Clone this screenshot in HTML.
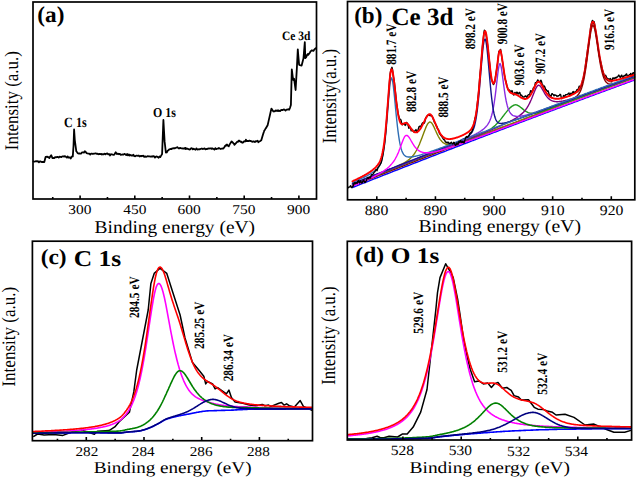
<!DOCTYPE html>
<html><head><meta charset="utf-8"><style>html,body{margin:0;padding:0;background:#fff;width:637px;height:479px;overflow:hidden}svg{display:block;font-family:"Liberation Serif",serif}</style></head>
<body><svg width="637" height="479" viewBox="0 0 637 479">
<rect width="637" height="479" fill="#fff"/>
<g font-family="Liberation Serif" font-size="100" fill="#000" text-rendering="geometricPrecision">
<text transform="matrix(0.23241 0 0 0.22556 37.37 21.66)" font-weight="bold">(a)</text>
<text transform="matrix(0.12123 0 0 0.14179 64.09 126.56)" font-weight="bold">C 1s</text>
<text transform="matrix(0.11957 0 0 0.13529 152.90 116.73)" font-weight="bold">O 1s</text>
<text transform="matrix(0.11494 0 0 0.12817 281.93 39.84)" font-weight="bold">Ce 3d</text>
<text transform="matrix(0.15475 0 0 0.13582 68.32 214.33)" font-weight="normal">300</text>
<text transform="matrix(0.15475 0 0 0.13582 123.25 214.33)" font-weight="normal">450</text>
<text transform="matrix(0.15475 0 0 0.13582 177.54 214.33)" font-weight="normal">600</text>
<text transform="matrix(0.15475 0 0 0.13582 232.31 214.33)" font-weight="normal">750</text>
<text transform="matrix(0.15475 0 0 0.13582 287.02 214.33)" font-weight="normal">900</text>
<text transform="matrix(0.19425 0 0 0.18111 94.62 233.20)" font-weight="normal">Binding energy (eV)</text>
<text transform="matrix(0 -0.16886 0.19222 0 17.86 150.18)" font-weight="normal">Intensity (a.u.)</text>
<text transform="matrix(0.23070 0 0 0.23111 354.18 23.05)" font-weight="bold">(b)</text>
<text transform="matrix(0.25145 0 0 0.24789 391.44 24.80)" font-weight="bold">Ce 3d</text>
<text transform="matrix(0 -0.11191 0.14388 0 395.60 64.80)" font-weight="bold">881.7 eV</text>
<text transform="matrix(0 -0.11191 0.14388 0 415.68 112.00)" font-weight="bold">882.8 eV</text>
<text transform="matrix(0 -0.11191 0.14388 0 447.73 117.60)" font-weight="bold">888.5 eV</text>
<text transform="matrix(0 -0.11191 0.14388 0 474.93 49.25)" font-weight="bold">898.2 eV</text>
<text transform="matrix(0 -0.11191 0.14388 0 506.63 44.20)" font-weight="bold">900.8 eV</text>
<text transform="matrix(0 -0.11191 0.14388 0 524.23 85.40)" font-weight="bold">903.6 eV</text>
<text transform="matrix(0 -0.11191 0.14388 0 544.83 74.10)" font-weight="bold">907.2 eV</text>
<text transform="matrix(0 -0.11191 0.14388 0 614.25 49.95)" font-weight="bold">916.5 eV</text>
<text transform="matrix(0.15750 0 0 0.14286 364.74 214.50)" font-weight="normal">880</text>
<text transform="matrix(0.15750 0 0 0.14286 423.54 214.50)" font-weight="normal">890</text>
<text transform="matrix(0.15750 0 0 0.14286 482.42 214.50)" font-weight="normal">900</text>
<text transform="matrix(0.15750 0 0 0.14286 540.97 214.57)" font-weight="normal">910</text>
<text transform="matrix(0.15750 0 0 0.14286 599.77 214.50)" font-weight="normal">920</text>
<text transform="matrix(0.19682 0 0 0.18000 418.41 231.72)" font-weight="normal">Binding energy (eV)</text>
<text transform="matrix(0 -0.16817 0.20000 0 335.90 143.27)" font-weight="normal">Intensity(a.u.)</text>
<text transform="matrix(0.23301 0 0 0.21778 40.67 264.43)" font-weight="bold">(c)</text>
<text transform="matrix(0.25475 0 0 0.22687 73.73 265.67)" font-weight="bold">C 1s</text>
<text transform="matrix(0 -0.11369 0.14129 0 139.30 318.03)" font-weight="bold">284.5 eV</text>
<text transform="matrix(0 -0.11369 0.14129 0 204.30 348.97)" font-weight="bold">285.25 eV</text>
<text transform="matrix(0 -0.11369 0.14129 0 232.95 381.37)" font-weight="bold">286.34 eV</text>
<text transform="matrix(0.15186 0 0 0.13582 75.51 455.93)" font-weight="normal">282</text>
<text transform="matrix(0.15186 0 0 0.13582 131.86 455.93)" font-weight="normal">284</text>
<text transform="matrix(0.15186 0 0 0.13582 189.73 455.93)" font-weight="normal">286</text>
<text transform="matrix(0.15186 0 0 0.13582 246.96 455.93)" font-weight="normal">288</text>
<text transform="matrix(0.19108 0 0 0.16556 93.73 472.92)" font-weight="normal">Binding energy (eV)</text>
<text transform="matrix(0 -0.17024 0.19000 0 14.81 386.58)" font-weight="normal">Intensity (a.u.)</text>
<text transform="matrix(0.23421 0 0 0.22111 355.36 262.36)" font-weight="bold">(d)</text>
<text transform="matrix(0.25326 0 0 0.22500 390.83 263.45)" font-weight="bold">O 1s</text>
<text transform="matrix(0 -0.11464 0.14113 0 422.95 333.71)" font-weight="bold">529.6 eV</text>
<text transform="matrix(0 -0.11464 0.14113 0 507.47 372.71)" font-weight="bold">531.2 eV</text>
<text transform="matrix(0 -0.11464 0.14113 0 547.05 394.66)" font-weight="bold">532.4 eV</text>
<text transform="matrix(0.15484 0 0 0.14136 390.68 455.45)" font-weight="normal">528</text>
<text transform="matrix(0.15484 0 0 0.14136 448.73 455.45)" font-weight="normal">530</text>
<text transform="matrix(0.15484 0 0 0.14136 507.04 455.52)" font-weight="normal">532</text>
<text transform="matrix(0.15484 0 0 0.14136 564.83 455.52)" font-weight="normal">534</text>
<text transform="matrix(0.19438 0 0 0.16556 409.52 472.92)" font-weight="normal">Binding energy (eV)</text>
<text transform="matrix(0 -0.16799 0.20000 0 334.60 384.87)" font-weight="normal">Intensity (a.u.)</text>
</g>
<polyline points="33.5,161.4 34.4,161.6 35.3,161.4 36.2,161.1 37.1,161.4 38.0,161.2 38.0,161.6 38.9,162.3 39.8,161.5 40.7,161.5 41.6,162.0 42.5,162.0 43.4,162.0 44.3,161.6 44.3,162.0 45.2,158.5 45.6,157.0 46.1,157.0 47.0,156.6 47.9,157.2 48.8,157.2 49.3,158.1 49.7,157.5 50.6,156.1 51.2,155.2 51.5,155.8 52.4,158.0 52.5,158.2 53.3,158.0 54.2,158.0 55.1,157.1 56.0,157.4 56.9,157.0 57.8,156.9 58.7,157.6 59.6,156.6 60.5,156.8 61.4,157.1 62.3,156.3 63.2,156.3 63.2,156.4 64.1,156.6 65.0,156.1 65.9,156.9 66.8,157.6 67.7,156.4 68.6,157.7 69.5,157.5 70.4,157.3 70.7,158.5 71.3,157.6 72.2,156.2 72.8,156.4 73.1,151.9 73.5,146.0 74.0,132.3 74.1,129.5 74.8,140.0 74.9,140.8 75.8,147.5 76.3,151.3 76.7,151.6 77.6,153.1 78.2,153.3 78.5,153.5 79.4,153.4 80.3,153.7 81.2,153.6 82.1,152.3 83.0,152.3 83.9,152.7 84.8,151.3 85.7,151.8 85.8,152.0 86.6,153.1 87.5,153.5 88.3,153.7 88.4,153.6 89.3,153.7 90.2,154.5 91.1,153.6 92.0,153.7 92.9,154.0 93.8,153.7 94.7,153.7 95.6,153.3 96.5,153.8 97.4,153.6 98.3,154.3 98.3,154.1 99.2,153.9 100.1,154.2 101.0,153.8 101.9,154.5 102.8,154.1 103.7,154.4 104.6,153.6 105.5,154.4 106.4,153.6 107.3,153.5 108.2,154.3 109.1,154.1 110.0,154.7 110.0,155.6 110.9,154.2 111.8,154.3 112.7,154.7 113.6,154.8 114.4,154.6 114.5,154.4 115.4,152.7 115.7,152.3 116.3,153.0 116.9,154.0 117.2,154.0 118.1,153.7 119.0,154.3 119.9,153.9 120.8,154.8 121.7,154.6 122.6,154.6 122.6,154.3 123.5,154.6 124.4,153.9 125.3,154.3 126.2,155.1 127.1,154.0 128.0,155.4 128.9,154.4 129.8,155.6 130.7,154.9 131.6,155.7 132.5,155.5 133.4,154.8 134.3,156.2 135.2,156.3 136.1,155.7 137.0,155.7 137.9,155.8 138.8,155.5 139.7,156.5 140.6,155.9 141.4,156.2 141.5,155.8 142.4,156.0 143.3,155.7 144.2,156.9 145.1,156.3 146.0,156.9 146.9,156.5 147.8,156.2 148.7,156.4 149.6,156.3 150.5,156.6 151.4,156.5 152.3,156.6 153.2,156.1 154.1,156.4 155.0,157.6 155.9,156.6 156.8,156.5 157.7,157.1 158.6,157.7 159.5,156.4 160.3,157.1 160.4,156.9 161.3,155.4 162.1,154.0 162.2,151.4 163.1,127.8 163.4,120.0 164.0,130.7 164.6,141.4 164.9,144.0 165.8,151.8 165.9,152.7 166.7,152.5 167.6,150.8 168.5,150.2 169.0,149.6 169.4,149.3 170.3,149.0 171.2,149.2 172.1,148.5 173.0,148.3 173.9,148.1 174.8,148.4 175.3,148.0 175.7,147.9 176.6,147.5 177.5,147.2 178.4,148.3 179.3,148.4 180.2,147.9 181.1,148.3 182.0,148.4 182.9,148.5 183.8,148.6 184.7,148.1 185.4,149.0 185.6,147.8 186.5,148.8 187.4,148.7 188.3,149.0 189.2,149.5 190.1,149.4 191.0,148.3 191.9,148.2 192.8,149.4 193.7,148.7 194.6,149.2 195.5,149.7 196.3,148.7 196.4,148.4 197.3,149.5 198.2,149.3 199.1,149.2 200.0,149.3 200.9,148.8 201.8,148.5 202.7,149.1 203.6,148.7 204.5,148.3 205.4,149.3 206.3,149.0 207.2,149.1 208.1,148.5 209.0,148.6 209.9,148.4 210.8,148.4 211.7,148.9 212.6,148.4 213.2,148.9 213.5,148.9 214.4,149.6 215.3,148.1 216.2,149.1 217.1,148.7 218.0,148.7 218.9,148.0 219.8,148.5 220.7,149.0 221.6,148.7 222.4,148.7 222.5,148.5 223.4,148.5 224.3,147.3 225.2,145.7 226.0,145.8 226.1,145.2 227.0,144.5 227.9,145.7 228.8,146.4 228.8,145.8 229.7,144.4 230.6,142.9 231.5,141.5 231.6,141.4 232.4,142.2 233.3,143.2 234.2,144.2 234.4,144.8 235.1,144.1 236.0,143.2 236.9,141.9 237.8,141.9 238.7,140.6 238.7,141.4 239.6,140.8 240.5,141.7 241.4,142.2 241.5,141.7 242.3,142.8 243.2,142.4 244.1,141.2 245.0,141.5 245.7,141.1 245.9,139.7 246.8,141.1 247.7,141.0 248.6,141.1 249.5,140.6 250.4,141.0 251.3,141.1 252.2,141.8 253.1,141.5 254.0,141.4 254.9,142.1 255.8,141.2 256.7,141.3 257.6,140.7 258.4,142.3 258.5,142.0 259.4,141.5 260.3,141.0 261.2,140.3 261.3,140.3 262.1,137.6 263.0,134.6 263.9,131.7 264.1,131.0 264.8,129.9 265.7,128.4 266.6,127.0 267.5,125.6 267.6,125.4 268.4,121.9 269.3,117.9 270.2,113.9 271.1,109.9 271.4,108.6 272.0,109.5 272.9,110.8 273.4,111.5 273.8,111.4 274.7,111.4 275.6,110.5 276.5,110.9 277.4,110.4 278.1,111.1 278.3,110.3 279.2,110.8 280.1,111.0 281.0,110.1 281.9,109.8 282.8,110.0 283.7,109.7 283.8,109.3 284.6,109.9 285.5,110.6 286.4,109.6 287.3,109.6 288.2,109.2 289.1,109.8 289.4,109.1 290.0,107.8 290.9,105.0 290.9,105.0 291.8,69.4 291.8,69.4 292.7,76.5 293.1,79.7 293.6,80.1 294.1,78.8 294.5,81.8 295.4,88.5 295.6,90.0 296.3,77.9 296.9,67.5 297.2,61.6 297.8,49.3 298.1,53.2 299.0,63.5 299.1,64.7 299.9,65.1 300.8,65.4 301.6,65.6 301.7,65.2 302.6,61.7 303.5,58.1 303.5,58.1 304.4,47.1 304.8,42.2 305.3,58.1 305.3,58.1 306.2,57.1 307.1,54.9 308.0,54.0 308.2,54.8 308.9,54.0 309.8,52.7 310.7,51.1 311.6,50.7 311.9,50.3 312.5,50.6 313.4,50.9 314.3,49.6 315.2,48.7 315.7,48.3" fill="none" stroke="#000" stroke-width="1.8" stroke-linejoin="round" stroke-linecap="round"/><polyline points="352.5,187.5 353.1,187.2 353.7,187.0 354.3,186.8 354.9,186.5 355.5,186.3 356.1,186.1 356.7,185.8 357.3,185.6 357.9,185.3 358.5,185.1 359.1,184.9 359.7,184.6 360.3,184.4 360.9,184.2 361.5,183.9 362.1,183.7 362.7,183.4 363.3,183.2 363.9,183.0 364.5,182.7 365.1,182.5 365.7,182.3 366.3,182.0 366.9,181.8 367.5,181.6 368.1,181.3 368.7,181.1 369.3,180.8 369.9,180.6 370.5,180.4 371.1,180.1 371.7,179.9 372.3,179.7 372.9,179.4 373.5,179.2 374.1,178.9 374.7,178.7 375.3,178.5 375.9,178.2 376.5,178.0 377.1,177.8 377.7,177.5 378.3,177.3 378.9,177.1 379.5,176.8 380.1,176.6 380.7,176.3 381.3,176.1 381.9,175.9 382.5,175.6 383.1,175.4 383.7,175.2 384.3,174.9 384.9,174.7 385.5,174.5 386.1,174.2 386.7,174.0 387.3,173.8 387.9,173.5 388.5,173.3 389.1,173.0 389.7,172.8 390.3,172.6 390.9,172.3 391.5,172.1 392.1,171.9 392.7,171.6 393.3,171.4 393.9,171.2 394.5,170.9 395.1,170.7 395.7,170.5 396.3,170.2 396.9,170.0 397.5,169.8 398.1,169.5 398.7,169.3 399.3,169.0 399.9,168.8 400.5,168.6 401.1,168.3 401.7,168.1 402.3,167.9 402.9,167.6 403.5,167.4 404.1,167.2 404.7,166.9 405.3,166.7 405.9,166.5 406.5,166.2 407.1,166.0 407.7,165.8 408.3,165.5 408.9,165.3 409.5,165.1 410.1,164.8 410.7,164.6 411.3,164.4 411.9,164.1 412.5,163.9 413.1,163.7 413.7,163.4 414.3,163.2 414.9,163.0 415.5,162.7 416.1,162.5 416.7,162.3 417.3,162.0 417.9,161.8 418.5,161.6 419.1,161.3 419.7,161.1 420.3,160.9 420.9,160.6 421.5,160.4 422.1,160.2 422.7,159.9 423.3,159.7 423.9,159.5 424.5,159.2 425.1,159.0 425.7,158.8 426.3,158.5 426.9,158.3 427.5,158.1 428.1,157.8 428.7,157.6 429.3,157.4 429.9,157.1 430.5,156.9 431.1,156.7 431.7,156.4 432.3,156.2 432.9,156.0 433.5,155.7 434.1,155.5 434.7,155.3 435.3,155.0 435.9,154.8 436.5,154.6 437.1,154.3 437.7,154.1 438.3,153.9 438.9,153.6 439.5,153.4 440.1,153.2 440.7,152.9 441.3,152.7 441.9,152.5 442.5,152.2 443.1,152.0 443.7,151.8 444.3,151.5 444.9,151.3 445.5,151.1 446.1,150.9 446.7,150.6 447.3,150.4 447.9,150.2 448.5,149.9 449.1,149.7 449.7,149.5 450.3,149.2 450.9,149.0 451.5,148.8 452.1,148.5 452.7,148.3 453.3,148.1 453.9,147.8 454.5,147.6 455.1,147.4 455.7,147.2 456.3,146.9 456.9,146.7 457.5,146.5 458.1,146.2 458.7,146.0 459.3,145.8 459.9,145.5 460.5,145.3 461.1,145.1 461.7,144.8 462.3,144.6 462.9,144.4 463.5,144.1 464.1,143.9 464.7,143.7 465.3,143.5 465.9,143.2 466.5,143.0 467.1,142.8 467.7,142.5 468.3,142.3 468.9,142.1 469.5,141.8 470.1,141.6 470.7,141.4 471.3,141.2 471.9,140.9 472.5,140.7 473.1,140.5 473.7,140.2 474.3,140.0 474.9,139.8 475.5,139.5 476.1,139.3 476.7,139.1 477.3,138.9 477.9,138.6 478.5,138.4 479.1,138.2 479.7,137.9 480.3,137.7 480.9,137.5 481.5,137.2 482.1,137.0 482.7,136.8 483.3,136.6 483.9,136.3 484.5,136.1 485.1,135.9 485.7,135.6 486.3,135.4 486.9,135.2 487.5,135.0 488.1,134.7 488.7,134.5 489.3,134.3 489.9,134.0 490.5,133.8 491.1,133.6 491.7,133.4 492.3,133.1 492.9,132.9 493.5,132.7 494.1,132.4 494.7,132.2 495.3,132.0 495.9,131.8 496.5,131.5 497.1,131.3 497.7,131.1 498.3,130.8 498.9,130.6 499.5,130.4 500.1,130.2 500.7,129.9 501.3,129.7 501.9,129.5 502.5,129.2 503.1,129.0 503.7,128.8 504.3,128.6 504.9,128.3 505.5,128.1 506.1,127.9 506.7,127.6 507.3,127.4 507.9,127.2 508.5,127.0 509.1,126.7 509.7,126.5 510.3,126.3 510.9,126.1 511.5,125.8 512.1,125.6 512.7,125.4 513.3,125.1 513.9,124.9 514.5,124.7 515.1,124.5 515.7,124.2 516.3,124.0 516.9,123.8 517.5,123.6 518.1,123.3 518.7,123.1 519.3,122.9 519.9,122.6 520.5,122.4 521.1,122.2 521.7,122.0 522.3,121.7 522.9,121.5 523.5,121.3 524.1,121.1 524.7,120.8 525.3,120.6 525.9,120.4 526.5,120.2 527.1,119.9 527.7,119.7 528.3,119.5 528.9,119.2 529.5,119.0 530.1,118.8 530.7,118.6 531.3,118.3 531.9,118.1 532.5,117.9 533.1,117.7 533.7,117.4 534.3,117.2 534.9,117.0 535.5,116.8 536.1,116.5 536.7,116.3 537.3,116.1 537.9,115.9 538.5,115.6 539.1,115.4 539.7,115.2 540.3,115.0 540.9,114.7 541.5,114.5 542.1,114.3 542.7,114.1 543.3,113.8 543.9,113.6 544.5,113.4 545.1,113.2 545.7,112.9 546.3,112.7 546.9,112.5 547.5,112.3 548.1,112.0 548.7,111.8 549.3,111.6 549.9,111.4 550.5,111.1 551.1,110.9 551.7,110.7 552.3,110.5 552.9,110.2 553.5,110.0 554.1,109.8 554.7,109.6 555.3,109.3 555.9,109.1 556.5,108.9 557.1,108.7 557.7,108.4 558.3,108.2 558.9,108.0 559.5,107.8 560.1,107.5 560.7,107.3 561.3,107.1 561.9,106.9 562.5,106.6 563.1,106.4 563.7,106.2 564.3,106.0 564.9,105.7 565.5,105.5 566.1,105.3 566.7,105.1 567.3,104.8 567.9,104.6 568.5,104.4 569.1,104.2 569.7,104.0 570.3,103.7 570.9,103.5 571.5,103.3 572.1,103.1 572.7,102.8 573.3,102.6 573.9,102.4 574.5,102.2 575.1,101.9 575.7,101.7 576.3,101.5 576.9,101.3 577.5,101.0 578.1,100.8 578.7,100.6 579.3,100.4 579.9,100.2 580.5,99.9 581.1,99.7 581.7,99.5 582.3,99.3 582.9,99.0 583.5,98.8 584.1,98.6 584.7,98.4 585.3,98.2 585.9,97.9 586.5,97.7 587.1,97.5 587.7,97.3 588.3,97.0 588.9,96.8 589.5,96.6 590.1,96.4 590.7,96.2 591.3,95.9 591.9,95.7 592.5,95.5 593.1,95.3 593.7,95.0 594.3,94.8 594.9,94.6 595.5,94.4 596.1,94.2 596.7,93.9 597.3,93.7 597.9,93.5 598.5,93.3 599.1,93.0 599.7,92.8 600.3,92.6 600.9,92.4 601.5,92.2 602.1,91.9 602.7,91.7 603.3,91.5 603.9,91.3 604.5,91.0 605.1,90.8 605.7,90.6 606.3,90.4 606.9,90.2 607.5,89.9 608.1,89.7 608.7,89.5 609.3,89.3 609.9,89.1 610.5,88.8 611.1,88.6 611.7,88.4 612.3,88.2 612.9,88.0 613.5,87.7 614.1,87.5 614.7,87.3 615.3,87.1 615.9,86.9 616.5,86.6 617.1,86.4 617.7,86.2 618.3,86.0 618.9,85.7 619.5,85.5 620.1,85.3 620.7,85.1 621.3,84.9 621.9,84.6 622.5,84.4 623.1,84.2 623.7,84.0 624.3,83.8 624.9,83.5 625.5,83.3 626.1,83.1 626.7,82.9 627.3,82.7 627.9,82.4 628.5,82.2 629.1,82.0 629.7,81.8 630.3,81.6 630.9,81.3 631.5,81.1 632.1,80.9 632.7,80.7 633.3,80.5 633.9,80.3 634.5,80.0" fill="none" stroke="#0000ff" stroke-width="1.4" stroke-linejoin="round" stroke-linecap="round"/><polyline points="352.5,185.9 353.1,185.6 353.7,185.4 354.3,185.2 354.9,184.9 355.5,184.7 356.1,184.4 356.7,184.2 357.3,184.0 357.9,183.7 358.5,183.5 359.1,183.3 359.7,183.0 360.3,182.8 360.9,182.5 361.5,182.3 362.1,182.1 362.7,181.8 363.3,181.6 363.9,181.4 364.5,181.1 365.1,180.9 365.7,180.6 366.3,180.4 366.9,180.2 367.5,179.9 368.1,179.7 368.7,179.5 369.3,179.2 369.9,179.0 370.5,178.7 371.1,178.5 371.7,178.3 372.3,178.0 372.9,177.8 373.5,177.6 374.1,177.3 374.7,177.1 375.3,176.9 375.9,176.6 376.5,176.4 377.1,176.1 377.7,175.9 378.3,175.7 378.9,175.4 379.5,175.2 380.1,175.0 380.7,174.7 381.3,174.5 381.9,174.3 382.5,174.0 383.1,173.8 383.7,173.5 384.3,173.3 384.9,173.1 385.5,172.8 386.1,172.6 386.7,172.4 387.3,172.1 387.9,171.9 388.5,171.7 389.1,171.4 389.7,171.2 390.3,171.0 390.9,170.7 391.5,170.5 392.1,170.2 392.7,170.0 393.3,169.8 393.9,169.5 394.5,169.3 395.1,169.1 395.7,168.8 396.3,168.6 396.9,168.4 397.5,168.1 398.1,167.9 398.7,167.7 399.3,167.4 399.9,167.2 400.5,167.0 401.1,166.7 401.7,166.5 402.3,166.3 402.9,166.0 403.5,165.8 404.1,165.5 404.7,165.3 405.3,165.1 405.9,164.8 406.5,164.6 407.1,164.4 407.7,164.1 408.3,163.9 408.9,163.7 409.5,163.4 410.1,163.2 410.7,163.0 411.3,162.7 411.9,162.5 412.5,162.3 413.1,162.0 413.7,161.8 414.3,161.6 414.9,161.3 415.5,161.1 416.1,160.9 416.7,160.6 417.3,160.4 417.9,160.2 418.5,159.9 419.1,159.7 419.7,159.5 420.3,159.2 420.9,159.0 421.5,158.8 422.1,158.5 422.7,158.3 423.3,158.1 423.9,157.8 424.5,157.6 425.1,157.4 425.7,157.1 426.3,156.9 426.9,156.7 427.5,156.4 428.1,156.2 428.7,156.0 429.3,155.7 429.9,155.5 430.5,155.3 431.1,155.0 431.7,154.8 432.3,154.6 432.9,154.3 433.5,154.1 434.1,153.9 434.7,153.6 435.3,153.4 435.9,153.2 436.5,152.9 437.1,152.7 437.7,152.5 438.3,152.2 438.9,152.0 439.5,151.8 440.1,151.5 440.7,151.3 441.3,151.1 441.9,150.8 442.5,150.6 443.1,150.4 443.7,150.1 444.3,149.9 444.9,149.7 445.5,149.4 446.1,149.2 446.7,149.0 447.3,148.7 447.9,148.5 448.5,148.3 449.1,148.1 449.7,147.8 450.3,147.6 450.9,147.4 451.5,147.1 452.1,146.9 452.7,146.7 453.3,146.4 453.9,146.2 454.5,146.0 455.1,145.7 455.7,145.5 456.3,145.3 456.9,145.0 457.5,144.8 458.1,144.6 458.7,144.3 459.3,144.1 459.9,143.9 460.5,143.7 461.1,143.4 461.7,143.2 462.3,143.0 462.9,142.7 463.5,142.5 464.1,142.3 464.7,142.0 465.3,141.8 465.9,141.6 466.5,141.3 467.1,141.1 467.7,140.9 468.3,140.6 468.9,140.4 469.5,140.2 470.1,140.0 470.7,139.7 471.3,139.5 471.9,139.3 472.5,139.0 473.1,138.8 473.7,138.6 474.3,138.3 474.9,138.1 475.5,137.9 476.1,137.6 476.7,137.4 477.3,137.2 477.9,137.0 478.5,136.7 479.1,136.5 479.7,136.3 480.3,136.0 480.9,135.8 481.5,135.6 482.1,135.3 482.7,135.1 483.3,134.9 483.9,134.7 484.5,134.4 485.1,134.2 485.7,134.0 486.3,133.7 486.9,133.5 487.5,133.3 488.1,133.0 488.7,132.8 489.3,132.6 489.9,132.4 490.5,132.1 491.1,131.9 491.7,131.7 492.3,131.4 492.9,131.2 493.5,131.0 494.1,130.7 494.7,130.5 495.3,130.3 495.9,130.1 496.5,129.8 497.1,129.6 497.7,129.4 498.3,129.1 498.9,128.9 499.5,128.7 500.1,128.4 500.7,128.2 501.3,128.0 501.9,127.8 502.5,127.5 503.1,127.3 503.7,127.1 504.3,126.8 504.9,126.6 505.5,126.4 506.1,126.2 506.7,125.9 507.3,125.7 507.9,125.5 508.5,125.2 509.1,125.0 509.7,124.8 510.3,124.5 510.9,124.3 511.5,124.1 512.1,123.9 512.7,123.6 513.3,123.4 513.9,123.2 514.5,122.9 515.1,122.7 515.7,122.5 516.3,122.3 516.9,122.0 517.5,121.8 518.1,121.6 518.7,121.3 519.3,121.1 519.9,120.9 520.5,120.6 521.1,120.4 521.7,120.2 522.3,120.0 522.9,119.7 523.5,119.5 524.1,119.3 524.7,119.0 525.3,118.8 525.9,118.6 526.5,118.3 527.1,118.1 527.7,117.9 528.3,117.7 528.9,117.4 529.5,117.2 530.1,117.0 530.7,116.7 531.3,116.5 531.9,116.3 532.5,116.0 533.1,115.8 533.7,115.6 534.3,115.3 534.9,115.1 535.5,114.9 536.1,114.7 536.7,114.4 537.3,114.2 537.9,114.0 538.5,113.7 539.1,113.5 539.7,113.3 540.3,113.0 540.9,112.8 541.5,112.6 542.1,112.3 542.7,112.1 543.3,111.9 543.9,111.6 544.5,111.4 545.1,111.2 545.7,110.9 546.3,110.7 546.9,110.4 547.5,110.2 548.1,110.0 548.7,109.7 549.3,109.5 549.9,109.3 550.5,109.0 551.1,108.8 551.7,108.5 552.3,108.3 552.9,108.1 553.5,107.8 554.1,107.6 554.7,107.3 555.3,107.1 555.9,106.8 556.5,106.6 557.1,106.3 557.7,106.1 558.3,105.9 558.9,105.6 559.5,105.3 560.1,105.1 560.7,104.8 561.3,104.6 561.9,104.3 562.5,104.1 563.1,103.8 563.7,103.5 564.3,103.3 564.9,103.0 565.5,102.7 566.1,102.5 566.7,102.2 567.3,101.9 567.9,101.6 568.5,101.3 569.1,101.0 569.7,100.7 570.3,100.4 570.9,100.1 571.5,99.8 572.1,99.5 572.7,99.1 573.3,98.8 573.9,98.4 574.5,98.0 575.1,97.6 575.7,97.1 576.3,96.6 576.9,96.1 577.5,95.5 578.1,94.8 578.7,94.0 579.3,93.1 579.9,92.1 580.5,90.9 581.1,89.4 581.7,87.8 582.3,85.9 582.9,83.7 583.5,81.2 584.1,78.3 584.7,75.1 585.3,71.5 585.9,67.7 586.5,63.5 587.1,59.0 587.7,54.4 588.3,49.7 588.9,44.9 589.5,40.4 590.1,36.1 590.7,32.4 591.3,29.2 591.9,27.0 592.5,25.7 593.1,25.5 593.7,26.2 594.3,27.8 594.9,30.2 595.5,33.3 596.1,36.8 596.7,40.6 597.3,44.7 597.9,48.8 598.5,52.8 599.1,56.7 599.7,60.4 600.3,63.8 600.9,67.0 601.5,69.8 602.1,72.3 602.7,74.6 603.3,76.5 603.9,78.1 604.5,79.5 605.1,80.6 605.7,81.5 606.3,82.2 606.9,82.8 607.5,83.3 608.1,83.6 608.7,83.8 609.3,84.0 609.9,84.1 610.5,84.1 611.1,84.1 611.7,84.1 612.3,84.1 612.9,84.0 613.5,83.9 614.1,83.8 614.7,83.7 615.3,83.6 615.9,83.5 616.5,83.3 617.1,83.2 617.7,83.0 618.3,82.9 618.9,82.7 619.5,82.6 620.1,82.4 620.7,82.2 621.3,82.1 621.9,81.9 622.5,81.7 623.1,81.5 623.7,81.4 624.3,81.2 624.9,81.0 625.5,80.8 626.1,80.6 626.7,80.4 627.3,80.2 627.9,80.0 628.5,79.9 629.1,79.7 629.7,79.5 630.3,79.3 630.9,79.1 631.5,78.9 632.1,78.7 632.7,78.5 633.3,78.3 633.9,78.1 634.5,77.9" fill="none" stroke="#8b0000" stroke-width="1.4" stroke-linejoin="round" stroke-linecap="round"/><polyline points="352.5,185.2 353.1,185.0 353.7,184.7 354.3,184.5 354.9,184.2 355.5,184.0 356.1,183.8 356.7,183.5 357.3,183.3 357.9,183.0 358.5,182.8 359.1,182.6 359.7,182.3 360.3,182.1 360.9,181.8 361.5,181.6 362.1,181.3 362.7,181.1 363.3,180.8 363.9,180.6 364.5,180.4 365.1,180.1 365.7,179.9 366.3,179.6 366.9,179.4 367.5,179.1 368.1,178.9 368.7,178.7 369.3,178.4 369.9,178.2 370.5,177.9 371.1,177.7 371.7,177.4 372.3,177.2 372.9,176.9 373.5,176.7 374.1,176.4 374.7,176.2 375.3,175.9 375.9,175.7 376.5,175.4 377.1,175.2 377.7,174.9 378.3,174.7 378.9,174.4 379.5,174.2 380.1,173.9 380.7,173.7 381.3,173.4 381.9,173.2 382.5,172.9 383.1,172.7 383.7,172.4 384.3,172.2 384.9,171.9 385.5,171.7 386.1,171.4 386.7,171.2 387.3,170.9 387.9,170.6 388.5,170.4 389.1,170.1 389.7,169.8 390.3,169.6 390.9,169.3 391.5,169.1 392.1,168.8 392.7,168.5 393.3,168.2 393.9,168.0 394.5,167.7 395.1,167.4 395.7,167.1 396.3,166.9 396.9,166.6 397.5,166.3 398.1,166.0 398.7,165.7 399.3,165.4 399.9,165.1 400.5,164.8 401.1,164.5 401.7,164.2 402.3,163.9 402.9,163.6 403.5,163.2 404.1,162.9 404.7,162.5 405.3,162.2 405.9,161.8 406.5,161.4 407.1,161.0 407.7,160.6 408.3,160.1 408.9,159.7 409.5,159.2 410.1,158.6 410.7,158.1 411.3,157.5 411.9,156.9 412.5,156.2 413.1,155.4 413.7,154.7 414.3,153.8 414.9,153.0 415.5,152.0 416.1,151.0 416.7,149.9 417.3,148.8 417.9,147.6 418.5,146.3 419.1,145.0 419.7,143.6 420.3,142.1 420.9,140.6 421.5,139.0 422.1,137.4 422.7,135.8 423.3,134.2 423.9,132.5 424.5,130.9 425.1,129.4 425.7,127.9 426.3,126.5 426.9,125.3 427.5,124.2 428.1,123.3 428.7,122.7 429.3,122.2 429.9,122.0 430.5,122.1 431.1,122.5 431.7,123.1 432.3,123.9 432.9,124.9 433.5,126.1 434.1,127.3 434.7,128.6 435.3,130.0 435.9,131.3 436.5,132.6 437.1,133.9 437.7,135.1 438.3,136.3 438.9,137.3 439.5,138.3 440.1,139.3 440.7,140.1 441.3,140.8 441.9,141.5 442.5,142.1 443.1,142.6 443.7,143.0 444.3,143.4 444.9,143.7 445.5,144.0 446.1,144.2 446.7,144.3 447.3,144.4 447.9,144.5 448.5,144.5 449.1,144.5 449.7,144.5 450.3,144.5 450.9,144.4 451.5,144.3 452.1,144.2 452.7,144.1 453.3,144.0 453.9,143.9 454.5,143.7 455.1,143.6 455.7,143.4 456.3,143.3 456.9,143.1 457.5,142.9 458.1,142.8 458.7,142.6 459.3,142.4 459.9,142.2 460.5,142.1 461.1,141.9 461.7,141.7 462.3,141.5 462.9,141.3 463.5,141.1 464.1,140.9 464.7,140.7 465.3,140.5 465.9,140.3 466.5,140.1 467.1,139.9 467.7,139.7 468.3,139.5 468.9,139.3 469.5,139.1 470.1,138.9 470.7,138.7 471.3,138.4 471.9,138.2 472.5,138.0 473.1,137.8 473.7,137.6 474.3,137.4 474.9,137.2 475.5,137.0 476.1,136.7 476.7,136.5 477.3,136.3 477.9,136.1 478.5,135.9 479.1,135.7 479.7,135.4 480.3,135.2 480.9,135.0 481.5,134.8 482.1,134.6 482.7,134.3 483.3,134.1 483.9,133.9 484.5,133.7 485.1,133.5 485.7,133.2 486.3,133.0 486.9,132.8 487.5,132.6 488.1,132.4 488.7,132.1 489.3,131.9 489.9,131.7 490.5,131.5 491.1,131.3 491.7,131.0 492.3,130.8 492.9,130.6 493.5,130.4 494.1,130.1 494.7,129.9 495.3,129.7 495.9,129.5 496.5,129.2 497.1,129.0 497.7,128.8 498.3,128.6 498.9,128.4 499.5,128.1 500.1,127.9 500.7,127.7 501.3,127.5 501.9,127.2 502.5,127.0 503.1,126.8 503.7,126.6 504.3,126.3 504.9,126.1 505.5,125.9 506.1,125.7 506.7,125.4 507.3,125.2 507.9,125.0 508.5,124.8 509.1,124.5 509.7,124.3 510.3,124.1 510.9,123.9 511.5,123.6 512.1,123.4 512.7,123.2 513.3,123.0 513.9,122.7 514.5,122.5 515.1,122.3 515.7,122.1 516.3,121.8 516.9,121.6 517.5,121.4 518.1,121.2 518.7,120.9 519.3,120.7 519.9,120.5 520.5,120.3 521.1,120.0 521.7,119.8 522.3,119.6 522.9,119.4 523.5,119.1 524.1,118.9 524.7,118.7 525.3,118.5 525.9,118.2 526.5,118.0 527.1,117.8 527.7,117.6 528.3,117.3 528.9,117.1 529.5,116.9 530.1,116.7 530.7,116.4 531.3,116.2 531.9,116.0 532.5,115.8 533.1,115.5 533.7,115.3 534.3,115.1 534.9,114.9 535.5,114.6 536.1,114.4 536.7,114.2 537.3,114.0 537.9,113.8 538.5,113.5 539.1,113.3 539.7,113.1 540.3,112.9 540.9,112.6 541.5,112.4 542.1,112.2 542.7,112.0 543.3,111.7 543.9,111.5 544.5,111.3 545.1,111.1 545.7,110.8 546.3,110.6 546.9,110.4 547.5,110.2 548.1,109.9 548.7,109.7 549.3,109.5 549.9,109.3 550.5,109.0 551.1,108.8 551.7,108.6 552.3,108.4 552.9,108.1 553.5,107.9 554.1,107.7 554.7,107.5 555.3,107.2 555.9,107.0 556.5,106.8 557.1,106.6 557.7,106.4 558.3,106.1 558.9,105.9 559.5,105.7 560.1,105.5 560.7,105.2 561.3,105.0 561.9,104.8 562.5,104.6 563.1,104.3 563.7,104.1 564.3,103.9 564.9,103.7 565.5,103.4 566.1,103.2 566.7,103.0 567.3,102.8 567.9,102.6 568.5,102.3 569.1,102.1 569.7,101.9 570.3,101.7 570.9,101.4 571.5,101.2 572.1,101.0 572.7,100.8 573.3,100.5 573.9,100.3 574.5,100.1 575.1,99.9 575.7,99.7 576.3,99.4 576.9,99.2 577.5,99.0 578.1,98.8 578.7,98.5 579.3,98.3 579.9,98.1 580.5,97.9 581.1,97.7 581.7,97.4 582.3,97.2 582.9,97.0 583.5,96.8 584.1,96.5 584.7,96.3 585.3,96.1 585.9,95.9 586.5,95.7 587.1,95.4 587.7,95.2 588.3,95.0 588.9,94.8 589.5,94.5 590.1,94.3 590.7,94.1 591.3,93.9 591.9,93.7 592.5,93.4 593.1,93.2 593.7,93.0 594.3,92.8 594.9,92.5 595.5,92.3 596.1,92.1 596.7,91.9 597.3,91.7 597.9,91.4 598.5,91.2 599.1,91.0 599.7,90.8 600.3,90.6 600.9,90.3 601.5,90.1 602.1,89.9 602.7,89.7 603.3,89.4 603.9,89.2 604.5,89.0 605.1,88.8 605.7,88.6 606.3,88.3 606.9,88.1 607.5,87.9 608.1,87.7 608.7,87.5 609.3,87.2 609.9,87.0 610.5,86.8 611.1,86.6 611.7,86.4 612.3,86.1 612.9,85.9 613.5,85.7 614.1,85.5 614.7,85.3 615.3,85.0 615.9,84.8 616.5,84.6 617.1,84.4 617.7,84.2 618.3,83.9 618.9,83.7 619.5,83.5 620.1,83.3 620.7,83.1 621.3,82.8 621.9,82.6 622.5,82.4 623.1,82.2 623.7,82.0 624.3,81.7 624.9,81.5 625.5,81.3 626.1,81.1 626.7,80.9 627.3,80.6 627.9,80.4 628.5,80.2 629.1,80.0 629.7,79.8 630.3,79.5 630.9,79.3 631.5,79.1 632.1,78.9 632.7,78.7 633.3,78.4 633.9,78.2 634.5,78.0" fill="none" stroke="#808000" stroke-width="1.4" stroke-linejoin="round" stroke-linecap="round"/><polyline points="352.5,184.8 353.1,184.5 353.7,184.3 354.3,184.1 354.9,183.8 355.5,183.6 356.1,183.3 356.7,183.1 357.3,182.9 357.9,182.6 358.5,182.4 359.1,182.2 359.7,181.9 360.3,181.7 360.9,181.4 361.5,181.2 362.1,181.0 362.7,180.7 363.3,180.5 363.9,180.3 364.5,180.0 365.1,179.8 365.7,179.5 366.3,179.3 366.9,179.1 367.5,178.8 368.1,178.6 368.7,178.4 369.3,178.1 369.9,177.9 370.5,177.6 371.1,177.4 371.7,177.2 372.3,176.9 372.9,176.7 373.5,176.5 374.1,176.2 374.7,176.0 375.3,175.8 375.9,175.5 376.5,175.3 377.1,175.0 377.7,174.8 378.3,174.6 378.9,174.3 379.5,174.1 380.1,173.9 380.7,173.6 381.3,173.4 381.9,173.2 382.5,172.9 383.1,172.7 383.7,172.4 384.3,172.2 384.9,172.0 385.5,171.7 386.1,171.5 386.7,171.3 387.3,171.0 387.9,170.8 388.5,170.6 389.1,170.3 389.7,170.1 390.3,169.8 390.9,169.6 391.5,169.4 392.1,169.1 392.7,168.9 393.3,168.7 393.9,168.4 394.5,168.2 395.1,168.0 395.7,167.7 396.3,167.5 396.9,167.3 397.5,167.0 398.1,166.8 398.7,166.6 399.3,166.3 399.9,166.1 400.5,165.8 401.1,165.6 401.7,165.4 402.3,165.1 402.9,164.9 403.5,164.7 404.1,164.4 404.7,164.2 405.3,164.0 405.9,163.7 406.5,163.5 407.1,163.3 407.7,163.0 408.3,162.8 408.9,162.6 409.5,162.3 410.1,162.1 410.7,161.9 411.3,161.6 411.9,161.4 412.5,161.2 413.1,160.9 413.7,160.7 414.3,160.4 414.9,160.2 415.5,160.0 416.1,159.7 416.7,159.5 417.3,159.3 417.9,159.0 418.5,158.8 419.1,158.6 419.7,158.3 420.3,158.1 420.9,157.9 421.5,157.6 422.1,157.4 422.7,157.2 423.3,156.9 423.9,156.7 424.5,156.5 425.1,156.2 425.7,156.0 426.3,155.8 426.9,155.5 427.5,155.3 428.1,155.1 428.7,154.8 429.3,154.6 429.9,154.4 430.5,154.1 431.1,153.9 431.7,153.7 432.3,153.4 432.9,153.2 433.5,153.0 434.1,152.7 434.7,152.5 435.3,152.3 435.9,152.0 436.5,151.8 437.1,151.6 437.7,151.3 438.3,151.1 438.9,150.9 439.5,150.6 440.1,150.4 440.7,150.2 441.3,149.9 441.9,149.7 442.5,149.5 443.1,149.2 443.7,149.0 444.3,148.8 444.9,148.5 445.5,148.3 446.1,148.1 446.7,147.8 447.3,147.6 447.9,147.4 448.5,147.1 449.1,146.9 449.7,146.7 450.3,146.4 450.9,146.2 451.5,146.0 452.1,145.7 452.7,145.5 453.3,145.3 453.9,145.0 454.5,144.8 455.1,144.6 455.7,144.3 456.3,144.1 456.9,143.9 457.5,143.6 458.1,143.4 458.7,143.2 459.3,142.9 459.9,142.7 460.5,142.5 461.1,142.2 461.7,142.0 462.3,141.8 462.9,141.5 463.5,141.3 464.1,141.1 464.7,140.8 465.3,140.6 465.9,140.3 466.5,140.1 467.1,139.9 467.7,139.6 468.3,139.4 468.9,139.2 469.5,138.9 470.1,138.7 470.7,138.5 471.3,138.2 471.9,138.0 472.5,137.8 473.1,137.5 473.7,137.3 474.3,137.0 474.9,136.8 475.5,136.6 476.1,136.3 476.7,136.1 477.3,135.8 477.9,135.6 478.5,135.3 479.1,135.1 479.7,134.8 480.3,134.6 480.9,134.3 481.5,134.0 482.1,133.8 482.7,133.5 483.3,133.2 483.9,132.9 484.5,132.6 485.1,132.3 485.7,132.0 486.3,131.7 486.9,131.4 487.5,131.1 488.1,130.7 488.7,130.3 489.3,130.0 489.9,129.6 490.5,129.2 491.1,128.8 491.7,128.3 492.3,127.9 492.9,127.4 493.5,126.9 494.1,126.4 494.7,125.8 495.3,125.3 495.9,124.7 496.5,124.1 497.1,123.5 497.7,122.8 498.3,122.2 498.9,121.5 499.5,120.8 500.1,120.1 500.7,119.3 501.3,118.6 501.9,117.8 502.5,117.0 503.1,116.2 503.7,115.5 504.3,114.7 504.9,113.9 505.5,113.1 506.1,112.4 506.7,111.6 507.3,110.9 507.9,110.2 508.5,109.5 509.1,108.8 509.7,108.2 510.3,107.6 510.9,107.1 511.5,106.6 512.1,106.2 512.7,105.8 513.3,105.5 513.9,105.2 514.5,105.0 515.1,104.9 515.7,104.8 516.3,104.9 516.9,105.0 517.5,105.3 518.1,105.6 518.7,105.9 519.3,106.3 519.9,106.7 520.5,107.2 521.1,107.7 521.7,108.1 522.3,108.6 522.9,109.1 523.5,109.6 524.1,110.1 524.7,110.5 525.3,111.0 525.9,111.3 526.5,111.7 527.1,112.0 527.7,112.3 528.3,112.6 528.9,112.8 529.5,113.0 530.1,113.1 530.7,113.2 531.3,113.3 531.9,113.3 532.5,113.4 533.1,113.3 533.7,113.3 534.3,113.2 534.9,113.2 535.5,113.1 536.1,112.9 536.7,112.8 537.3,112.7 537.9,112.5 538.5,112.4 539.1,112.2 539.7,112.0 540.3,111.8 540.9,111.6 541.5,111.4 542.1,111.2 542.7,111.0 543.3,110.8 543.9,110.6 544.5,110.4 545.1,110.2 545.7,110.0 546.3,109.8 546.9,109.5 547.5,109.3 548.1,109.1 548.7,108.9 549.3,108.7 549.9,108.5 550.5,108.2 551.1,108.0 551.7,107.8 552.3,107.6 552.9,107.4 553.5,107.1 554.1,106.9 554.7,106.7 555.3,106.5 555.9,106.3 556.5,106.0 557.1,105.8 557.7,105.6 558.3,105.4 558.9,105.2 559.5,104.9 560.1,104.7 560.7,104.5 561.3,104.3 561.9,104.1 562.5,103.8 563.1,103.6 563.7,103.4 564.3,103.2 564.9,102.9 565.5,102.7 566.1,102.5 566.7,102.3 567.3,102.1 567.9,101.8 568.5,101.6 569.1,101.4 569.7,101.2 570.3,100.9 570.9,100.7 571.5,100.5 572.1,100.3 572.7,100.1 573.3,99.8 573.9,99.6 574.5,99.4 575.1,99.2 575.7,99.0 576.3,98.7 576.9,98.5 577.5,98.3 578.1,98.1 578.7,97.8 579.3,97.6 579.9,97.4 580.5,97.2 581.1,97.0 581.7,96.7 582.3,96.5 582.9,96.3 583.5,96.1 584.1,95.8 584.7,95.6 585.3,95.4 585.9,95.2 586.5,95.0 587.1,94.7 587.7,94.5 588.3,94.3 588.9,94.1 589.5,93.8 590.1,93.6 590.7,93.4 591.3,93.2 591.9,93.0 592.5,92.7 593.1,92.5 593.7,92.3 594.3,92.1 594.9,91.9 595.5,91.6 596.1,91.4 596.7,91.2 597.3,91.0 597.9,90.7 598.5,90.5 599.1,90.3 599.7,90.1 600.3,89.9 600.9,89.6 601.5,89.4 602.1,89.2 602.7,89.0 603.3,88.8 603.9,88.5 604.5,88.3 605.1,88.1 605.7,87.9 606.3,87.7 606.9,87.4 607.5,87.2 608.1,87.0 608.7,86.8 609.3,86.6 609.9,86.3 610.5,86.1 611.1,85.9 611.7,85.7 612.3,85.4 612.9,85.2 613.5,85.0 614.1,84.8 614.7,84.6 615.3,84.3 615.9,84.1 616.5,83.9 617.1,83.7 617.7,83.5 618.3,83.2 618.9,83.0 619.5,82.8 620.1,82.6 620.7,82.4 621.3,82.1 621.9,81.9 622.5,81.7 623.1,81.5 623.7,81.3 624.3,81.0 624.9,80.8 625.5,80.6 626.1,80.4 626.7,80.2 627.3,79.9 627.9,79.7 628.5,79.5 629.1,79.3 629.7,79.1 630.3,78.8 630.9,78.6 631.5,78.4 632.1,78.2 632.7,78.0 633.3,77.8 633.9,77.5 634.5,77.3" fill="none" stroke="#1f9a1f" stroke-width="1.4" stroke-linejoin="round" stroke-linecap="round"/><polyline points="352.5,184.3 353.1,184.1 353.7,183.9 354.3,183.6 354.9,183.4 355.5,183.1 356.1,182.9 356.7,182.7 357.3,182.4 357.9,182.2 358.5,182.0 359.1,181.7 359.7,181.5 360.3,181.2 360.9,181.0 361.5,180.8 362.1,180.5 362.7,180.3 363.3,180.1 363.9,179.8 364.5,179.6 365.1,179.3 365.7,179.1 366.3,178.9 366.9,178.6 367.5,178.4 368.1,178.2 368.7,177.9 369.3,177.7 369.9,177.4 370.5,177.2 371.1,177.0 371.7,176.7 372.3,176.5 372.9,176.3 373.5,176.0 374.1,175.8 374.7,175.5 375.3,175.3 375.9,175.1 376.5,174.8 377.1,174.6 377.7,174.4 378.3,174.1 378.9,173.9 379.5,173.7 380.1,173.4 380.7,173.2 381.3,172.9 381.9,172.7 382.5,172.5 383.1,172.2 383.7,172.0 384.3,171.8 384.9,171.5 385.5,171.3 386.1,171.1 386.7,170.8 387.3,170.6 387.9,170.3 388.5,170.1 389.1,169.9 389.7,169.6 390.3,169.4 390.9,169.2 391.5,168.9 392.1,168.7 392.7,168.5 393.3,168.2 393.9,168.0 394.5,167.8 395.1,167.5 395.7,167.3 396.3,167.0 396.9,166.8 397.5,166.6 398.1,166.3 398.7,166.1 399.3,165.9 399.9,165.6 400.5,165.4 401.1,165.2 401.7,164.9 402.3,164.7 402.9,164.5 403.5,164.2 404.1,164.0 404.7,163.7 405.3,163.5 405.9,163.3 406.5,163.0 407.1,162.8 407.7,162.6 408.3,162.3 408.9,162.1 409.5,161.9 410.1,161.6 410.7,161.4 411.3,161.2 411.9,160.9 412.5,160.7 413.1,160.5 413.7,160.2 414.3,160.0 414.9,159.8 415.5,159.5 416.1,159.3 416.7,159.0 417.3,158.8 417.9,158.6 418.5,158.3 419.1,158.1 419.7,157.9 420.3,157.6 420.9,157.4 421.5,157.2 422.1,156.9 422.7,156.7 423.3,156.5 423.9,156.2 424.5,156.0 425.1,155.8 425.7,155.5 426.3,155.3 426.9,155.1 427.5,154.8 428.1,154.6 428.7,154.4 429.3,154.1 429.9,153.9 430.5,153.7 431.1,153.4 431.7,153.2 432.3,152.9 432.9,152.7 433.5,152.5 434.1,152.2 434.7,152.0 435.3,151.8 435.9,151.5 436.5,151.3 437.1,151.1 437.7,150.8 438.3,150.6 438.9,150.4 439.5,150.1 440.1,149.9 440.7,149.7 441.3,149.4 441.9,149.2 442.5,149.0 443.1,148.7 443.7,148.5 444.3,148.3 444.9,148.0 445.5,147.8 446.1,147.6 446.7,147.3 447.3,147.1 447.9,146.9 448.5,146.6 449.1,146.4 449.7,146.2 450.3,145.9 450.9,145.7 451.5,145.5 452.1,145.2 452.7,145.0 453.3,144.8 453.9,144.5 454.5,144.3 455.1,144.0 455.7,143.8 456.3,143.6 456.9,143.3 457.5,143.1 458.1,142.9 458.7,142.6 459.3,142.4 459.9,142.2 460.5,141.9 461.1,141.7 461.7,141.5 462.3,141.2 462.9,141.0 463.5,140.8 464.1,140.5 464.7,140.3 465.3,140.1 465.9,139.8 466.5,139.6 467.1,139.3 467.7,139.1 468.3,138.9 468.9,138.6 469.5,138.4 470.1,138.2 470.7,137.9 471.3,137.7 471.9,137.5 472.5,137.2 473.1,137.0 473.7,136.7 474.3,136.5 474.9,136.3 475.5,136.0 476.1,135.8 476.7,135.6 477.3,135.3 477.9,135.1 478.5,134.8 479.1,134.6 479.7,134.4 480.3,134.1 480.9,133.9 481.5,133.7 482.1,133.4 482.7,133.2 483.3,132.9 483.9,132.7 484.5,132.4 485.1,132.2 485.7,132.0 486.3,131.7 486.9,131.5 487.5,131.2 488.1,131.0 488.7,130.8 489.3,130.5 489.9,130.3 490.5,130.0 491.1,129.8 491.7,129.5 492.3,129.3 492.9,129.0 493.5,128.8 494.1,128.5 494.7,128.3 495.3,128.0 495.9,127.8 496.5,127.5 497.1,127.3 497.7,127.0 498.3,126.8 498.9,126.5 499.5,126.2 500.1,126.0 500.7,125.7 501.3,125.5 501.9,125.2 502.5,124.9 503.1,124.7 503.7,124.4 504.3,124.1 504.9,123.8 505.5,123.6 506.1,123.3 506.7,123.0 507.3,122.7 507.9,122.4 508.5,122.1 509.1,121.9 509.7,121.6 510.3,121.3 510.9,120.9 511.5,120.6 512.1,120.3 512.7,120.0 513.3,119.7 513.9,119.3 514.5,119.0 515.1,118.6 515.7,118.3 516.3,117.9 516.9,117.5 517.5,117.1 518.1,116.7 518.7,116.3 519.3,115.9 519.9,115.4 520.5,114.9 521.1,114.4 521.7,113.9 522.3,113.4 522.9,112.8 523.5,112.2 524.1,111.5 524.7,110.8 525.3,110.1 525.9,109.3 526.5,108.5 527.1,107.6 527.7,106.6 528.3,105.6 528.9,104.5 529.5,103.4 530.1,102.1 530.7,100.8 531.3,99.5 531.9,98.0 532.5,96.5 533.1,95.0 533.7,93.5 534.3,92.0 534.9,90.5 535.5,89.1 536.1,87.9 536.7,86.9 537.3,86.1 537.9,85.5 538.5,85.2 539.1,85.3 539.7,85.6 540.3,86.1 540.9,86.9 541.5,87.8 542.1,88.8 542.7,89.9 543.3,90.9 543.9,92.0 544.5,93.1 545.1,94.1 545.7,95.0 546.3,95.9 546.9,96.7 547.5,97.4 548.1,98.1 548.7,98.6 549.3,99.2 549.9,99.6 550.5,100.0 551.1,100.4 551.7,100.6 552.3,100.9 552.9,101.1 553.5,101.3 554.1,101.4 554.7,101.5 555.3,101.6 555.9,101.6 556.5,101.7 557.1,101.7 557.7,101.7 558.3,101.6 558.9,101.6 559.5,101.5 560.1,101.4 560.7,101.4 561.3,101.3 561.9,101.2 562.5,101.1 563.1,101.0 563.7,100.8 564.3,100.7 564.9,100.6 565.5,100.4 566.1,100.3 566.7,100.1 567.3,100.0 567.9,99.8 568.5,99.7 569.1,99.5 569.7,99.3 570.3,99.2 570.9,99.0 571.5,98.8 572.1,98.6 572.7,98.4 573.3,98.3 573.9,98.1 574.5,97.9 575.1,97.7 575.7,97.5 576.3,97.3 576.9,97.1 577.5,96.9 578.1,96.8 578.7,96.6 579.3,96.4 579.9,96.2 580.5,96.0 581.1,95.8 581.7,95.6 582.3,95.4 582.9,95.2 583.5,95.0 584.1,94.8 584.7,94.6 585.3,94.3 585.9,94.1 586.5,93.9 587.1,93.7 587.7,93.5 588.3,93.3 588.9,93.1 589.5,92.9 590.1,92.7 590.7,92.5 591.3,92.3 591.9,92.1 592.5,91.8 593.1,91.6 593.7,91.4 594.3,91.2 594.9,91.0 595.5,90.8 596.1,90.6 596.7,90.4 597.3,90.2 597.9,89.9 598.5,89.7 599.1,89.5 599.7,89.3 600.3,89.1 600.9,88.9 601.5,88.7 602.1,88.4 602.7,88.2 603.3,88.0 603.9,87.8 604.5,87.6 605.1,87.4 605.7,87.2 606.3,86.9 606.9,86.7 607.5,86.5 608.1,86.3 608.7,86.1 609.3,85.9 609.9,85.6 610.5,85.4 611.1,85.2 611.7,85.0 612.3,84.8 612.9,84.6 613.5,84.4 614.1,84.1 614.7,83.9 615.3,83.7 615.9,83.5 616.5,83.3 617.1,83.1 617.7,82.8 618.3,82.6 618.9,82.4 619.5,82.2 620.1,82.0 620.7,81.8 621.3,81.5 621.9,81.3 622.5,81.1 623.1,80.9 623.7,80.7 624.3,80.5 624.9,80.2 625.5,80.0 626.1,79.8 626.7,79.6 627.3,79.4 627.9,79.1 628.5,78.9 629.1,78.7 629.7,78.5 630.3,78.3 630.9,78.1 631.5,77.8 632.1,77.6 632.7,77.4 633.3,77.2 633.9,77.0 634.5,76.8" fill="none" stroke="#800080" stroke-width="1.4" stroke-linejoin="round" stroke-linecap="round"/><polyline points="352.5,183.9 353.1,183.7 353.7,183.5 354.3,183.2 354.9,183.0 355.5,182.7 356.1,182.5 356.7,182.3 357.3,182.0 357.9,181.8 358.5,181.6 359.1,181.3 359.7,181.1 360.3,180.8 360.9,180.6 361.5,180.4 362.1,180.1 362.7,179.9 363.3,179.6 363.9,179.4 364.5,179.2 365.1,178.9 365.7,178.7 366.3,178.5 366.9,178.2 367.5,178.0 368.1,177.7 368.7,177.5 369.3,177.3 369.9,177.0 370.5,176.8 371.1,176.6 371.7,176.3 372.3,176.1 372.9,175.8 373.5,175.6 374.1,175.4 374.7,175.1 375.3,174.9 375.9,174.7 376.5,174.4 377.1,174.2 377.7,174.0 378.3,173.7 378.9,173.5 379.5,173.2 380.1,173.0 380.7,172.8 381.3,172.5 381.9,172.3 382.5,172.1 383.1,171.8 383.7,171.6 384.3,171.3 384.9,171.1 385.5,170.9 386.1,170.6 386.7,170.4 387.3,170.2 387.9,169.9 388.5,169.7 389.1,169.5 389.7,169.2 390.3,169.0 390.9,168.7 391.5,168.5 392.1,168.3 392.7,168.0 393.3,167.8 393.9,167.6 394.5,167.3 395.1,167.1 395.7,166.9 396.3,166.6 396.9,166.4 397.5,166.1 398.1,165.9 398.7,165.7 399.3,165.4 399.9,165.2 400.5,165.0 401.1,164.7 401.7,164.5 402.3,164.3 402.9,164.0 403.5,163.8 404.1,163.5 404.7,163.3 405.3,163.1 405.9,162.8 406.5,162.6 407.1,162.4 407.7,162.1 408.3,161.9 408.9,161.7 409.5,161.4 410.1,161.2 410.7,161.0 411.3,160.7 411.9,160.5 412.5,160.2 413.1,160.0 413.7,159.8 414.3,159.5 414.9,159.3 415.5,159.1 416.1,158.8 416.7,158.6 417.3,158.4 417.9,158.1 418.5,157.9 419.1,157.6 419.7,157.4 420.3,157.2 420.9,156.9 421.5,156.7 422.1,156.5 422.7,156.2 423.3,156.0 423.9,155.8 424.5,155.5 425.1,155.3 425.7,155.0 426.3,154.8 426.9,154.6 427.5,154.3 428.1,154.1 428.7,153.9 429.3,153.6 429.9,153.4 430.5,153.2 431.1,152.9 431.7,152.7 432.3,152.4 432.9,152.2 433.5,152.0 434.1,151.7 434.7,151.5 435.3,151.3 435.9,151.0 436.5,150.8 437.1,150.5 437.7,150.3 438.3,150.1 438.9,149.8 439.5,149.6 440.1,149.4 440.7,149.1 441.3,148.9 441.9,148.6 442.5,148.4 443.1,148.2 443.7,147.9 444.3,147.7 444.9,147.4 445.5,147.2 446.1,147.0 446.7,146.7 447.3,146.5 447.9,146.2 448.5,146.0 449.1,145.8 449.7,145.5 450.3,145.3 450.9,145.0 451.5,144.8 452.1,144.5 452.7,144.3 453.3,144.1 453.9,143.8 454.5,143.6 455.1,143.3 455.7,143.1 456.3,142.8 456.9,142.6 457.5,142.3 458.1,142.1 458.7,141.8 459.3,141.6 459.9,141.3 460.5,141.1 461.1,140.8 461.7,140.6 462.3,140.3 462.9,140.1 463.5,139.8 464.1,139.5 464.7,139.3 465.3,139.0 465.9,138.8 466.5,138.5 467.1,138.2 467.7,138.0 468.3,137.7 468.9,137.4 469.5,137.1 470.1,136.9 470.7,136.6 471.3,136.3 471.9,136.0 472.5,135.7 473.1,135.4 473.7,135.1 474.3,134.8 474.9,134.5 475.5,134.2 476.1,133.9 476.7,133.5 477.3,133.2 477.9,132.9 478.5,132.5 479.1,132.1 479.7,131.8 480.3,131.4 480.9,131.0 481.5,130.6 482.1,130.1 482.7,129.7 483.3,129.2 483.9,128.7 484.5,128.2 485.1,127.6 485.7,127.0 486.3,126.3 486.9,125.6 487.5,124.8 488.1,123.9 488.7,122.9 489.3,121.8 489.9,120.5 490.5,119.0 491.1,117.2 491.7,115.2 492.3,112.9 492.9,110.2 493.5,107.1 494.1,103.5 494.7,99.5 495.3,95.1 495.9,90.2 496.5,85.0 497.1,79.7 497.7,74.5 498.3,69.8 498.9,66.2 499.5,64.0 500.1,63.6 500.7,64.8 501.3,67.5 501.9,71.3 502.5,75.8 503.1,80.5 503.7,85.1 504.3,89.5 504.9,93.6 505.5,97.3 506.1,100.5 506.7,103.3 507.3,105.7 507.9,107.7 508.5,109.4 509.1,110.8 509.7,112.0 510.3,113.0 510.9,113.7 511.5,114.4 512.1,114.9 512.7,115.3 513.3,115.6 513.9,115.8 514.5,116.0 515.1,116.2 515.7,116.3 516.3,116.4 516.9,116.4 517.5,116.4 518.1,116.4 518.7,116.4 519.3,116.3 519.9,116.3 520.5,116.2 521.1,116.1 521.7,116.0 522.3,115.9 522.9,115.8 523.5,115.7 524.1,115.6 524.7,115.4 525.3,115.3 525.9,115.1 526.5,115.0 527.1,114.8 527.7,114.7 528.3,114.5 528.9,114.3 529.5,114.2 530.1,114.0 530.7,113.8 531.3,113.6 531.9,113.5 532.5,113.3 533.1,113.1 533.7,112.9 534.3,112.7 534.9,112.5 535.5,112.3 536.1,112.1 536.7,111.9 537.3,111.7 537.9,111.5 538.5,111.3 539.1,111.1 539.7,110.9 540.3,110.7 540.9,110.5 541.5,110.3 542.1,110.1 542.7,109.9 543.3,109.7 543.9,109.5 544.5,109.3 545.1,109.1 545.7,108.9 546.3,108.6 546.9,108.4 547.5,108.2 548.1,108.0 548.7,107.8 549.3,107.6 549.9,107.4 550.5,107.2 551.1,106.9 551.7,106.7 552.3,106.5 552.9,106.3 553.5,106.1 554.1,105.9 554.7,105.7 555.3,105.4 555.9,105.2 556.5,105.0 557.1,104.8 557.7,104.6 558.3,104.4 558.9,104.1 559.5,103.9 560.1,103.7 560.7,103.5 561.3,103.3 561.9,103.0 562.5,102.8 563.1,102.6 563.7,102.4 564.3,102.2 564.9,102.0 565.5,101.7 566.1,101.5 566.7,101.3 567.3,101.1 567.9,100.9 568.5,100.6 569.1,100.4 569.7,100.2 570.3,100.0 570.9,99.8 571.5,99.5 572.1,99.3 572.7,99.1 573.3,98.9 573.9,98.7 574.5,98.4 575.1,98.2 575.7,98.0 576.3,97.8 576.9,97.6 577.5,97.3 578.1,97.1 578.7,96.9 579.3,96.7 579.9,96.5 580.5,96.2 581.1,96.0 581.7,95.8 582.3,95.6 582.9,95.4 583.5,95.1 584.1,94.9 584.7,94.7 585.3,94.5 585.9,94.3 586.5,94.0 587.1,93.8 587.7,93.6 588.3,93.4 588.9,93.2 589.5,92.9 590.1,92.7 590.7,92.5 591.3,92.3 591.9,92.1 592.5,91.8 593.1,91.6 593.7,91.4 594.3,91.2 594.9,91.0 595.5,90.7 596.1,90.5 596.7,90.3 597.3,90.1 597.9,89.9 598.5,89.6 599.1,89.4 599.7,89.2 600.3,89.0 600.9,88.8 601.5,88.5 602.1,88.3 602.7,88.1 603.3,87.9 603.9,87.7 604.5,87.4 605.1,87.2 605.7,87.0 606.3,86.8 606.9,86.6 607.5,86.3 608.1,86.1 608.7,85.9 609.3,85.7 609.9,85.5 610.5,85.2 611.1,85.0 611.7,84.8 612.3,84.6 612.9,84.4 613.5,84.1 614.1,83.9 614.7,83.7 615.3,83.5 615.9,83.3 616.5,83.0 617.1,82.8 617.7,82.6 618.3,82.4 618.9,82.2 619.5,81.9 620.1,81.7 620.7,81.5 621.3,81.3 621.9,81.1 622.5,80.8 623.1,80.6 623.7,80.4 624.3,80.2 624.9,80.0 625.5,79.8 626.1,79.5 626.7,79.3 627.3,79.1 627.9,78.9 628.5,78.7 629.1,78.4 629.7,78.2 630.3,78.0 630.9,77.8 631.5,77.6 632.1,77.3 632.7,77.1 633.3,76.9 633.9,76.7 634.5,76.5" fill="none" stroke="#8a2be2" stroke-width="1.4" stroke-linejoin="round" stroke-linecap="round"/><polyline points="352.5,183.7 353.1,183.5 353.7,183.3 354.3,183.0 354.9,182.8 355.5,182.6 356.1,182.3 356.7,182.1 357.3,181.8 357.9,181.6 358.5,181.4 359.1,181.1 359.7,180.9 360.3,180.6 360.9,180.4 361.5,180.2 362.1,179.9 362.7,179.7 363.3,179.5 363.9,179.2 364.5,179.0 365.1,178.7 365.7,178.5 366.3,178.3 366.9,178.0 367.5,177.8 368.1,177.6 368.7,177.3 369.3,177.1 369.9,176.8 370.5,176.6 371.1,176.4 371.7,176.1 372.3,175.9 372.9,175.7 373.5,175.4 374.1,175.2 374.7,174.9 375.3,174.7 375.9,174.5 376.5,174.2 377.1,174.0 377.7,173.8 378.3,173.5 378.9,173.3 379.5,173.1 380.1,172.8 380.7,172.6 381.3,172.3 381.9,172.1 382.5,171.9 383.1,171.6 383.7,171.4 384.3,171.2 384.9,170.9 385.5,170.7 386.1,170.4 386.7,170.2 387.3,170.0 387.9,169.7 388.5,169.5 389.1,169.3 389.7,169.0 390.3,168.8 390.9,168.6 391.5,168.3 392.1,168.1 392.7,167.8 393.3,167.6 393.9,167.4 394.5,167.1 395.1,166.9 395.7,166.7 396.3,166.4 396.9,166.2 397.5,166.0 398.1,165.7 398.7,165.5 399.3,165.2 399.9,165.0 400.5,164.8 401.1,164.5 401.7,164.3 402.3,164.1 402.9,163.8 403.5,163.6 404.1,163.4 404.7,163.1 405.3,162.9 405.9,162.6 406.5,162.4 407.1,162.2 407.7,161.9 408.3,161.7 408.9,161.5 409.5,161.2 410.1,161.0 410.7,160.8 411.3,160.5 411.9,160.3 412.5,160.1 413.1,159.8 413.7,159.6 414.3,159.3 414.9,159.1 415.5,158.9 416.1,158.6 416.7,158.4 417.3,158.2 417.9,157.9 418.5,157.7 419.1,157.5 419.7,157.2 420.3,157.0 420.9,156.7 421.5,156.5 422.1,156.3 422.7,156.0 423.3,155.8 423.9,155.6 424.5,155.3 425.1,155.1 425.7,154.8 426.3,154.6 426.9,154.4 427.5,154.1 428.1,153.9 428.7,153.7 429.3,153.4 429.9,153.2 430.5,152.9 431.1,152.7 431.7,152.5 432.3,152.2 432.9,152.0 433.5,151.7 434.1,151.5 434.7,151.3 435.3,151.0 435.9,150.8 436.5,150.6 437.1,150.3 437.7,150.1 438.3,149.8 438.9,149.6 439.5,149.3 440.1,149.1 440.7,148.9 441.3,148.6 441.9,148.4 442.5,148.1 443.1,147.9 443.7,147.6 444.3,147.4 444.9,147.2 445.5,146.9 446.1,146.7 446.7,146.4 447.3,146.2 447.9,145.9 448.5,145.7 449.1,145.4 449.7,145.2 450.3,144.9 450.9,144.7 451.5,144.4 452.1,144.2 452.7,143.9 453.3,143.6 453.9,143.4 454.5,143.1 455.1,142.9 455.7,142.6 456.3,142.3 456.9,142.1 457.5,141.8 458.1,141.5 458.7,141.2 459.3,141.0 459.9,140.7 460.5,140.4 461.1,140.1 461.7,139.8 462.3,139.5 462.9,139.2 463.5,138.9 464.1,138.6 464.7,138.3 465.3,137.9 465.9,137.6 466.5,137.2 467.1,136.9 467.7,136.5 468.3,136.1 468.9,135.6 469.5,135.1 470.1,134.6 470.7,133.9 471.3,133.2 471.9,132.3 472.5,131.3 473.1,130.1 473.7,128.5 474.3,126.7 474.9,124.4 475.5,121.7 476.1,118.4 476.7,114.5 477.3,110.1 477.9,104.9 478.5,99.2 479.1,92.8 479.7,86.0 480.3,78.8 480.9,71.5 481.5,64.2 482.1,57.3 482.7,51.0 483.3,45.7 483.9,41.8 484.5,39.5 485.1,39.0 485.7,40.3 486.3,43.3 486.9,47.8 487.5,53.4 488.1,59.8 488.7,66.6 489.3,73.5 489.9,80.3 490.5,86.8 491.1,92.9 491.7,98.3 492.3,103.2 492.9,107.4 493.5,110.9 494.1,113.9 494.7,116.3 495.3,118.2 495.9,119.7 496.5,120.9 497.1,121.7 497.7,122.3 498.3,122.8 498.9,123.1 499.5,123.3 500.1,123.4 500.7,123.4 501.3,123.4 501.9,123.4 502.5,123.3 503.1,123.2 503.7,123.1 504.3,123.0 504.9,122.9 505.5,122.8 506.1,122.6 506.7,122.5 507.3,122.3 507.9,122.2 508.5,122.0 509.1,121.8 509.7,121.7 510.3,121.5 510.9,121.3 511.5,121.1 512.1,120.9 512.7,120.7 513.3,120.6 513.9,120.4 514.5,120.2 515.1,120.0 515.7,119.8 516.3,119.6 516.9,119.4 517.5,119.2 518.1,119.0 518.7,118.8 519.3,118.6 519.9,118.4 520.5,118.1 521.1,117.9 521.7,117.7 522.3,117.5 522.9,117.3 523.5,117.1 524.1,116.9 524.7,116.7 525.3,116.5 525.9,116.2 526.5,116.0 527.1,115.8 527.7,115.6 528.3,115.4 528.9,115.2 529.5,115.0 530.1,114.7 530.7,114.5 531.3,114.3 531.9,114.1 532.5,113.9 533.1,113.7 533.7,113.4 534.3,113.2 534.9,113.0 535.5,112.8 536.1,112.6 536.7,112.3 537.3,112.1 537.9,111.9 538.5,111.7 539.1,111.5 539.7,111.2 540.3,111.0 540.9,110.8 541.5,110.6 542.1,110.4 542.7,110.1 543.3,109.9 543.9,109.7 544.5,109.5 545.1,109.3 545.7,109.0 546.3,108.8 546.9,108.6 547.5,108.4 548.1,108.1 548.7,107.9 549.3,107.7 549.9,107.5 550.5,107.3 551.1,107.0 551.7,106.8 552.3,106.6 552.9,106.4 553.5,106.1 554.1,105.9 554.7,105.7 555.3,105.5 555.9,105.3 556.5,105.0 557.1,104.8 557.7,104.6 558.3,104.4 558.9,104.1 559.5,103.9 560.1,103.7 560.7,103.5 561.3,103.3 561.9,103.0 562.5,102.8 563.1,102.6 563.7,102.4 564.3,102.1 564.9,101.9 565.5,101.7 566.1,101.5 566.7,101.3 567.3,101.0 567.9,100.8 568.5,100.6 569.1,100.4 569.7,100.1 570.3,99.9 570.9,99.7 571.5,99.5 572.1,99.3 572.7,99.0 573.3,98.8 573.9,98.6 574.5,98.4 575.1,98.2 575.7,97.9 576.3,97.7 576.9,97.5 577.5,97.3 578.1,97.0 578.7,96.8 579.3,96.6 579.9,96.4 580.5,96.2 581.1,95.9 581.7,95.7 582.3,95.5 582.9,95.3 583.5,95.0 584.1,94.8 584.7,94.6 585.3,94.4 585.9,94.2 586.5,93.9 587.1,93.7 587.7,93.5 588.3,93.3 588.9,93.0 589.5,92.8 590.1,92.6 590.7,92.4 591.3,92.2 591.9,91.9 592.5,91.7 593.1,91.5 593.7,91.3 594.3,91.1 594.9,90.8 595.5,90.6 596.1,90.4 596.7,90.2 597.3,89.9 597.9,89.7 598.5,89.5 599.1,89.3 599.7,89.1 600.3,88.8 600.9,88.6 601.5,88.4 602.1,88.2 602.7,88.0 603.3,87.7 603.9,87.5 604.5,87.3 605.1,87.1 605.7,86.9 606.3,86.6 606.9,86.4 607.5,86.2 608.1,86.0 608.7,85.8 609.3,85.5 609.9,85.3 610.5,85.1 611.1,84.9 611.7,84.7 612.3,84.4 612.9,84.2 613.5,84.0 614.1,83.8 614.7,83.5 615.3,83.3 615.9,83.1 616.5,82.9 617.1,82.7 617.7,82.4 618.3,82.2 618.9,82.0 619.5,81.8 620.1,81.6 620.7,81.3 621.3,81.1 621.9,80.9 622.5,80.7 623.1,80.5 623.7,80.2 624.3,80.0 624.9,79.8 625.5,79.6 626.1,79.4 626.7,79.2 627.3,78.9 627.9,78.7 628.5,78.5 629.1,78.3 629.7,78.1 630.3,77.8 630.9,77.6 631.5,77.4 632.1,77.2 632.7,77.0 633.3,76.7 633.9,76.5 634.5,76.3" fill="none" stroke="#14148c" stroke-width="1.4" stroke-linejoin="round" stroke-linecap="round"/><polyline points="352.5,182.4 353.1,182.2 353.7,181.9 354.3,181.7 354.9,181.4 355.5,181.1 356.1,180.9 356.7,180.6 357.3,180.3 357.9,180.1 358.5,179.8 359.1,179.5 359.7,179.3 360.3,179.0 360.9,178.7 361.5,178.4 362.1,178.1 362.7,177.9 363.3,177.6 363.9,177.3 364.5,177.0 365.1,176.7 365.7,176.4 366.3,176.1 366.9,175.8 367.5,175.4 368.1,175.1 368.7,174.8 369.3,174.5 369.9,174.1 370.5,173.8 371.1,173.4 371.7,173.0 372.3,172.6 372.9,172.2 373.5,171.8 374.1,171.4 374.7,170.9 375.3,170.5 375.9,170.0 376.5,169.4 377.1,168.8 377.7,168.2 378.3,167.4 378.9,166.6 379.5,165.6 380.1,164.5 380.7,163.1 381.3,161.5 381.9,159.5 382.5,157.1 383.1,154.2 383.7,150.7 384.3,146.6 384.9,141.9 385.5,136.4 386.1,130.2 386.7,123.4 387.3,116.1 387.9,108.5 388.5,100.9 389.1,93.6 389.7,87.1 390.3,82.0 390.9,78.8 391.5,77.9 392.1,79.0 392.7,81.7 393.3,85.9 393.9,91.1 394.5,97.0 395.1,103.2 395.7,109.6 396.3,115.7 396.9,121.5 397.5,127.0 398.1,131.9 398.7,136.2 399.3,140.1 399.9,143.4 400.5,146.1 401.1,148.5 401.7,150.4 402.3,151.9 402.9,153.2 403.5,154.2 404.1,154.9 404.7,155.5 405.3,156.0 405.9,156.3 406.5,156.6 407.1,156.8 407.7,156.9 408.3,157.0 408.9,157.0 409.5,157.0 410.1,157.0 410.7,157.0 411.3,156.9 411.9,156.8 412.5,156.8 413.1,156.7 413.7,156.6 414.3,156.4 414.9,156.3 415.5,156.2 416.1,156.1 416.7,155.9 417.3,155.8 417.9,155.6 418.5,155.5 419.1,155.3 419.7,155.1 420.3,155.0 420.9,154.8 421.5,154.6 422.1,154.4 422.7,154.2 423.3,154.0 423.9,153.9 424.5,153.7 425.1,153.5 425.7,153.3 426.3,153.1 426.9,152.9 427.5,152.7 428.1,152.5 428.7,152.3 429.3,152.1 429.9,151.9 430.5,151.7 431.1,151.4 431.7,151.2 432.3,151.0 432.9,150.8 433.5,150.6 434.1,150.4 434.7,150.2 435.3,150.0 435.9,149.8 436.5,149.5 437.1,149.3 437.7,149.1 438.3,148.9 438.9,148.7 439.5,148.5 440.1,148.2 440.7,148.0 441.3,147.8 441.9,147.6 442.5,147.4 443.1,147.1 443.7,146.9 444.3,146.7 444.9,146.5 445.5,146.2 446.1,146.0 446.7,145.8 447.3,145.6 447.9,145.4 448.5,145.1 449.1,144.9 449.7,144.7 450.3,144.5 450.9,144.2 451.5,144.0 452.1,143.8 452.7,143.6 453.3,143.3 453.9,143.1 454.5,142.9 455.1,142.7 455.7,142.4 456.3,142.2 456.9,142.0 457.5,141.8 458.1,141.5 458.7,141.3 459.3,141.1 459.9,140.9 460.5,140.6 461.1,140.4 461.7,140.2 462.3,140.0 462.9,139.7 463.5,139.5 464.1,139.3 464.7,139.0 465.3,138.8 465.9,138.6 466.5,138.4 467.1,138.1 467.7,137.9 468.3,137.7 468.9,137.5 469.5,137.2 470.1,137.0 470.7,136.8 471.3,136.6 471.9,136.3 472.5,136.1 473.1,135.9 473.7,135.6 474.3,135.4 474.9,135.2 475.5,135.0 476.1,134.7 476.7,134.5 477.3,134.3 477.9,134.1 478.5,133.8 479.1,133.6 479.7,133.4 480.3,133.1 480.9,132.9 481.5,132.7 482.1,132.5 482.7,132.2 483.3,132.0 483.9,131.8 484.5,131.6 485.1,131.3 485.7,131.1 486.3,130.9 486.9,130.6 487.5,130.4 488.1,130.2 488.7,130.0 489.3,129.7 489.9,129.5 490.5,129.3 491.1,129.1 491.7,128.8 492.3,128.6 492.9,128.4 493.5,128.1 494.1,127.9 494.7,127.7 495.3,127.5 495.9,127.2 496.5,127.0 497.1,126.8 497.7,126.6 498.3,126.3 498.9,126.1 499.5,125.9 500.1,125.6 500.7,125.4 501.3,125.2 501.9,125.0 502.5,124.7 503.1,124.5 503.7,124.3 504.3,124.1 504.9,123.8 505.5,123.6 506.1,123.4 506.7,123.2 507.3,122.9 507.9,122.7 508.5,122.5 509.1,122.2 509.7,122.0 510.3,121.8 510.9,121.6 511.5,121.3 512.1,121.1 512.7,120.9 513.3,120.7 513.9,120.4 514.5,120.2 515.1,120.0 515.7,119.8 516.3,119.5 516.9,119.3 517.5,119.1 518.1,118.8 518.7,118.6 519.3,118.4 519.9,118.2 520.5,117.9 521.1,117.7 521.7,117.5 522.3,117.3 522.9,117.0 523.5,116.8 524.1,116.6 524.7,116.4 525.3,116.1 525.9,115.9 526.5,115.7 527.1,115.5 527.7,115.2 528.3,115.0 528.9,114.8 529.5,114.6 530.1,114.3 530.7,114.1 531.3,113.9 531.9,113.7 532.5,113.4 533.1,113.2 533.7,113.0 534.3,112.8 534.9,112.5 535.5,112.3 536.1,112.1 536.7,111.8 537.3,111.6 537.9,111.4 538.5,111.2 539.1,110.9 539.7,110.7 540.3,110.5 540.9,110.3 541.5,110.0 542.1,109.8 542.7,109.6 543.3,109.4 543.9,109.1 544.5,108.9 545.1,108.7 545.7,108.5 546.3,108.2 546.9,108.0 547.5,107.8 548.1,107.6 548.7,107.4 549.3,107.1 549.9,106.9 550.5,106.7 551.1,106.5 551.7,106.2 552.3,106.0 552.9,105.8 553.5,105.6 554.1,105.3 554.7,105.1 555.3,104.9 555.9,104.7 556.5,104.4 557.1,104.2 557.7,104.0 558.3,103.8 558.9,103.5 559.5,103.3 560.1,103.1 560.7,102.9 561.3,102.6 561.9,102.4 562.5,102.2 563.1,102.0 563.7,101.7 564.3,101.5 564.9,101.3 565.5,101.1 566.1,100.9 566.7,100.6 567.3,100.4 567.9,100.2 568.5,100.0 569.1,99.7 569.7,99.5 570.3,99.3 570.9,99.1 571.5,98.8 572.1,98.6 572.7,98.4 573.3,98.2 573.9,97.9 574.5,97.7 575.1,97.5 575.7,97.3 576.3,97.1 576.9,96.8 577.5,96.6 578.1,96.4 578.7,96.2 579.3,95.9 579.9,95.7 580.5,95.5 581.1,95.3 581.7,95.1 582.3,94.8 582.9,94.6 583.5,94.4 584.1,94.2 584.7,93.9 585.3,93.7 585.9,93.5 586.5,93.3 587.1,93.1 587.7,92.8 588.3,92.6 588.9,92.4 589.5,92.2 590.1,91.9 590.7,91.7 591.3,91.5 591.9,91.3 592.5,91.1 593.1,90.8 593.7,90.6 594.3,90.4 594.9,90.2 595.5,89.9 596.1,89.7 596.7,89.5 597.3,89.3 597.9,89.1 598.5,88.8 599.1,88.6 599.7,88.4 600.3,88.2 600.9,87.9 601.5,87.7 602.1,87.5 602.7,87.3 603.3,87.1 603.9,86.8 604.5,86.6 605.1,86.4 605.7,86.2 606.3,86.0 606.9,85.7 607.5,85.5 608.1,85.3 608.7,85.1 609.3,84.9 609.9,84.6 610.5,84.4 611.1,84.2 611.7,84.0 612.3,83.7 612.9,83.5 613.5,83.3 614.1,83.1 614.7,82.9 615.3,82.6 615.9,82.4 616.5,82.2 617.1,82.0 617.7,81.8 618.3,81.5 618.9,81.3 619.5,81.1 620.1,80.9 620.7,80.7 621.3,80.4 621.9,80.2 622.5,80.0 623.1,79.8 623.7,79.6 624.3,79.3 624.9,79.1 625.5,78.9 626.1,78.7 626.7,78.5 627.3,78.2 627.9,78.0 628.5,77.8 629.1,77.6 629.7,77.4 630.3,77.1 630.9,76.9 631.5,76.7 632.1,76.5 632.7,76.3 633.3,76.0 633.9,75.8 634.5,75.6" fill="none" stroke="#2e6db4" stroke-width="1.4" stroke-linejoin="round" stroke-linecap="round"/><polyline points="352.5,186.2 353.1,185.9 353.7,185.7 354.3,185.4 354.9,185.2 355.5,184.9 356.1,184.7 356.7,184.4 357.3,184.1 357.9,183.9 358.5,183.6 359.1,183.4 359.7,183.1 360.3,182.9 360.9,182.6 361.5,182.3 362.1,182.1 362.7,181.8 363.3,181.5 363.9,181.3 364.5,181.0 365.1,180.7 365.7,180.5 366.3,180.2 366.9,179.9 367.5,179.6 368.1,179.4 368.7,179.1 369.3,178.8 369.9,178.5 370.5,178.2 371.1,177.9 371.7,177.7 372.3,177.4 372.9,177.1 373.5,176.8 374.1,176.5 374.7,176.2 375.3,175.9 375.9,175.5 376.5,175.2 377.1,174.9 377.7,174.6 378.3,174.3 378.9,173.9 379.5,173.6 380.1,173.2 380.7,172.9 381.3,172.5 381.9,172.1 382.5,171.8 383.1,171.4 383.7,171.0 384.3,170.5 384.9,170.1 385.5,169.7 386.1,169.2 386.7,168.8 387.3,168.3 387.9,167.7 388.5,167.2 389.1,166.7 389.7,166.1 390.3,165.5 390.9,164.8 391.5,164.1 392.1,163.4 392.7,162.6 393.3,161.8 393.9,161.0 394.5,160.1 395.1,159.1 395.7,158.0 396.3,156.9 396.9,155.7 397.5,154.4 398.1,153.1 398.7,151.7 399.3,150.1 399.9,148.6 400.5,146.9 401.1,145.3 401.7,143.6 402.3,142.0 402.9,140.4 403.5,139.0 404.1,137.7 404.7,136.7 405.3,135.9 405.9,135.5 406.5,135.4 407.1,135.5 407.7,135.8 408.3,136.4 408.9,137.1 409.5,138.0 410.1,139.0 410.7,140.0 411.3,141.1 411.9,142.1 412.5,143.2 413.1,144.2 413.7,145.1 414.3,146.0 414.9,146.8 415.5,147.6 416.1,148.2 416.7,148.9 417.3,149.4 417.9,150.0 418.5,150.4 419.1,150.8 419.7,151.2 420.3,151.5 420.9,151.8 421.5,152.0 422.1,152.2 422.7,152.4 423.3,152.5 423.9,152.6 424.5,152.7 425.1,152.8 425.7,152.8 426.3,152.8 426.9,152.8 427.5,152.8 428.1,152.8 428.7,152.8 429.3,152.7 429.9,152.7 430.5,152.6 431.1,152.5 431.7,152.4 432.3,152.3 432.9,152.2 433.5,152.1 434.1,152.0 434.7,151.9 435.3,151.8 435.9,151.6 436.5,151.5 437.1,151.3 437.7,151.2 438.3,151.0 438.9,150.9 439.5,150.7 440.1,150.6 440.7,150.4 441.3,150.2 441.9,150.0 442.5,149.9 443.1,149.7 443.7,149.5 444.3,149.3 444.9,149.1 445.5,149.0 446.1,148.8 446.7,148.6 447.3,148.4 447.9,148.2 448.5,148.0 449.1,147.8 449.7,147.6 450.3,147.4 450.9,147.2 451.5,147.0 452.1,146.8 452.7,146.6 453.3,146.4 453.9,146.2 454.5,146.0 455.1,145.8 455.7,145.6 456.3,145.4 456.9,145.1 457.5,144.9 458.1,144.7 458.7,144.5 459.3,144.3 459.9,144.1 460.5,143.9 461.1,143.7 461.7,143.5 462.3,143.2 462.9,143.0 463.5,142.8 464.1,142.6 464.7,142.4 465.3,142.2 465.9,141.9 466.5,141.7 467.1,141.5 467.7,141.3 468.3,141.1 468.9,140.9 469.5,140.6 470.1,140.4 470.7,140.2 471.3,140.0 471.9,139.8 472.5,139.5 473.1,139.3 473.7,139.1 474.3,138.9 474.9,138.7 475.5,138.4 476.1,138.2 476.7,138.0 477.3,137.8 477.9,137.5 478.5,137.3 479.1,137.1 479.7,136.9 480.3,136.7 480.9,136.4 481.5,136.2 482.1,136.0 482.7,135.8 483.3,135.5 483.9,135.3 484.5,135.1 485.1,134.9 485.7,134.7 486.3,134.4 486.9,134.2 487.5,134.0 488.1,133.8 488.7,133.5 489.3,133.3 489.9,133.1 490.5,132.9 491.1,132.6 491.7,132.4 492.3,132.2 492.9,132.0 493.5,131.7 494.1,131.5 494.7,131.3 495.3,131.1 495.9,130.8 496.5,130.6 497.1,130.4 497.7,130.2 498.3,129.9 498.9,129.7 499.5,129.5 500.1,129.3 500.7,129.1 501.3,128.8 501.9,128.6 502.5,128.4 503.1,128.2 503.7,127.9 504.3,127.7 504.9,127.5 505.5,127.3 506.1,127.0 506.7,126.8 507.3,126.6 507.9,126.4 508.5,126.1 509.1,125.9 509.7,125.7 510.3,125.5 510.9,125.2 511.5,125.0 512.1,124.8 512.7,124.6 513.3,124.3 513.9,124.1 514.5,123.9 515.1,123.7 515.7,123.4 516.3,123.2 516.9,123.0 517.5,122.8 518.1,122.5 518.7,122.3 519.3,122.1 519.9,121.9 520.5,121.6 521.1,121.4 521.7,121.2 522.3,121.0 522.9,120.7 523.5,120.5 524.1,120.3 524.7,120.1 525.3,119.8 525.9,119.6 526.5,119.4 527.1,119.2 527.7,118.9 528.3,118.7 528.9,118.5 529.5,118.3 530.1,118.0 530.7,117.8 531.3,117.6 531.9,117.4 532.5,117.1 533.1,116.9 533.7,116.7 534.3,116.5 534.9,116.2 535.5,116.0 536.1,115.8 536.7,115.6 537.3,115.3 537.9,115.1 538.5,114.9 539.1,114.7 539.7,114.4 540.3,114.2 540.9,114.0 541.5,113.8 542.1,113.5 542.7,113.3 543.3,113.1 543.9,112.9 544.5,112.6 545.1,112.4 545.7,112.2 546.3,112.0 546.9,111.8 547.5,111.5 548.1,111.3 548.7,111.1 549.3,110.9 549.9,110.6 550.5,110.4 551.1,110.2 551.7,110.0 552.3,109.7 552.9,109.5 553.5,109.3 554.1,109.1 554.7,108.8 555.3,108.6 555.9,108.4 556.5,108.2 557.1,107.9 557.7,107.7 558.3,107.5 558.9,107.3 559.5,107.1 560.1,106.8 560.7,106.6 561.3,106.4 561.9,106.2 562.5,105.9 563.1,105.7 563.7,105.5 564.3,105.3 564.9,105.0 565.5,104.8 566.1,104.6 566.7,104.4 567.3,104.2 567.9,103.9 568.5,103.7 569.1,103.5 569.7,103.3 570.3,103.0 570.9,102.8 571.5,102.6 572.1,102.4 572.7,102.1 573.3,101.9 573.9,101.7 574.5,101.5 575.1,101.3 575.7,101.0 576.3,100.8 576.9,100.6 577.5,100.4 578.1,100.1 578.7,99.9 579.3,99.7 579.9,99.5 580.5,99.3 581.1,99.0 581.7,98.8 582.3,98.6 582.9,98.4 583.5,98.1 584.1,97.9 584.7,97.7 585.3,97.5 585.9,97.3 586.5,97.0 587.1,96.8 587.7,96.6 588.3,96.4 588.9,96.1 589.5,95.9 590.1,95.7 590.7,95.5 591.3,95.3 591.9,95.0 592.5,94.8 593.1,94.6 593.7,94.4 594.3,94.1 594.9,93.9 595.5,93.7 596.1,93.5 596.7,93.3 597.3,93.0 597.9,92.8 598.5,92.6 599.1,92.4 599.7,92.2 600.3,91.9 600.9,91.7 601.5,91.5 602.1,91.3 602.7,91.0 603.3,90.8 603.9,90.6 604.5,90.4 605.1,90.2 605.7,89.9 606.3,89.7 606.9,89.5 607.5,89.3 608.1,89.1 608.7,88.8 609.3,88.6 609.9,88.4 610.5,88.2 611.1,88.0 611.7,87.7 612.3,87.5 612.9,87.3 613.5,87.1 614.1,86.9 614.7,86.6 615.3,86.4 615.9,86.2 616.5,86.0 617.1,85.8 617.7,85.5 618.3,85.3 618.9,85.1 619.5,84.9 620.1,84.7 620.7,84.4 621.3,84.2 621.9,84.0 622.5,83.8 623.1,83.6 623.7,83.3 624.3,83.1 624.9,82.9 625.5,82.7 626.1,82.5 626.7,82.2 627.3,82.0 627.9,81.8 628.5,81.6 629.1,81.4 629.7,81.1 630.3,80.9 630.9,80.7 631.5,80.5 632.1,80.3 632.7,80.0 633.3,79.8 633.9,79.6 634.5,79.4" fill="none" stroke="#ff00ff" stroke-width="1.4" stroke-linejoin="round" stroke-linecap="round"/><polyline points="348.2,187.7 348.8,187.1 349.4,187.1 350.0,186.5 350.6,185.8 351.2,187.3 351.8,187.6 352.4,186.5 353.0,186.8 353.6,184.7 354.2,182.7 354.8,183.5 355.4,183.7 356.0,182.6 356.6,183.0 357.2,183.3 357.8,181.5 358.4,180.6 359.0,182.0 359.6,182.9 360.2,180.7 360.8,181.3 361.4,183.0 362.0,182.9 362.6,182.0 363.2,180.6 363.8,179.9 364.4,181.9 365.0,182.5 365.6,181.6 366.2,181.0 366.8,179.4 367.4,178.2 368.0,177.3 368.6,178.8 369.2,177.7 369.8,177.3 370.4,177.9 371.0,175.8 371.6,174.7 372.2,174.6 372.8,174.3 373.4,173.7 374.0,172.5 374.6,172.0 375.2,171.2 375.8,169.8 376.4,169.8 377.0,170.7 377.6,168.7 378.2,167.1 378.8,166.9 379.4,165.1 380.0,165.0 380.6,163.8 381.2,162.6 381.8,160.3 382.4,157.0 383.0,154.4 383.6,150.0 384.2,146.3 384.8,141.5 385.4,135.5 386.0,128.9 386.6,120.3 387.2,112.3 387.8,104.9 388.4,97.3 389.0,88.5 389.6,80.3 390.2,73.7 390.8,70.2 391.4,68.9 392.0,67.3 392.6,70.0 393.2,75.6 393.8,78.9 394.4,82.3 395.0,88.3 395.6,93.8 396.2,99.9 396.8,105.0 397.4,108.3 398.0,112.8 398.6,115.6 399.2,117.7 399.8,119.1 400.4,119.4 401.0,120.0 401.6,123.1 402.2,124.8 402.8,123.8 403.4,124.0 404.0,124.0 404.6,124.1 405.2,125.4 405.8,124.7 406.4,122.4 407.0,122.8 407.6,123.6 408.2,125.7 408.8,128.2 409.4,127.9 410.0,127.2 410.6,128.3 411.2,130.9 411.8,129.6 412.4,129.4 413.0,131.1 413.6,131.7 414.2,131.8 414.8,130.8 415.4,130.4 416.0,129.6 416.6,131.5 417.2,132.4 417.8,130.6 418.4,128.7 419.0,126.8 419.6,126.2 420.2,126.8 420.8,126.3 421.4,125.4 422.0,123.8 422.6,122.9 423.2,122.7 423.8,122.7 424.4,123.1 425.0,121.0 425.6,118.1 426.2,117.2 426.8,116.6 427.4,115.5 428.0,115.4 428.6,114.7 429.2,114.9 429.8,115.5 430.4,115.5 431.0,115.9 431.6,115.9 432.2,116.3 432.8,117.8 433.4,119.4 434.0,121.1 434.6,122.9 435.2,123.1 435.8,124.6 436.4,126.0 437.0,126.9 437.6,129.0 438.2,129.1 438.8,130.6 439.4,133.3 440.0,134.2 440.6,134.9 441.2,135.8 441.8,136.4 442.4,137.4 443.0,138.5 443.6,139.5 444.2,139.7 444.8,140.4 445.4,142.0 446.0,142.2 446.6,142.2 447.2,143.0 447.8,142.2 448.4,142.2 449.0,143.6 449.6,143.5 450.2,143.5 450.8,142.8 451.4,142.2 452.0,143.1 452.6,143.8 453.2,143.6 453.8,142.3 454.4,142.7 455.0,144.9 455.6,145.4 456.2,144.8 456.8,142.9 457.4,143.6 458.0,144.7 458.6,141.8 459.2,141.9 459.8,142.3 460.4,140.7 461.0,141.0 461.6,142.6 462.2,142.4 462.8,141.3 463.4,142.5 464.0,143.1 464.6,141.1 465.2,139.1 465.8,137.6 466.4,136.6 467.0,137.2 467.6,137.3 468.2,136.3 468.8,136.0 469.4,134.6 470.0,132.9 470.6,133.1 471.2,132.5 471.8,131.6 472.4,130.1 473.0,127.5 473.6,125.6 474.2,123.0 474.8,118.9 475.4,117.0 476.0,114.7 476.6,110.6 477.2,104.9 477.8,99.3 478.4,94.3 479.0,87.6 479.6,79.4 480.2,72.5 480.8,67.4 481.4,60.4 482.0,52.0 482.6,45.0 483.2,40.3 483.8,33.7 484.4,30.1 485.0,31.4 485.6,32.6 486.2,35.7 486.8,39.7 487.4,43.5 488.0,48.4 488.6,54.6 489.2,59.9 489.8,64.9 490.4,71.1 491.0,77.1 491.6,79.9 492.2,81.1 492.8,83.0 493.4,84.6 494.0,83.9 494.6,82.5 495.2,79.3 495.8,74.7 496.4,71.1 497.0,67.3 497.6,63.4 498.2,57.2 498.8,51.9 499.4,50.8 500.0,50.1 500.6,49.4 501.2,52.9 501.8,57.7 502.4,61.2 503.0,64.7 503.6,69.4 504.2,73.5 504.8,77.2 505.4,80.0 506.0,81.3 506.6,84.5 507.2,86.6 507.8,88.6 508.4,90.4 509.0,89.9 509.6,90.3 510.2,91.0 510.8,91.8 511.4,91.7 512.0,90.6 512.6,92.2 513.2,94.4 513.8,95.1 514.4,93.6 515.0,92.4 515.6,93.7 516.2,93.7 516.8,92.1 517.4,92.6 518.0,94.0 518.6,93.7 519.2,92.5 519.8,92.4 520.4,94.6 521.0,95.5 521.6,95.2 522.2,96.2 522.8,97.1 523.4,96.9 524.0,97.0 524.6,96.7 525.2,96.0 525.8,95.9 526.4,96.9 527.0,97.4 527.6,95.6 528.2,94.9 528.8,94.7 529.4,94.9 530.0,93.1 530.6,90.8 531.2,90.8 531.8,92.3 532.4,92.1 533.0,88.9 533.6,87.4 534.2,87.7 534.8,85.7 535.4,82.7 536.0,82.6 536.6,82.3 537.2,81.2 537.8,79.9 538.4,80.6 539.0,82.3 539.6,81.6 540.2,81.4 540.8,80.2 541.4,81.1 542.0,83.5 542.6,84.5 543.2,86.3 543.8,86.8 544.4,86.1 545.0,87.6 545.6,89.3 546.2,89.7 546.8,90.6 547.4,91.3 548.0,90.7 548.6,92.5 549.2,94.9 549.8,95.3 550.4,97.0 551.0,96.6 551.6,94.0 552.2,93.6 552.8,94.2 553.4,94.7 554.0,95.8 554.6,94.8 555.2,95.0 555.8,95.4 556.4,95.4 557.0,96.5 557.6,96.0 558.2,96.0 558.8,95.7 559.4,95.2 560.0,94.3 560.6,94.7 561.2,97.2 561.8,98.7 562.4,98.2 563.0,97.1 563.6,95.5 564.2,95.9 564.8,96.3 565.4,95.0 566.0,94.7 566.6,94.6 567.2,94.4 567.8,94.0 568.4,93.4 569.0,93.0 569.6,95.3 570.2,95.3 570.8,93.2 571.4,93.4 572.0,93.9 572.6,92.4 573.2,91.5 573.8,92.7 574.4,92.7 575.0,91.8 575.6,92.4 576.2,91.4 576.8,89.8 577.4,89.5 578.0,90.1 578.6,88.5 579.2,86.2 579.8,86.5 580.4,86.5 581.0,86.2 581.6,85.4 582.2,82.0 582.8,79.4 583.4,77.9 584.0,74.1 584.6,71.6 585.2,67.9 585.8,62.1 586.4,58.4 587.0,54.5 587.6,49.7 588.2,46.4 588.8,42.4 589.4,38.7 590.0,34.0 590.6,27.9 591.2,24.2 591.8,22.3 592.4,20.5 593.0,21.1 593.6,22.1 594.2,21.8 594.8,25.1 595.4,29.5 596.0,32.7 596.6,36.7 597.2,40.9 597.8,45.0 598.4,49.5 599.0,53.7 599.6,56.8 600.2,60.3 600.8,62.1 601.4,64.6 602.0,68.1 602.6,70.6 603.2,71.8 603.8,74.5 604.4,77.0 605.0,75.9 605.6,75.3 606.2,76.6 606.8,78.3 607.4,78.3 608.0,78.6 608.6,78.8 609.2,79.2 609.8,79.1 610.4,78.6 611.0,79.9 611.6,81.9 612.2,80.3 612.8,78.0 613.4,78.0 614.0,78.9 614.6,78.5 615.2,77.4 615.8,78.1 616.4,77.6 617.0,76.8 617.6,77.0 618.2,76.0 618.8,75.1 619.4,76.2 620.0,77.2 620.6,77.2 621.2,75.6 621.8,75.2 622.4,77.0 623.0,77.5 623.6,76.7 624.2,75.4 624.8,75.8 625.4,75.8 626.0,74.3 626.6,73.9 627.2,75.7 627.8,76.2 628.4,75.8 629.0,75.1 629.6,74.7 630.2,74.4 630.8,73.4 631.4,75.5 632.0,76.0 632.6,73.5 633.2,72.7 633.8,73.1 634.4,73.9" fill="none" stroke="#000" stroke-width="1.4" stroke-linejoin="round" stroke-linecap="round"/><polyline points="352.5,181.3 353.1,181.0 353.7,180.7 354.3,180.4 354.9,180.2 355.5,179.9 356.1,179.6 356.7,179.3 357.3,179.0 357.9,178.7 358.5,178.4 359.1,178.1 359.7,177.8 360.3,177.5 360.9,177.2 361.5,176.9 362.1,176.6 362.7,176.2 363.3,175.9 363.9,175.6 364.5,175.3 365.1,174.9 365.7,174.6 366.3,174.2 366.9,173.9 367.5,173.5 368.1,173.1 368.7,172.8 369.3,172.4 369.9,172.0 370.5,171.6 371.1,171.1 371.7,170.7 372.3,170.2 372.9,169.8 373.5,169.3 374.1,168.8 374.7,168.2 375.3,167.7 375.9,167.1 376.5,166.4 377.1,165.7 377.7,165.0 378.3,164.1 378.9,163.2 379.5,162.1 380.1,160.8 380.7,159.3 381.3,157.5 381.9,155.4 382.5,152.8 383.1,149.8 383.7,146.1 384.3,141.8 384.9,136.8 385.5,131.1 386.1,124.7 386.7,117.7 387.3,110.1 387.9,102.2 388.5,94.2 389.1,86.5 389.7,79.7 390.3,74.2 390.9,70.6 391.5,69.2 392.1,69.7 392.7,71.9 393.3,75.4 393.9,80.0 394.5,85.2 395.1,90.6 395.7,96.1 396.3,101.3 396.9,106.1 397.5,110.4 398.1,114.2 398.7,117.3 399.3,119.8 399.9,121.7 400.5,123.0 401.1,123.8 401.7,124.2 402.3,124.3 402.9,124.1 403.5,123.8 404.1,123.4 404.7,123.1 405.3,122.9 405.9,122.9 406.5,123.1 407.1,123.4 407.7,124.0 408.3,124.6 408.9,125.4 409.5,126.2 410.1,127.1 410.7,128.0 411.3,128.9 411.9,129.7 412.5,130.4 413.1,131.1 413.7,131.6 414.3,132.0 414.9,132.3 415.5,132.4 416.1,132.4 416.7,132.3 417.3,132.0 417.9,131.6 418.5,131.1 419.1,130.5 419.7,129.7 420.3,128.9 420.9,127.9 421.5,126.9 422.1,125.7 422.7,124.6 423.3,123.3 423.9,122.1 424.5,120.9 425.1,119.6 425.7,118.5 426.3,117.4 426.9,116.4 427.5,115.6 428.1,114.9 428.7,114.4 429.3,114.2 429.9,114.2 430.5,114.4 431.1,115.0 431.7,115.7 432.3,116.7 432.9,117.9 433.5,119.2 434.1,120.5 434.7,121.9 435.3,123.4 435.9,124.8 436.5,126.2 437.1,127.6 437.7,128.9 438.3,130.1 438.9,131.3 439.5,132.3 440.1,133.3 440.7,134.2 441.3,135.0 441.9,135.7 442.5,136.4 443.1,136.9 443.7,137.4 444.3,137.8 444.9,138.1 445.5,138.4 446.1,138.6 446.7,138.8 447.3,138.9 447.9,139.0 448.5,139.1 449.1,139.1 449.7,139.1 450.3,139.0 450.9,139.0 451.5,138.9 452.1,138.8 452.7,138.7 453.3,138.5 453.9,138.4 454.5,138.2 455.1,138.1 455.7,137.9 456.3,137.7 456.9,137.5 457.5,137.3 458.1,137.1 458.7,136.9 459.3,136.6 459.9,136.4 460.5,136.2 461.1,135.9 461.7,135.6 462.3,135.4 462.9,135.1 463.5,134.8 464.1,134.5 464.7,134.2 465.3,133.9 465.9,133.5 466.5,133.2 467.1,132.8 467.7,132.4 468.3,132.0 468.9,131.5 469.5,131.0 470.1,130.4 470.7,129.8 471.3,129.0 471.9,128.1 472.5,127.0 473.1,125.7 473.7,124.1 474.3,122.2 474.9,119.9 475.5,117.0 476.1,113.7 476.7,109.7 477.3,105.2 477.9,99.9 478.5,94.0 479.1,87.6 479.7,80.6 480.3,73.2 480.9,65.7 481.5,58.2 482.1,51.0 482.7,44.4 483.3,38.9 483.9,34.6 484.5,32.0 485.1,31.1 485.7,31.9 486.3,34.5 486.9,38.3 487.5,43.3 488.1,48.9 488.7,54.8 489.3,60.6 489.9,66.2 490.5,71.3 491.1,75.6 491.7,79.1 492.3,81.6 492.9,83.0 493.5,83.4 494.1,82.8 494.7,81.1 495.3,78.4 495.9,74.9 496.5,70.7 497.1,66.0 497.7,61.3 498.3,56.8 498.9,53.2 499.5,51.0 500.1,50.3 500.7,51.3 501.3,53.7 501.9,57.1 502.5,61.2 503.1,65.4 503.7,69.6 504.3,73.6 504.9,77.2 505.5,80.3 506.1,83.0 506.7,85.3 507.3,87.3 507.9,88.8 508.5,90.1 509.1,91.1 509.7,91.9 510.3,92.4 510.9,92.9 511.5,93.2 512.1,93.5 512.7,93.7 513.3,93.8 513.9,93.9 514.5,94.1 515.1,94.2 515.7,94.5 516.3,94.7 516.9,95.0 517.5,95.3 518.1,95.7 518.7,96.0 519.3,96.4 519.9,96.8 520.5,97.2 521.1,97.6 521.7,97.9 522.3,98.2 522.9,98.5 523.5,98.7 524.1,98.9 524.7,99.0 525.3,99.0 525.9,98.9 526.5,98.7 527.1,98.5 527.7,98.1 528.3,97.6 528.9,97.1 529.5,96.4 530.1,95.6 530.7,94.7 531.3,93.7 531.9,92.6 532.5,91.4 533.1,90.1 533.7,88.8 534.3,87.5 534.9,86.2 535.5,85.0 536.1,83.9 536.7,83.0 537.3,82.3 537.9,81.9 538.5,81.7 539.1,81.8 539.7,82.2 540.3,82.8 540.9,83.6 541.5,84.5 542.1,85.6 542.7,86.7 543.3,87.8 543.9,88.9 544.5,90.0 545.1,91.0 545.7,92.0 546.3,92.9 546.9,93.7 547.5,94.4 548.1,95.1 548.7,95.7 549.3,96.2 549.9,96.7 550.5,97.1 551.1,97.5 551.7,97.8 552.3,98.0 552.9,98.2 553.5,98.4 554.1,98.5 554.7,98.6 555.3,98.7 555.9,98.8 556.5,98.8 557.1,98.8 557.7,98.8 558.3,98.7 558.9,98.7 559.5,98.6 560.1,98.5 560.7,98.4 561.3,98.3 561.9,98.2 562.5,98.0 563.1,97.9 563.7,97.7 564.3,97.6 564.9,97.4 565.5,97.2 566.1,97.0 566.7,96.9 567.3,96.7 567.9,96.4 568.5,96.2 569.1,96.0 569.7,95.8 570.3,95.5 570.9,95.3 571.5,95.0 572.1,94.7 572.7,94.4 573.3,94.1 573.9,93.8 574.5,93.5 575.1,93.1 575.7,92.7 576.3,92.2 576.9,91.7 577.5,91.2 578.1,90.5 578.7,89.8 579.3,88.9 579.9,87.9 580.5,86.7 581.1,85.3 581.7,83.7 582.3,81.8 582.9,79.6 583.5,77.1 584.1,74.3 584.7,71.1 585.3,67.6 585.9,63.7 586.5,59.5 587.1,55.1 587.7,50.5 588.3,45.8 588.9,41.1 589.5,36.6 590.1,32.3 590.7,28.6 591.3,25.5 591.9,23.2 592.5,22.0 593.1,21.7 593.7,22.5 594.3,24.1 594.9,26.6 595.5,29.6 596.1,33.1 596.7,37.0 597.3,41.0 597.9,45.1 598.5,49.2 599.1,53.1 599.7,56.8 600.3,60.2 600.9,63.4 601.5,66.3 602.1,68.8 602.7,71.0 603.3,73.0 603.9,74.6 604.5,76.0 605.1,77.1 605.7,78.0 606.3,78.8 606.9,79.4 607.5,79.8 608.1,80.2 608.7,80.4 609.3,80.6 609.9,80.7 610.5,80.7 611.1,80.7 611.7,80.7 612.3,80.7 612.9,80.6 613.5,80.6 614.1,80.5 614.7,80.4 615.3,80.2 615.9,80.1 616.5,80.0 617.1,79.9 617.7,79.7 618.3,79.6 618.9,79.4 619.5,79.3 620.1,79.1 620.7,78.9 621.3,78.8 621.9,78.6 622.5,78.4 623.1,78.3 623.7,78.1 624.3,77.9 624.9,77.7 625.5,77.6 626.1,77.4 626.7,77.2 627.3,77.0 627.9,76.8 628.5,76.6 629.1,76.4 629.7,76.2 630.3,76.0 630.9,75.8 631.5,75.7 632.1,75.5 632.7,75.3 633.3,75.1 633.9,74.9 634.5,74.7" fill="none" stroke="#ff0000" stroke-width="1.9" stroke-linejoin="round" stroke-linecap="round"/><polyline points="33.8,436.4 37.5,434.0 44.1,435.0 53.5,434.5 63.0,435.4 72.4,431.7 81.8,430.2 90.0,432.8 94.4,434.2 97.3,431.3 109.0,430.6 114.8,426.9 119.2,421.8 129.4,412.3 133.8,391.9 136.7,370.0 148.2,310.0 150.9,283.4 154.2,273.4 160.1,268.3 166.8,273.4 172.6,291.7 180.1,315.0 185.0,338.0 192.5,362.6 198.8,370.1 203.8,376.3 205.7,383.9 207.6,381.4 212.6,383.9 215.1,388.9 217.6,387.6 226.4,393.9 228.9,390.1 231.4,397.6 235.1,401.9 242.9,403.2 249.3,405.1 255.7,405.8 262.2,404.5 265.0,405.8 268.6,405.1 271.0,406.4 278.9,403.2 281.5,402.5 284.0,405.1 286.6,403.8 289.2,405.7 294.4,407.0 300.2,400.6 303.4,406.4 312.0,410.2" fill="none" stroke="#000" stroke-width="1.5" stroke-linejoin="round" stroke-linecap="round"/><polyline points="33.5,433.3 34.1,433.3 34.7,433.3 35.3,433.3 35.9,433.2 36.5,433.2 37.1,433.2 37.7,433.2 38.3,433.2 38.9,433.2 39.5,433.2 40.1,433.2 40.7,433.2 41.3,433.2 41.9,433.1 42.5,433.1 43.1,433.1 43.7,433.1 44.3,433.1 44.9,433.1 45.5,433.1 46.1,433.1 46.7,433.1 47.3,433.1 47.9,433.1 48.5,433.1 49.1,433.0 49.7,433.0 50.3,433.0 50.9,433.0 51.5,433.0 52.1,433.0 52.7,433.0 53.3,433.0 53.9,433.0 54.5,433.0 55.1,433.0 55.7,433.0 56.3,433.0 56.9,433.0 57.5,433.0 58.1,432.9 58.7,432.9 59.3,432.9 59.9,432.9 60.5,432.9 61.1,432.9 61.7,432.9 62.3,432.9 62.9,432.9 63.5,432.9 64.1,432.9 64.7,432.9 65.3,432.9 65.9,432.9 66.5,432.9 67.1,432.9 67.7,432.9 68.3,432.9 68.9,432.9 69.5,432.9 70.1,432.9 70.7,432.9 71.3,432.8 71.9,432.8 72.5,432.8 73.1,432.8 73.7,432.8 74.3,432.8 74.9,432.8 75.5,432.8 76.1,432.8 76.7,432.8 77.3,432.8 77.9,432.8 78.5,432.8 79.1,432.8 79.7,432.8 80.3,432.8 80.9,432.8 81.5,432.8 82.1,432.8 82.7,432.8 83.3,432.8 83.9,432.8 84.5,432.8 85.1,432.8 85.7,432.8 86.3,432.8 86.9,432.8 87.5,432.8 88.1,432.8 88.7,432.8 89.3,432.8 89.9,432.8 90.5,432.8 91.1,432.8 91.7,432.8 92.3,432.8 92.9,432.8 93.5,432.8 94.1,432.8 94.7,432.8 95.3,432.8 95.9,432.8 96.5,432.8 97.1,432.8 97.7,432.8 98.3,432.8 98.9,432.8 99.5,432.8 100.1,432.9 100.7,432.9 101.3,432.9 101.9,432.9 102.5,432.9 103.1,432.9 103.7,432.9 104.3,432.9 104.9,432.9 105.5,432.9 106.1,432.9 106.7,432.9 107.3,432.9 107.9,432.9 108.5,432.9 109.1,432.9 109.7,432.9 110.3,433.0 110.9,433.0 111.5,433.0 112.1,433.0 112.7,433.0 113.3,433.0 113.9,433.0 114.5,433.0 115.1,433.0 115.7,433.0 116.3,433.0 116.9,433.0 117.5,433.0 118.1,433.0 118.7,433.0 119.3,433.0 119.9,433.0 120.5,433.0 121.1,433.0 121.7,432.9 122.3,432.8 122.9,432.7 123.5,432.6 124.1,432.5 124.7,432.4 125.3,432.4 125.9,432.3 126.5,432.2 127.1,432.1 127.7,432.1 128.3,432.0 128.9,432.0 129.5,431.9 130.1,431.9 130.7,431.8 131.3,431.8 131.9,431.8 132.5,431.7 133.1,431.7 133.7,431.6 134.3,431.6 134.9,431.5 135.5,431.5 136.1,431.4 136.7,431.4 137.3,431.3 137.9,431.2 138.5,431.1 139.1,431.1 139.7,431.0 140.3,430.8 140.9,430.7 141.5,430.6 142.1,430.4 142.7,430.3 143.3,430.1 143.9,429.9 144.5,429.7 145.1,429.5 145.7,429.3 146.3,429.1 146.9,428.9 147.5,428.7 148.1,428.5 148.7,428.2 149.3,428.0 149.9,427.8 150.5,427.6 151.1,427.3 151.7,427.0 152.3,426.8 152.9,426.5 153.5,426.2 154.1,425.9 154.7,425.6 155.3,425.3 155.9,424.9 156.5,424.6 157.1,424.3 157.7,424.0 158.3,423.7 158.9,423.4 159.5,423.0 160.1,422.7 160.7,422.3 161.3,422.0 161.9,421.6 162.5,421.2 163.1,420.9 163.7,420.6 164.3,420.2 164.9,419.9 165.5,419.6 166.1,419.4 166.7,419.1 167.3,418.9 167.9,418.7 168.5,418.5 169.1,418.4 169.7,418.2 170.3,418.0 170.9,417.8 171.5,417.7 172.1,417.5 172.7,417.3 173.3,417.2 173.9,417.0 174.5,416.9 175.1,416.7 175.7,416.6 176.3,416.5 176.9,416.3 177.5,416.2 178.1,416.1 178.7,415.9 179.3,415.8 179.9,415.7 180.5,415.6 181.1,415.5 181.7,415.3 182.3,415.2 182.9,415.1 183.5,415.0 184.1,414.9 184.7,414.8 185.3,414.7 185.9,414.5 186.5,414.4 187.1,414.3 187.7,414.2 188.3,414.1 188.9,414.0 189.5,413.9 190.1,413.7 190.7,413.6 191.3,413.5 191.9,413.4 192.5,413.3 193.1,413.1 193.7,413.0 194.3,412.9 194.9,412.8 195.5,412.7 196.1,412.5 196.7,412.4 197.3,412.3 197.9,412.2 198.5,412.1 199.1,412.0 199.7,411.9 200.3,411.8 200.9,411.7 201.5,411.6 202.1,411.5 202.7,411.4 203.3,411.3 203.9,411.2 204.5,411.2 205.1,411.1 205.7,411.0 206.3,411.0 206.9,410.9 207.5,410.9 208.1,410.9 208.7,410.8 209.3,410.8 209.9,410.8 210.5,410.8 211.1,410.7 211.7,410.7 212.3,410.7 212.9,410.7 213.5,410.7 214.1,410.6 214.7,410.6 215.3,410.6 215.9,410.6 216.5,410.6 217.1,410.5 217.7,410.5 218.3,410.5 218.9,410.5 219.5,410.5 220.1,410.5 220.7,410.5 221.3,410.4 221.9,410.4 222.5,410.4 223.1,410.4 223.7,410.4 224.3,410.4 224.9,410.4 225.5,410.3 226.1,410.3 226.7,410.3 227.3,410.3 227.9,410.3 228.5,410.3 229.1,410.2 229.7,410.2 230.3,410.2 230.9,410.2 231.5,410.1 232.1,410.1 232.7,410.1 233.3,410.1 233.9,410.0 234.5,410.0 235.1,410.0 235.7,409.9 236.3,409.9 236.9,409.9 237.5,409.8 238.1,409.8 238.7,409.8 239.3,409.7 239.9,409.7 240.5,409.7 241.1,409.6 241.7,409.6 242.3,409.6 242.9,409.5 243.5,409.5 244.1,409.5 244.7,409.4 245.3,409.4 245.9,409.4 246.5,409.4 247.1,409.4 247.7,409.3 248.3,409.3 248.9,409.3 249.5,409.3 250.1,409.3 250.7,409.3 251.3,409.3 251.9,409.3 252.5,409.3 253.1,409.3 253.7,409.3 254.3,409.3 254.9,409.3 255.5,409.2 256.1,409.2 256.7,409.2 257.3,409.2 257.9,409.2 258.5,409.2 259.1,409.2 259.7,409.2 260.3,409.2 260.9,409.2 261.5,409.2 262.1,409.2 262.7,409.2 263.3,409.2 263.9,409.2 264.5,409.2 265.1,409.2 265.7,409.2 266.3,409.2 266.9,409.2 267.5,409.2 268.1,409.1 268.7,409.1 269.3,409.1 269.9,409.1 270.5,409.1 271.1,409.1 271.7,409.1 272.3,409.1 272.9,409.1 273.5,409.1 274.1,409.1 274.7,409.1 275.3,409.1 275.9,409.1 276.5,409.1 277.1,409.1 277.7,409.1 278.3,409.1 278.9,409.1 279.5,409.1 280.1,409.1 280.7,409.1 281.3,409.1 281.9,409.1 282.5,409.1 283.1,409.1 283.7,409.1 284.3,409.1 284.9,409.1 285.5,409.1 286.1,409.0 286.7,409.0 287.3,409.0 287.9,409.0 288.5,409.0 289.1,409.0 289.7,409.0 290.3,409.0 290.9,409.0 291.5,409.0 292.1,409.0 292.7,409.0 293.3,409.0 293.9,409.0 294.5,409.0 295.1,409.0 295.7,409.0 296.3,409.0 296.9,409.0 297.5,409.0 298.1,409.0 298.7,409.0 299.3,409.0 299.9,409.0 300.5,409.0 301.1,409.0 301.7,409.0 302.3,409.0 302.9,409.0 303.5,409.0 304.1,409.0 304.7,409.0 305.3,409.0 305.9,409.0 306.5,409.0 307.1,409.0 307.7,409.0 308.3,409.0 308.9,409.0 309.5,409.0 310.1,409.0 310.7,409.0 311.3,409.0 311.9,409.0" fill="none" stroke="#0000ff" stroke-width="1.6" stroke-linejoin="round" stroke-linecap="round"/><polyline points="33.5,432.7 34.1,432.7 34.7,432.7 35.3,432.6 35.9,432.6 36.5,432.6 37.1,432.6 37.7,432.5 38.3,432.5 38.9,432.5 39.5,432.5 40.1,432.4 40.7,432.4 41.3,432.4 41.9,432.4 42.5,432.3 43.1,432.3 43.7,432.3 44.3,432.3 44.9,432.2 45.5,432.2 46.1,432.2 46.7,432.1 47.3,432.1 47.9,432.1 48.5,432.1 49.1,432.0 49.7,432.0 50.3,432.0 50.9,432.0 51.5,431.9 52.1,431.9 52.7,431.9 53.3,431.8 53.9,431.8 54.5,431.8 55.1,431.8 55.7,431.7 56.3,431.7 56.9,431.7 57.5,431.6 58.1,431.6 58.7,431.6 59.3,431.5 59.9,431.5 60.5,431.5 61.1,431.4 61.7,431.4 62.3,431.4 62.9,431.3 63.5,431.3 64.1,431.3 64.7,431.2 65.3,431.2 65.9,431.2 66.5,431.1 67.1,431.1 67.7,431.1 68.3,431.0 68.9,431.0 69.5,430.9 70.1,430.9 70.7,430.9 71.3,430.8 71.9,430.8 72.5,430.7 73.1,430.7 73.7,430.7 74.3,430.6 74.9,430.6 75.5,430.5 76.1,430.5 76.7,430.4 77.3,430.4 77.9,430.3 78.5,430.3 79.1,430.2 79.7,430.2 80.3,430.1 80.9,430.1 81.5,430.0 82.1,430.0 82.7,429.9 83.3,429.8 83.9,429.8 84.5,429.7 85.1,429.7 85.7,429.6 86.3,429.5 86.9,429.5 87.5,429.4 88.1,429.3 88.7,429.3 89.3,429.2 89.9,429.1 90.5,429.0 91.1,429.0 91.7,428.9 92.3,428.8 92.9,428.7 93.5,428.6 94.1,428.5 94.7,428.4 95.3,428.4 95.9,428.3 96.5,428.2 97.1,428.1 97.7,428.0 98.3,427.9 98.9,427.8 99.5,427.7 100.1,427.5 100.7,427.4 101.3,427.3 101.9,427.2 102.5,427.1 103.1,426.9 103.7,426.8 104.3,426.7 104.9,426.5 105.5,426.4 106.1,426.2 106.7,426.1 107.3,425.9 107.9,425.7 108.5,425.6 109.1,425.4 109.7,425.2 110.3,425.0 110.9,424.8 111.5,424.6 112.1,424.4 112.7,424.1 113.3,423.9 113.9,423.6 114.5,423.4 115.1,423.1 115.7,422.8 116.3,422.5 116.9,422.2 117.5,421.9 118.1,421.6 118.7,421.2 119.3,420.8 119.9,420.4 120.5,420.0 121.1,419.6 121.7,419.0 122.3,418.5 122.9,417.9 123.5,417.3 124.1,416.6 124.7,415.9 125.3,415.2 125.9,414.4 126.5,413.7 127.1,412.8 127.7,412.0 128.3,411.1 128.9,410.1 129.5,409.1 130.1,408.1 130.7,407.0 131.3,405.8 131.9,404.6 132.5,403.2 133.1,401.8 133.7,400.4 134.3,398.8 134.9,397.2 135.5,395.4 136.1,393.6 136.7,391.7 137.3,389.6 137.9,387.5 138.5,385.2 139.1,382.8 139.7,380.3 140.3,377.7 140.9,374.9 141.5,372.1 142.1,369.1 142.7,365.9 143.3,362.7 143.9,359.3 144.5,355.8 145.1,352.2 145.7,348.5 146.3,344.8 146.9,340.9 147.5,337.0 148.1,333.0 148.7,329.0 149.3,325.0 149.9,321.0 150.5,317.0 151.1,313.1 151.7,309.2 152.3,305.5 152.9,302.0 153.5,298.6 154.1,295.5 154.7,292.7 155.3,290.2 155.9,288.0 156.5,286.3 157.1,285.0 157.7,284.1 158.3,283.6 158.9,283.5 159.5,283.8 160.1,284.4 160.7,285.4 161.3,286.7 161.9,288.3 162.5,290.2 163.1,292.3 163.7,294.7 164.3,297.2 164.9,300.0 165.5,302.9 166.1,305.9 166.7,309.1 167.3,312.3 167.9,315.6 168.5,318.8 169.1,322.1 169.7,325.4 170.3,328.6 170.9,331.8 171.5,334.9 172.1,338.0 172.7,341.0 173.3,344.0 173.9,346.8 174.5,349.6 175.1,352.3 175.7,354.8 176.3,357.3 176.9,359.7 177.5,362.0 178.1,364.3 178.7,366.4 179.3,368.4 179.9,370.4 180.5,372.2 181.1,374.0 181.7,375.7 182.3,377.3 182.9,378.8 183.5,380.3 184.1,381.6 184.7,382.9 185.3,384.2 185.9,385.3 186.5,386.4 187.1,387.4 187.7,388.4 188.3,389.3 188.9,390.2 189.5,391.0 190.1,391.8 190.7,392.5 191.3,393.1 191.9,393.8 192.5,394.3 193.1,394.9 193.7,395.4 194.3,395.9 194.9,396.3 195.5,396.8 196.1,397.2 196.7,397.5 197.3,397.9 197.9,398.2 198.5,398.5 199.1,398.8 199.7,399.1 200.3,399.4 200.9,399.6 201.5,399.9 202.1,400.1 202.7,400.3 203.3,400.5 203.9,400.8 204.5,401.0 205.1,401.2 205.7,401.4 206.3,401.5 206.9,401.7 207.5,401.9 208.1,402.1 208.7,402.3 209.3,402.5 209.9,402.6 210.5,402.8 211.1,403.0 211.7,403.1 212.3,403.3 212.9,403.4 213.5,403.5 214.1,403.7 214.7,403.8 215.3,403.9 215.9,404.1 216.5,404.2 217.1,404.3 217.7,404.4 218.3,404.5 218.9,404.7 219.5,404.8 220.1,404.9 220.7,405.0 221.3,405.1 221.9,405.2 222.5,405.3 223.1,405.3 223.7,405.4 224.3,405.5 224.9,405.6 225.5,405.7 226.1,405.7 226.7,405.8 227.3,405.9 227.9,406.0 228.5,406.0 229.1,406.1 229.7,406.1 230.3,406.2 230.9,406.2 231.5,406.3 232.1,406.3 232.7,406.4 233.3,406.4 233.9,406.5 234.5,406.5 235.1,406.5 235.7,406.5 236.3,406.6 236.9,406.6 237.5,406.6 238.1,406.7 238.7,406.7 239.3,406.7 239.9,406.7 240.5,406.7 241.1,406.8 241.7,406.8 242.3,406.8 242.9,406.8 243.5,406.8 244.1,406.8 244.7,406.9 245.3,406.9 245.9,406.9 246.5,406.9 247.1,407.0 247.7,407.0 248.3,407.0 248.9,407.0 249.5,407.1 250.1,407.1 250.7,407.1 251.3,407.2 251.9,407.2 252.5,407.2 253.1,407.2 253.7,407.3 254.3,407.3 254.9,407.3 255.5,407.4 256.1,407.4 256.7,407.4 257.3,407.4 257.9,407.5 258.5,407.5 259.1,407.5 259.7,407.5 260.3,407.6 260.9,407.6 261.5,407.6 262.1,407.6 262.7,407.6 263.3,407.7 263.9,407.7 264.5,407.7 265.1,407.7 265.7,407.7 266.3,407.8 266.9,407.8 267.5,407.8 268.1,407.8 268.7,407.8 269.3,407.9 269.9,407.9 270.5,407.9 271.1,407.9 271.7,407.9 272.3,407.9 272.9,408.0 273.5,408.0 274.1,408.0 274.7,408.0 275.3,408.0 275.9,408.0 276.5,408.1 277.1,408.1 277.7,408.1 278.3,408.1 278.9,408.1 279.5,408.1 280.1,408.1 280.7,408.2 281.3,408.2 281.9,408.2 282.5,408.2 283.1,408.2 283.7,408.2 284.3,408.2 284.9,408.3 285.5,408.3 286.1,408.3 286.7,408.3 287.3,408.3 287.9,408.3 288.5,408.3 289.1,408.3 289.7,408.3 290.3,408.4 290.9,408.4 291.5,408.4 292.1,408.4 292.7,408.4 293.3,408.4 293.9,408.4 294.5,408.4 295.1,408.4 295.7,408.5 296.3,408.5 296.9,408.5 297.5,408.5 298.1,408.5 298.7,408.5 299.3,408.5 299.9,408.5 300.5,408.5 301.1,408.5 301.7,408.6 302.3,408.6 302.9,408.6 303.5,408.6 304.1,408.6 304.7,408.6 305.3,408.6 305.9,408.6 306.5,408.6 307.1,408.6 307.7,408.6 308.3,408.7 308.9,408.7 309.5,408.7 310.1,408.7 310.7,408.7 311.3,408.7 311.9,408.7" fill="none" stroke="#ff00ff" stroke-width="1.6" stroke-linejoin="round" stroke-linecap="round"/><polyline points="33.5,432.9 34.1,432.9 34.7,432.9 35.3,432.9 35.9,432.9 36.5,432.9 37.1,432.9 37.7,432.8 38.3,432.8 38.9,432.8 39.5,432.8 40.1,432.8 40.7,432.8 41.3,432.8 41.9,432.7 42.5,432.7 43.1,432.7 43.7,432.7 44.3,432.7 44.9,432.7 45.5,432.7 46.1,432.7 46.7,432.6 47.3,432.6 47.9,432.6 48.5,432.6 49.1,432.6 49.7,432.6 50.3,432.6 50.9,432.6 51.5,432.6 52.1,432.5 52.7,432.5 53.3,432.5 53.9,432.5 54.5,432.5 55.1,432.5 55.7,432.5 56.3,432.5 56.9,432.5 57.5,432.4 58.1,432.4 58.7,432.4 59.3,432.4 59.9,432.4 60.5,432.4 61.1,432.4 61.7,432.4 62.3,432.4 62.9,432.3 63.5,432.3 64.1,432.3 64.7,432.3 65.3,432.3 65.9,432.3 66.5,432.3 67.1,432.3 67.7,432.3 68.3,432.3 68.9,432.2 69.5,432.2 70.1,432.2 70.7,432.2 71.3,432.2 71.9,432.2 72.5,432.2 73.1,432.2 73.7,432.2 74.3,432.2 74.9,432.1 75.5,432.1 76.1,432.1 76.7,432.1 77.3,432.1 77.9,432.1 78.5,432.1 79.1,432.1 79.7,432.1 80.3,432.0 80.9,432.0 81.5,432.0 82.1,432.0 82.7,432.0 83.3,432.0 83.9,432.0 84.5,432.0 85.1,432.0 85.7,431.9 86.3,431.9 86.9,431.9 87.5,431.9 88.1,431.9 88.7,431.9 89.3,431.9 89.9,431.9 90.5,431.9 91.1,431.8 91.7,431.8 92.3,431.8 92.9,431.8 93.5,431.8 94.1,431.8 94.7,431.8 95.3,431.8 95.9,431.8 96.5,431.7 97.1,431.7 97.7,431.7 98.3,431.7 98.9,431.7 99.5,431.7 100.1,431.7 100.7,431.7 101.3,431.6 101.9,431.6 102.5,431.6 103.1,431.6 103.7,431.6 104.3,431.6 104.9,431.6 105.5,431.6 106.1,431.5 106.7,431.5 107.3,431.5 107.9,431.5 108.5,431.5 109.1,431.5 109.7,431.4 110.3,431.4 110.9,431.4 111.5,431.4 112.1,431.3 112.7,431.3 113.3,431.3 113.9,431.3 114.5,431.3 115.1,431.2 115.7,431.2 116.3,431.2 116.9,431.1 117.5,431.1 118.1,431.1 118.7,431.0 119.3,431.0 119.9,431.0 120.5,430.9 121.1,430.8 121.7,430.7 122.3,430.6 122.9,430.5 123.5,430.4 124.1,430.2 124.7,430.1 125.3,429.9 125.9,429.8 126.5,429.7 127.1,429.5 127.7,429.4 128.3,429.3 128.9,429.2 129.5,429.1 130.1,429.0 130.7,428.9 131.3,428.8 131.9,428.7 132.5,428.5 133.1,428.4 133.7,428.3 134.3,428.2 134.9,428.0 135.5,427.9 136.1,427.7 136.7,427.6 137.3,427.4 137.9,427.2 138.5,427.0 139.1,426.8 139.7,426.6 140.3,426.4 140.9,426.1 141.5,425.8 142.1,425.5 142.7,425.2 143.3,424.9 143.9,424.5 144.5,424.2 145.1,423.8 145.7,423.4 146.3,422.9 146.9,422.5 147.5,422.0 148.1,421.6 148.7,421.1 149.3,420.6 149.9,420.1 150.5,419.5 151.1,418.9 151.7,418.3 152.3,417.7 152.9,417.0 153.5,416.3 154.1,415.5 154.7,414.7 155.3,413.9 155.9,413.1 156.5,412.2 157.1,411.4 157.7,410.5 158.3,409.5 158.9,408.5 159.5,407.5 160.1,406.4 160.7,405.3 161.3,404.2 161.9,403.0 162.5,401.8 163.1,400.5 163.7,399.3 164.3,398.0 164.9,396.7 165.5,395.4 166.1,394.1 166.7,392.7 167.3,391.4 167.9,390.1 168.5,388.8 169.1,387.4 169.7,386.1 170.3,384.7 170.9,383.4 171.5,382.1 172.1,380.8 172.7,379.5 173.3,378.3 173.9,377.1 174.5,376.0 175.1,375.0 175.7,374.1 176.3,373.2 176.9,372.5 177.5,371.9 178.1,371.4 178.7,371.0 179.3,370.8 179.9,370.7 180.5,370.7 181.1,370.9 181.7,371.1 182.3,371.5 182.9,372.0 183.5,372.6 184.1,373.3 184.7,374.0 185.3,374.8 185.9,375.7 186.5,376.6 187.1,377.5 187.7,378.5 188.3,379.5 188.9,380.5 189.5,381.5 190.1,382.5 190.7,383.5 191.3,384.5 191.9,385.5 192.5,386.5 193.1,387.4 193.7,388.3 194.3,389.2 194.9,390.0 195.5,390.8 196.1,391.6 196.7,392.4 197.3,393.1 197.9,393.8 198.5,394.5 199.1,395.1 199.7,395.8 200.3,396.4 200.9,396.9 201.5,397.5 202.1,398.0 202.7,398.5 203.3,398.9 203.9,399.4 204.5,399.8 205.1,400.2 205.7,400.6 206.3,401.0 206.9,401.3 207.5,401.7 208.1,402.0 208.7,402.3 209.3,402.6 209.9,402.9 210.5,403.2 211.1,403.4 211.7,403.7 212.3,403.9 212.9,404.1 213.5,404.3 214.1,404.5 214.7,404.7 215.3,404.9 215.9,405.1 216.5,405.2 217.1,405.4 217.7,405.5 218.3,405.6 218.9,405.8 219.5,405.9 220.1,406.0 220.7,406.1 221.3,406.2 221.9,406.3 222.5,406.4 223.1,406.5 223.7,406.6 224.3,406.7 224.9,406.7 225.5,406.8 226.1,406.9 226.7,406.9 227.3,407.0 227.9,407.1 228.5,407.1 229.1,407.2 229.7,407.2 230.3,407.2 230.9,407.3 231.5,407.3 232.1,407.4 232.7,407.4 233.3,407.4 233.9,407.4 234.5,407.5 235.1,407.5 235.7,407.5 236.3,407.5 236.9,407.5 237.5,407.5 238.1,407.5 238.7,407.5 239.3,407.6 239.9,407.6 240.5,407.6 241.1,407.6 241.7,407.6 242.3,407.6 242.9,407.6 243.5,407.6 244.1,407.6 244.7,407.6 245.3,407.6 245.9,407.6 246.5,407.6 247.1,407.6 247.7,407.6 248.3,407.7 248.9,407.7 249.5,407.7 250.1,407.7 250.7,407.7 251.3,407.8 251.9,407.8 252.5,407.8 253.1,407.8 253.7,407.8 254.3,407.8 254.9,407.9 255.5,407.9 256.1,407.9 256.7,407.9 257.3,407.9 257.9,407.9 258.5,407.9 259.1,408.0 259.7,408.0 260.3,408.0 260.9,408.0 261.5,408.0 262.1,408.0 262.7,408.0 263.3,408.0 263.9,408.1 264.5,408.1 265.1,408.1 265.7,408.1 266.3,408.1 266.9,408.1 267.5,408.1 268.1,408.1 268.7,408.1 269.3,408.1 269.9,408.1 270.5,408.2 271.1,408.2 271.7,408.2 272.3,408.2 272.9,408.2 273.5,408.2 274.1,408.2 274.7,408.2 275.3,408.2 275.9,408.2 276.5,408.2 277.1,408.2 277.7,408.2 278.3,408.3 278.9,408.3 279.5,408.3 280.1,408.3 280.7,408.3 281.3,408.3 281.9,408.3 282.5,408.3 283.1,408.3 283.7,408.3 284.3,408.3 284.9,408.3 285.5,408.3 286.1,408.3 286.7,408.3 287.3,408.3 287.9,408.4 288.5,408.4 289.1,408.4 289.7,408.4 290.3,408.4 290.9,408.4 291.5,408.4 292.1,408.4 292.7,408.4 293.3,408.4 293.9,408.4 294.5,408.4 295.1,408.4 295.7,408.4 296.3,408.4 296.9,408.4 297.5,408.4 298.1,408.4 298.7,408.4 299.3,408.4 299.9,408.4 300.5,408.5 301.1,408.5 301.7,408.5 302.3,408.5 302.9,408.5 303.5,408.5 304.1,408.5 304.7,408.5 305.3,408.5 305.9,408.5 306.5,408.5 307.1,408.5 307.7,408.5 308.3,408.5 308.9,408.5 309.5,408.5 310.1,408.5 310.7,408.5 311.3,408.5 311.9,408.5" fill="none" stroke="#008000" stroke-width="1.6" stroke-linejoin="round" stroke-linecap="round"/><polyline points="33.5,433.3 34.1,433.3 34.7,433.2 35.3,433.2 35.9,433.2 36.5,433.2 37.1,433.2 37.7,433.2 38.3,433.2 38.9,433.2 39.5,433.2 40.1,433.1 40.7,433.1 41.3,433.1 41.9,433.1 42.5,433.1 43.1,433.1 43.7,433.1 44.3,433.1 44.9,433.1 45.5,433.1 46.1,433.1 46.7,433.0 47.3,433.0 47.9,433.0 48.5,433.0 49.1,433.0 49.7,433.0 50.3,433.0 50.9,433.0 51.5,433.0 52.1,433.0 52.7,433.0 53.3,433.0 53.9,433.0 54.5,432.9 55.1,432.9 55.7,432.9 56.3,432.9 56.9,432.9 57.5,432.9 58.1,432.9 58.7,432.9 59.3,432.9 59.9,432.9 60.5,432.9 61.1,432.9 61.7,432.9 62.3,432.9 62.9,432.9 63.5,432.9 64.1,432.9 64.7,432.9 65.3,432.8 65.9,432.8 66.5,432.8 67.1,432.8 67.7,432.8 68.3,432.8 68.9,432.8 69.5,432.8 70.1,432.8 70.7,432.8 71.3,432.8 71.9,432.8 72.5,432.8 73.1,432.8 73.7,432.8 74.3,432.8 74.9,432.8 75.5,432.8 76.1,432.8 76.7,432.8 77.3,432.8 77.9,432.8 78.5,432.8 79.1,432.8 79.7,432.8 80.3,432.8 80.9,432.8 81.5,432.8 82.1,432.8 82.7,432.8 83.3,432.8 83.9,432.8 84.5,432.8 85.1,432.8 85.7,432.8 86.3,432.8 86.9,432.7 87.5,432.7 88.1,432.7 88.7,432.7 89.3,432.7 89.9,432.7 90.5,432.7 91.1,432.7 91.7,432.7 92.3,432.7 92.9,432.7 93.5,432.7 94.1,432.8 94.7,432.8 95.3,432.8 95.9,432.8 96.5,432.8 97.1,432.8 97.7,432.8 98.3,432.8 98.9,432.8 99.5,432.8 100.1,432.8 100.7,432.8 101.3,432.8 101.9,432.8 102.5,432.8 103.1,432.8 103.7,432.8 104.3,432.8 104.9,432.8 105.5,432.8 106.1,432.8 106.7,432.8 107.3,432.8 107.9,432.9 108.5,432.9 109.1,432.9 109.7,432.9 110.3,432.9 110.9,432.9 111.5,432.9 112.1,432.9 112.7,432.9 113.3,432.9 113.9,432.9 114.5,432.9 115.1,432.9 115.7,432.9 116.3,432.9 116.9,432.9 117.5,432.9 118.1,432.9 118.7,432.9 119.3,432.9 119.9,432.9 120.5,432.9 121.1,432.9 121.7,432.8 122.3,432.7 122.9,432.6 123.5,432.5 124.1,432.4 124.7,432.3 125.3,432.2 125.9,432.2 126.5,432.1 127.1,432.0 127.7,432.0 128.3,431.9 128.9,431.9 129.5,431.8 130.1,431.8 130.7,431.7 131.3,431.7 131.9,431.6 132.5,431.6 133.1,431.5 133.7,431.5 134.3,431.4 134.9,431.4 135.5,431.3 136.1,431.3 136.7,431.2 137.3,431.1 137.9,431.1 138.5,431.0 139.1,430.9 139.7,430.8 140.3,430.7 140.9,430.6 141.5,430.4 142.1,430.3 142.7,430.1 143.3,429.9 143.9,429.7 144.5,429.6 145.1,429.4 145.7,429.2 146.3,428.9 146.9,428.7 147.5,428.5 148.1,428.3 148.7,428.1 149.3,427.8 149.9,427.6 150.5,427.4 151.1,427.1 151.7,426.8 152.3,426.6 152.9,426.3 153.5,426.0 154.1,425.6 154.7,425.3 155.3,425.0 155.9,424.7 156.5,424.4 157.1,424.1 157.7,423.7 158.3,423.4 158.9,423.1 159.5,422.7 160.1,422.4 160.7,422.0 161.3,421.7 161.9,421.3 162.5,420.9 163.1,420.6 163.7,420.2 164.3,419.9 164.9,419.6 165.5,419.3 166.1,419.0 166.7,418.7 167.3,418.5 167.9,418.3 168.5,418.1 169.1,417.9 169.7,417.7 170.3,417.5 170.9,417.3 171.5,417.1 172.1,416.9 172.7,416.7 173.3,416.5 173.9,416.3 174.5,416.2 175.1,416.0 175.7,415.8 176.3,415.6 176.9,415.4 177.5,415.2 178.1,415.0 178.7,414.9 179.3,414.7 179.9,414.5 180.5,414.3 181.1,414.1 181.7,413.9 182.3,413.6 182.9,413.4 183.5,413.2 184.1,413.0 184.7,412.7 185.3,412.5 185.9,412.2 186.5,412.0 187.1,411.7 187.7,411.5 188.3,411.2 188.9,410.9 189.5,410.6 190.1,410.3 190.7,409.9 191.3,409.6 191.9,409.3 192.5,408.9 193.1,408.6 193.7,408.2 194.3,407.9 194.9,407.5 195.5,407.1 196.1,406.7 196.7,406.4 197.3,406.0 197.9,405.6 198.5,405.2 199.1,404.8 199.7,404.4 200.3,404.1 200.9,403.7 201.5,403.3 202.1,403.0 202.7,402.6 203.3,402.3 203.9,402.0 204.5,401.7 205.1,401.4 205.7,401.1 206.3,400.8 206.9,400.6 207.5,400.4 208.1,400.2 208.7,400.0 209.3,399.9 209.9,399.7 210.5,399.6 211.1,399.5 211.7,399.5 212.3,399.4 212.9,399.4 213.5,399.4 214.1,399.5 214.7,399.5 215.3,399.6 215.9,399.7 216.5,399.9 217.1,400.0 217.7,400.2 218.3,400.4 218.9,400.6 219.5,400.9 220.1,401.1 220.7,401.3 221.3,401.6 221.9,401.9 222.5,402.2 223.1,402.4 223.7,402.7 224.3,403.0 224.9,403.3 225.5,403.6 226.1,403.8 226.7,404.1 227.3,404.4 227.9,404.7 228.5,404.9 229.1,405.2 229.7,405.4 230.3,405.7 230.9,405.9 231.5,406.1 232.1,406.3 232.7,406.5 233.3,406.7 233.9,406.9 234.5,407.0 235.1,407.2 235.7,407.3 236.3,407.5 236.9,407.6 237.5,407.7 238.1,407.8 238.7,407.9 239.3,408.0 239.9,408.1 240.5,408.1 241.1,408.2 241.7,408.3 242.3,408.3 242.9,408.4 243.5,408.4 244.1,408.5 244.7,408.5 245.3,408.5 245.9,408.6 246.5,408.6 247.1,408.6 247.7,408.6 248.3,408.7 248.9,408.7 249.5,408.7 250.1,408.7 250.7,408.8 251.3,408.8 251.9,408.8 252.5,408.8 253.1,408.8 253.7,408.8 254.3,408.9 254.9,408.9 255.5,408.9 256.1,408.9 256.7,408.9 257.3,408.9 257.9,408.9 258.5,408.9 259.1,408.9 259.7,408.9 260.3,408.9 260.9,408.9 261.5,408.9 262.1,408.9 262.7,408.9 263.3,408.9 263.9,408.9 264.5,408.9 265.1,408.9 265.7,408.9 266.3,408.9 266.9,408.9 267.5,408.9 268.1,408.9 268.7,408.9 269.3,408.9 269.9,408.9 270.5,408.9 271.1,408.9 271.7,408.9 272.3,408.9 272.9,408.9 273.5,408.9 274.1,408.9 274.7,408.9 275.3,408.9 275.9,408.9 276.5,408.9 277.1,408.9 277.7,408.9 278.3,408.9 278.9,408.9 279.5,408.9 280.1,408.9 280.7,408.9 281.3,408.9 281.9,408.9 282.5,408.9 283.1,408.9 283.7,408.9 284.3,408.9 284.9,408.9 285.5,408.9 286.1,408.9 286.7,408.9 287.3,408.9 287.9,408.9 288.5,408.9 289.1,408.9 289.7,408.9 290.3,408.9 290.9,408.9 291.5,408.9 292.1,408.9 292.7,408.9 293.3,408.9 293.9,408.9 294.5,408.9 295.1,408.9 295.7,408.9 296.3,408.9 296.9,408.9 297.5,408.9 298.1,408.9 298.7,408.9 299.3,408.9 299.9,408.9 300.5,408.9 301.1,408.9 301.7,408.9 302.3,408.9 302.9,408.9 303.5,408.9 304.1,408.9 304.7,408.9 305.3,408.9 305.9,408.9 306.5,408.9 307.1,408.9 307.7,408.9 308.3,408.9 308.9,408.9 309.5,408.9 310.1,408.9 310.7,408.9 311.3,408.9 311.9,408.9" fill="none" stroke="#000080" stroke-width="1.6" stroke-linejoin="round" stroke-linecap="round"/><polyline points="33.5,431.5 34.1,431.5 34.7,431.5 35.3,431.4 35.9,431.4 36.5,431.4 37.1,431.4 37.7,431.3 38.3,431.3 38.9,431.3 39.5,431.2 40.1,431.2 40.7,431.2 41.3,431.2 41.9,431.1 42.5,431.1 43.1,431.1 43.7,431.0 44.3,431.0 44.9,431.0 45.5,430.9 46.1,430.9 46.7,430.9 47.3,430.9 47.9,430.8 48.5,430.8 49.1,430.8 49.7,430.7 50.3,430.7 50.9,430.7 51.5,430.6 52.1,430.6 52.7,430.6 53.3,430.5 53.9,430.5 54.5,430.5 55.1,430.4 55.7,430.4 56.3,430.4 56.9,430.3 57.5,430.3 58.1,430.3 58.7,430.2 59.3,430.2 59.9,430.1 60.5,430.1 61.1,430.1 61.7,430.0 62.3,430.0 62.9,430.0 63.5,429.9 64.1,429.9 64.7,429.8 65.3,429.8 65.9,429.7 66.5,429.7 67.1,429.7 67.7,429.6 68.3,429.6 68.9,429.5 69.5,429.5 70.1,429.4 70.7,429.4 71.3,429.3 71.9,429.3 72.5,429.2 73.1,429.2 73.7,429.1 74.3,429.1 74.9,429.0 75.5,429.0 76.1,428.9 76.7,428.9 77.3,428.8 77.9,428.8 78.5,428.7 79.1,428.6 79.7,428.6 80.3,428.5 80.9,428.4 81.5,428.4 82.1,428.3 82.7,428.2 83.3,428.2 83.9,428.1 84.5,428.0 85.1,428.0 85.7,427.9 86.3,427.8 86.9,427.7 87.5,427.7 88.1,427.6 88.7,427.5 89.3,427.4 89.9,427.3 90.5,427.2 91.1,427.1 91.7,427.0 92.3,427.0 92.9,426.9 93.5,426.8 94.1,426.7 94.7,426.6 95.3,426.4 95.9,426.3 96.5,426.2 97.1,426.1 97.7,426.0 98.3,425.9 98.9,425.8 99.5,425.6 100.1,425.5 100.7,425.4 101.3,425.2 101.9,425.1 102.5,424.9 103.1,424.8 103.7,424.6 104.3,424.5 104.9,424.3 105.5,424.1 106.1,424.0 106.7,423.8 107.3,423.6 107.9,423.4 108.5,423.2 109.1,423.0 109.7,422.8 110.3,422.6 110.9,422.3 111.5,422.1 112.1,421.9 112.7,421.6 113.3,421.3 113.9,421.1 114.5,420.8 115.1,420.5 115.7,420.1 116.3,419.8 116.9,419.5 117.5,419.1 118.1,418.7 118.7,418.4 119.3,417.9 119.9,417.5 120.5,417.1 121.1,416.5 121.7,416.0 122.3,415.4 122.9,414.8 123.5,414.1 124.1,413.4 124.7,412.6 125.3,411.8 125.9,411.0 126.5,410.2 127.1,409.3 127.7,408.4 128.3,407.5 128.9,406.5 129.5,405.4 130.1,404.3 130.7,403.1 131.3,401.8 131.9,400.5 132.5,399.1 133.1,397.7 133.7,396.1 134.3,394.5 134.9,392.7 135.5,390.9 136.1,389.0 136.7,386.9 137.3,384.8 137.9,382.5 138.5,380.1 139.1,377.6 139.7,375.0 140.3,372.3 140.9,369.4 141.5,366.4 142.1,363.2 142.7,359.9 143.3,356.5 143.9,352.9 144.5,349.3 145.1,345.5 145.7,341.6 146.3,337.6 146.9,333.5 147.5,329.3 148.1,325.1 148.7,320.8 149.3,316.5 149.9,312.2 150.5,307.9 151.1,303.7 151.7,299.5 152.3,295.4 152.9,291.4 153.5,287.7 154.1,284.1 154.7,280.8 155.3,277.8 155.9,275.2 156.5,272.9 157.1,271.0 157.7,269.5 158.3,268.4 158.9,267.6 159.5,267.2 160.1,267.1 160.7,267.3 161.3,267.8 161.9,268.5 162.5,269.6 163.1,270.8 163.7,272.2 164.3,273.8 164.9,275.6 165.5,277.5 166.1,279.4 166.7,281.5 167.3,283.6 167.9,285.7 168.5,287.8 169.1,289.9 169.7,292.0 170.3,294.0 170.9,296.0 171.5,298.0 172.1,299.9 172.7,301.8 173.3,303.6 173.9,305.4 174.5,307.2 175.1,309.0 175.7,310.7 176.3,312.4 176.9,314.2 177.5,316.0 178.1,317.8 178.7,319.6 179.3,321.4 179.9,323.3 180.5,325.3 181.1,327.2 181.7,329.2 182.3,331.2 182.9,333.2 183.5,335.3 184.1,337.3 184.7,339.3 185.3,341.4 185.9,343.4 186.5,345.3 187.1,347.3 187.7,349.2 188.3,351.0 188.9,352.8 189.5,354.6 190.1,356.3 190.7,357.9 191.3,359.5 191.9,361.0 192.5,362.4 193.1,363.8 193.7,365.1 194.3,366.3 194.9,367.5 195.5,368.6 196.1,369.7 196.7,370.6 197.3,371.6 197.9,372.5 198.5,373.3 199.1,374.1 199.7,374.8 200.3,375.5 200.9,376.1 201.5,376.7 202.1,377.3 202.7,377.8 203.3,378.3 203.9,378.8 204.5,379.3 205.1,379.7 205.7,380.2 206.3,380.6 206.9,381.0 207.5,381.4 208.1,381.8 208.7,382.2 209.3,382.5 209.9,382.9 210.5,383.3 211.1,383.7 211.7,384.0 212.3,384.4 212.9,384.8 213.5,385.2 214.1,385.6 214.7,386.0 215.3,386.5 215.9,386.9 216.5,387.4 217.1,387.8 217.7,388.3 218.3,388.8 218.9,389.2 219.5,389.7 220.1,390.2 220.7,390.7 221.3,391.2 221.9,391.7 222.5,392.2 223.1,392.7 223.7,393.1 224.3,393.6 224.9,394.1 225.5,394.6 226.1,395.0 226.7,395.5 227.3,395.9 227.9,396.3 228.5,396.7 229.1,397.1 229.7,397.5 230.3,397.9 230.9,398.3 231.5,398.6 232.1,399.0 232.7,399.3 233.3,399.6 233.9,399.9 234.5,400.2 235.1,400.4 235.7,400.7 236.3,400.9 236.9,401.2 237.5,401.4 238.1,401.6 238.7,401.8 239.3,402.0 239.9,402.2 240.5,402.3 241.1,402.5 241.7,402.6 242.3,402.8 242.9,402.9 243.5,403.0 244.1,403.2 244.7,403.3 245.3,403.4 245.9,403.5 246.5,403.6 247.1,403.7 247.7,403.8 248.3,403.9 248.9,404.0 249.5,404.1 250.1,404.2 250.7,404.2 251.3,404.3 251.9,404.4 252.5,404.5 253.1,404.5 253.7,404.6 254.3,404.7 254.9,404.7 255.5,404.8 256.1,404.9 256.7,404.9 257.3,405.0 257.9,405.0 258.5,405.1 259.1,405.1 259.7,405.2 260.3,405.2 260.9,405.3 261.5,405.3 262.1,405.4 262.7,405.4 263.3,405.5 263.9,405.5 264.5,405.6 265.1,405.6 265.7,405.6 266.3,405.7 266.9,405.7 267.5,405.8 268.1,405.8 268.7,405.8 269.3,405.9 269.9,405.9 270.5,405.9 271.1,406.0 271.7,406.0 272.3,406.0 272.9,406.1 273.5,406.1 274.1,406.1 274.7,406.2 275.3,406.2 275.9,406.2 276.5,406.2 277.1,406.3 277.7,406.3 278.3,406.3 278.9,406.3 279.5,406.4 280.1,406.4 280.7,406.4 281.3,406.5 281.9,406.5 282.5,406.5 283.1,406.5 283.7,406.5 284.3,406.6 284.9,406.6 285.5,406.6 286.1,406.6 286.7,406.7 287.3,406.7 287.9,406.7 288.5,406.7 289.1,406.7 289.7,406.8 290.3,406.8 290.9,406.8 291.5,406.8 292.1,406.8 292.7,406.9 293.3,406.9 293.9,406.9 294.5,406.9 295.1,406.9 295.7,407.0 296.3,407.0 296.9,407.0 297.5,407.0 298.1,407.0 298.7,407.0 299.3,407.1 299.9,407.1 300.5,407.1 301.1,407.1 301.7,407.1 302.3,407.1 302.9,407.2 303.5,407.2 304.1,407.2 304.7,407.2 305.3,407.2 305.9,407.2 306.5,407.2 307.1,407.3 307.7,407.3 308.3,407.3 308.9,407.3 309.5,407.3 310.1,407.3 310.7,407.3 311.3,407.4 311.9,407.4" fill="none" stroke="#ff0000" stroke-width="1.6" stroke-linejoin="round" stroke-linecap="round"/><polyline points="348.5,438.9 356.0,439.2 366.5,438.4 372.0,437.8 377.1,436.2 380.0,437.5 384.0,437.8 389.1,436.2 397.6,437.0 402.6,433.9 407.2,433.9 413.2,427.1 420.7,412.1 427.0,389.5 435.8,310.0 437.5,292.6 440.0,277.6 445.7,263.8 450.1,271.3 453.2,277.6 457.6,298.9 460.1,315.0 463.6,339.6 467.5,358.0 470.2,369.2 474.6,381.7 479.0,380.9 483.4,383.9 487.8,383.1 491.4,387.5 494.4,383.9 498.0,382.4 502.4,388.2 506.8,387.5 511.2,390.4 514.1,395.6 518.5,397.0 521.4,400.0 528.5,399.8 534.2,407.3 537.9,409.2 543.5,409.6 547.3,411.0 552.5,412.3 556.0,415.0 565.0,414.2 574.0,417.4 585.0,425.0 594.0,424.1 606.6,429.5 613.9,432.2 624.7,432.2 631.0,430.4" fill="none" stroke="#000" stroke-width="1.5" stroke-linejoin="round" stroke-linecap="round"/><polyline points="348.0,439.3 348.6,439.3 349.2,439.3 349.8,439.3 350.4,439.3 351.0,439.3 351.6,439.3 352.2,439.3 352.8,439.3 353.4,439.3 354.0,439.3 354.6,439.3 355.2,439.3 355.8,439.3 356.4,439.3 357.0,439.3 357.6,439.3 358.2,439.3 358.8,439.3 359.4,439.3 360.0,439.3 360.6,439.3 361.2,439.3 361.8,439.3 362.4,439.3 363.0,439.3 363.6,439.3 364.2,439.3 364.8,439.3 365.4,439.3 366.0,439.3 366.6,439.3 367.2,439.3 367.8,439.3 368.4,439.2 369.0,439.2 369.6,439.2 370.2,439.2 370.8,439.2 371.4,439.2 372.0,439.2 372.6,439.2 373.2,439.2 373.8,439.2 374.4,439.2 375.0,439.2 375.6,439.2 376.2,439.2 376.8,439.2 377.4,439.2 378.0,439.2 378.6,439.2 379.2,439.2 379.8,439.2 380.4,439.2 381.0,439.2 381.6,439.2 382.2,439.2 382.8,439.1 383.4,439.1 384.0,439.1 384.6,439.1 385.2,439.1 385.8,439.1 386.4,439.1 387.0,439.1 387.6,439.1 388.2,439.1 388.8,439.1 389.4,439.1 390.0,439.1 390.6,439.1 391.2,439.1 391.8,439.1 392.4,439.0 393.0,439.0 393.6,439.0 394.2,439.0 394.8,439.0 395.4,439.0 396.0,439.0 396.6,439.0 397.2,439.0 397.8,439.0 398.4,439.0 399.0,439.0 399.6,438.9 400.2,438.9 400.8,438.9 401.4,438.9 402.0,438.9 402.6,438.9 403.2,438.9 403.8,438.9 404.4,438.9 405.0,438.9 405.6,438.9 406.2,438.8 406.8,438.8 407.4,438.8 408.0,438.8 408.6,438.8 409.2,438.8 409.8,438.8 410.4,438.8 411.0,438.8 411.6,438.7 412.2,438.7 412.8,438.7 413.4,438.7 414.0,438.7 414.6,438.7 415.2,438.7 415.8,438.7 416.4,438.6 417.0,438.6 417.6,438.6 418.2,438.6 418.8,438.6 419.4,438.6 420.0,438.6 420.6,438.6 421.2,438.5 421.8,438.5 422.4,438.5 423.0,438.5 423.6,438.5 424.2,438.5 424.8,438.5 425.4,438.4 426.0,438.4 426.6,438.4 427.2,438.4 427.8,438.4 428.4,438.3 429.0,438.3 429.6,438.2 430.2,438.2 430.8,438.1 431.4,438.0 432.0,438.0 432.6,437.9 433.2,437.8 433.8,437.7 434.4,437.6 435.0,437.5 435.6,437.4 436.2,437.3 436.8,437.2 437.4,437.1 438.0,437.1 438.6,437.0 439.2,436.9 439.8,436.8 440.4,436.8 441.0,436.7 441.6,436.6 442.2,436.6 442.8,436.5 443.4,436.4 444.0,436.4 444.6,436.3 445.2,436.2 445.8,436.2 446.4,436.1 447.0,436.1 447.6,436.0 448.2,435.9 448.8,435.9 449.4,435.8 450.0,435.8 450.6,435.7 451.2,435.6 451.8,435.6 452.4,435.5 453.0,435.5 453.6,435.4 454.2,435.3 454.8,435.3 455.4,435.2 456.0,435.2 456.6,435.1 457.2,435.1 457.8,435.0 458.4,434.9 459.0,434.9 459.6,434.8 460.2,434.8 460.8,434.7 461.4,434.7 462.0,434.6 462.6,434.6 463.2,434.5 463.8,434.5 464.4,434.4 465.0,434.3 465.6,434.3 466.2,434.2 466.8,434.2 467.4,434.1 468.0,434.1 468.6,434.0 469.2,434.0 469.8,433.9 470.4,433.9 471.0,433.8 471.6,433.8 472.2,433.7 472.8,433.7 473.4,433.6 474.0,433.6 474.6,433.5 475.2,433.5 475.8,433.4 476.4,433.4 477.0,433.4 477.6,433.3 478.2,433.3 478.8,433.2 479.4,433.2 480.0,433.1 480.6,433.1 481.2,433.0 481.8,433.0 482.4,432.9 483.0,432.9 483.6,432.8 484.2,432.8 484.8,432.8 485.4,432.7 486.0,432.7 486.6,432.6 487.2,432.6 487.8,432.5 488.4,432.5 489.0,432.4 489.6,432.4 490.2,432.3 490.8,432.3 491.4,432.3 492.0,432.2 492.6,432.2 493.2,432.1 493.8,432.1 494.4,432.0 495.0,432.0 495.6,432.0 496.2,431.9 496.8,431.9 497.4,431.8 498.0,431.8 498.6,431.8 499.2,431.7 499.8,431.7 500.4,431.6 501.0,431.6 501.6,431.6 502.2,431.5 502.8,431.5 503.4,431.4 504.0,431.4 504.6,431.4 505.2,431.3 505.8,431.3 506.4,431.3 507.0,431.2 507.6,431.2 508.2,431.2 508.8,431.1 509.4,431.1 510.0,431.1 510.6,431.0 511.2,431.0 511.8,431.0 512.4,430.9 513.0,430.9 513.6,430.9 514.2,430.9 514.8,430.8 515.4,430.8 516.0,430.8 516.6,430.7 517.2,430.7 517.8,430.7 518.4,430.7 519.0,430.6 519.6,430.6 520.2,430.6 520.8,430.6 521.4,430.5 522.0,430.5 522.6,430.5 523.2,430.5 523.8,430.4 524.4,430.4 525.0,430.4 525.6,430.4 526.2,430.3 526.8,430.3 527.4,430.3 528.0,430.3 528.6,430.2 529.2,430.2 529.8,430.2 530.4,430.2 531.0,430.1 531.6,430.1 532.2,430.1 532.8,430.1 533.4,430.0 534.0,430.0 534.6,430.0 535.2,430.0 535.8,430.0 536.4,429.9 537.0,429.9 537.6,429.9 538.2,429.9 538.8,429.8 539.4,429.8 540.0,429.8 540.6,429.8 541.2,429.8 541.8,429.7 542.4,429.7 543.0,429.7 543.6,429.7 544.2,429.7 544.8,429.7 545.4,429.6 546.0,429.6 546.6,429.6 547.2,429.6 547.8,429.6 548.4,429.6 549.0,429.5 549.6,429.5 550.2,429.5 550.8,429.5 551.4,429.5 552.0,429.5 552.6,429.4 553.2,429.4 553.8,429.4 554.4,429.4 555.0,429.4 555.6,429.4 556.2,429.4 556.8,429.4 557.4,429.3 558.0,429.3 558.6,429.3 559.2,429.3 559.8,429.3 560.4,429.3 561.0,429.3 561.6,429.3 562.2,429.3 562.8,429.3 563.4,429.2 564.0,429.2 564.6,429.2 565.2,429.2 565.8,429.2 566.4,429.2 567.0,429.2 567.6,429.2 568.2,429.2 568.8,429.2 569.4,429.2 570.0,429.1 570.6,429.1 571.2,429.1 571.8,429.1 572.4,429.1 573.0,429.1 573.6,429.1 574.2,429.1 574.8,429.1 575.4,429.1 576.0,429.1 576.6,429.0 577.2,429.0 577.8,429.0 578.4,429.0 579.0,429.0 579.6,429.0 580.2,429.0 580.8,429.0 581.4,429.0 582.0,429.0 582.6,429.0 583.2,429.0 583.8,428.9 584.4,428.9 585.0,428.9 585.6,428.9 586.2,428.9 586.8,428.9 587.4,428.9 588.0,428.9 588.6,428.9 589.2,428.9 589.8,428.9 590.4,428.9 591.0,428.9 591.6,428.9 592.2,428.8 592.8,428.8 593.4,428.8 594.0,428.8 594.6,428.8 595.2,428.8 595.8,428.8 596.4,428.8 597.0,428.8 597.6,428.8 598.2,428.8 598.8,428.8 599.4,428.8 600.0,428.8 600.6,428.8 601.2,428.8 601.8,428.7 602.4,428.7 603.0,428.7 603.6,428.7 604.2,428.7 604.8,428.7 605.4,428.7 606.0,428.7 606.6,428.7 607.2,428.7 607.8,428.7 608.4,428.7 609.0,428.7 609.6,428.7 610.2,428.7 610.8,428.7 611.4,428.7 612.0,428.7 612.6,428.7 613.2,428.7 613.8,428.7 614.4,428.6 615.0,428.6 615.6,428.6 616.2,428.6 616.8,428.6 617.4,428.6 618.0,428.6 618.6,428.6 619.2,428.6 619.8,428.6 620.4,428.6 621.0,428.6 621.6,428.6 622.2,428.6 622.8,428.6 623.4,428.6 624.0,428.6 624.6,428.6 625.2,428.6 625.8,428.6 626.4,428.6 627.0,428.6 627.6,428.6 628.2,428.6 628.8,428.6 629.4,428.6 630.0,428.6 630.6,428.6" fill="none" stroke="#0000ff" stroke-width="1.6" stroke-linejoin="round" stroke-linecap="round"/><polyline points="348.0,435.8 348.6,435.8 349.2,435.7 349.8,435.7 350.4,435.6 351.0,435.6 351.6,435.5 352.2,435.4 352.8,435.4 353.4,435.3 354.0,435.3 354.6,435.2 355.2,435.1 355.8,435.1 356.4,435.0 357.0,434.9 357.6,434.9 358.2,434.8 358.8,434.7 359.4,434.7 360.0,434.6 360.6,434.5 361.2,434.4 361.8,434.4 362.4,434.3 363.0,434.2 363.6,434.1 364.2,434.0 364.8,434.0 365.4,433.9 366.0,433.8 366.6,433.7 367.2,433.6 367.8,433.5 368.4,433.4 369.0,433.3 369.6,433.2 370.2,433.1 370.8,433.0 371.4,432.9 372.0,432.8 372.6,432.7 373.2,432.5 373.8,432.4 374.4,432.3 375.0,432.2 375.6,432.1 376.2,431.9 376.8,431.8 377.4,431.7 378.0,431.5 378.6,431.4 379.2,431.2 379.8,431.1 380.4,430.9 381.0,430.8 381.6,430.6 382.2,430.4 382.8,430.3 383.4,430.1 384.0,429.9 384.6,429.7 385.2,429.6 385.8,429.4 386.4,429.2 387.0,429.0 387.6,428.8 388.2,428.5 388.8,428.3 389.4,428.1 390.0,427.9 390.6,427.6 391.2,427.4 391.8,427.1 392.4,426.9 393.0,426.6 393.6,426.3 394.2,426.0 394.8,425.7 395.4,425.4 396.0,425.1 396.6,424.8 397.2,424.5 397.8,424.1 398.4,423.8 399.0,423.4 399.6,423.0 400.2,422.6 400.8,422.2 401.4,421.8 402.0,421.4 402.6,420.9 403.2,420.4 403.8,419.9 404.4,419.4 405.0,418.9 405.6,418.4 406.2,417.8 406.8,417.2 407.4,416.6 408.0,415.9 408.6,415.3 409.2,414.6 409.8,413.8 410.4,413.1 411.0,412.3 411.6,411.5 412.2,410.6 412.8,409.7 413.4,408.8 414.0,407.8 414.6,406.8 415.2,405.7 415.8,404.6 416.4,403.4 417.0,402.2 417.6,401.0 418.2,399.6 418.8,398.3 419.4,396.8 420.0,395.3 420.6,393.7 421.2,392.1 421.8,390.4 422.4,388.6 423.0,386.8 423.6,384.8 424.2,382.8 424.8,380.8 425.4,378.6 426.0,376.3 426.6,374.0 427.2,371.5 427.8,369.0 428.4,366.4 429.0,363.7 429.6,360.8 430.2,357.9 430.8,354.9 431.4,351.8 432.0,348.5 432.6,345.2 433.2,341.9 433.8,338.4 434.4,334.9 435.0,331.3 435.6,327.6 436.2,323.9 436.8,320.2 437.4,316.5 438.0,312.8 438.6,309.1 439.2,305.4 439.8,301.8 440.4,298.3 441.0,294.9 441.6,291.6 442.2,288.4 442.8,285.5 443.4,282.8 444.0,280.3 444.6,278.1 445.2,276.1 445.8,274.5 446.4,273.2 447.0,272.3 447.6,271.7 448.2,271.5 448.8,271.7 449.4,272.2 450.0,273.2 450.6,274.5 451.2,276.2 451.8,278.2 452.4,280.5 453.0,283.1 453.6,286.0 454.2,289.0 454.8,292.3 455.4,295.7 456.0,299.2 456.6,302.9 457.2,306.5 457.8,310.3 458.4,314.0 459.0,317.8 459.6,321.5 460.2,325.2 460.8,328.9 461.4,332.5 462.0,336.0 462.6,339.5 463.2,342.9 463.8,346.1 464.4,349.3 465.0,352.4 465.6,355.4 466.2,358.3 466.8,361.1 467.4,363.8 468.0,366.4 468.6,368.9 469.2,371.4 469.8,373.7 470.4,375.9 471.0,378.0 471.6,380.1 472.2,382.0 472.8,383.9 473.4,385.7 474.0,387.4 474.6,389.0 475.2,390.6 475.8,392.1 476.4,393.5 477.0,394.9 477.6,396.2 478.2,397.4 478.8,398.6 479.4,399.7 480.0,400.8 480.6,401.8 481.2,402.8 481.8,403.8 482.4,404.6 483.0,405.5 483.6,406.3 484.2,407.1 484.8,407.8 485.4,408.5 486.0,409.2 486.6,409.8 487.2,410.4 487.8,411.0 488.4,411.6 489.0,412.1 489.6,412.6 490.2,413.1 490.8,413.6 491.4,414.0 492.0,414.5 492.6,414.9 493.2,415.3 493.8,415.6 494.4,416.0 495.0,416.4 495.6,416.7 496.2,417.0 496.8,417.3 497.4,417.6 498.0,417.9 498.6,418.2 499.2,418.5 499.8,418.7 500.4,419.0 501.0,419.2 501.6,419.4 502.2,419.7 502.8,419.9 503.4,420.1 504.0,420.3 504.6,420.5 505.2,420.7 505.8,420.9 506.4,421.0 507.0,421.2 507.6,421.4 508.2,421.6 508.8,421.7 509.4,421.9 510.0,422.0 510.6,422.2 511.2,422.3 511.8,422.4 512.4,422.6 513.0,422.7 513.6,422.8 514.2,422.9 514.8,423.1 515.4,423.2 516.0,423.3 516.6,423.4 517.2,423.5 517.8,423.6 518.4,423.7 519.0,423.8 519.6,423.9 520.2,424.0 520.8,424.1 521.4,424.2 522.0,424.3 522.6,424.3 523.2,424.4 523.8,424.5 524.4,424.6 525.0,424.6 525.6,424.7 526.2,424.8 526.8,424.8 527.4,424.9 528.0,425.0 528.6,425.0 529.2,425.1 529.8,425.2 530.4,425.2 531.0,425.3 531.6,425.3 532.2,425.4 532.8,425.4 533.4,425.5 534.0,425.5 534.6,425.6 535.2,425.6 535.8,425.7 536.4,425.7 537.0,425.8 537.6,425.8 538.2,425.8 538.8,425.9 539.4,425.9 540.0,426.0 540.6,426.0 541.2,426.0 541.8,426.1 542.4,426.1 543.0,426.1 543.6,426.2 544.2,426.2 544.8,426.2 545.4,426.3 546.0,426.3 546.6,426.3 547.2,426.4 547.8,426.4 548.4,426.4 549.0,426.5 549.6,426.5 550.2,426.5 550.8,426.5 551.4,426.6 552.0,426.6 552.6,426.6 553.2,426.7 553.8,426.7 554.4,426.7 555.0,426.7 555.6,426.8 556.2,426.8 556.8,426.8 557.4,426.8 558.0,426.9 558.6,426.9 559.2,426.9 559.8,426.9 560.4,427.0 561.0,427.0 561.6,427.0 562.2,427.0 562.8,427.0 563.4,427.1 564.0,427.1 564.6,427.1 565.2,427.1 565.8,427.1 566.4,427.2 567.0,427.2 567.6,427.2 568.2,427.2 568.8,427.2 569.4,427.3 570.0,427.3 570.6,427.3 571.2,427.3 571.8,427.3 572.4,427.3 573.0,427.4 573.6,427.4 574.2,427.4 574.8,427.4 575.4,427.4 576.0,427.4 576.6,427.4 577.2,427.5 577.8,427.5 578.4,427.5 579.0,427.5 579.6,427.5 580.2,427.5 580.8,427.5 581.4,427.5 582.0,427.5 582.6,427.6 583.2,427.6 583.8,427.6 584.4,427.6 585.0,427.6 585.6,427.6 586.2,427.6 586.8,427.6 587.4,427.6 588.0,427.7 588.6,427.7 589.2,427.7 589.8,427.7 590.4,427.7 591.0,427.7 591.6,427.7 592.2,427.7 592.8,427.7 593.4,427.7 594.0,427.7 594.6,427.8 595.2,427.8 595.8,427.8 596.4,427.8 597.0,427.8 597.6,427.8 598.2,427.8 598.8,427.8 599.4,427.8 600.0,427.8 600.6,427.8 601.2,427.8 601.8,427.9 602.4,427.9 603.0,427.9 603.6,427.9 604.2,427.9 604.8,427.9 605.4,427.9 606.0,427.9 606.6,427.9 607.2,427.9 607.8,427.9 608.4,427.9 609.0,427.9 609.6,427.9 610.2,428.0 610.8,428.0 611.4,428.0 612.0,428.0 612.6,428.0 613.2,428.0 613.8,428.0 614.4,428.0 615.0,428.0 615.6,428.0 616.2,428.0 616.8,428.0 617.4,428.0 618.0,428.0 618.6,428.0 619.2,428.1 619.8,428.1 620.4,428.1 621.0,428.1 621.6,428.1 622.2,428.1 622.8,428.1 623.4,428.1 624.0,428.1 624.6,428.1 625.2,428.1 625.8,428.1 626.4,428.1 627.0,428.1 627.6,428.2 628.2,428.2 628.8,428.2 629.4,428.2 630.0,428.2 630.6,428.2" fill="none" stroke="#ff00ff" stroke-width="1.6" stroke-linejoin="round" stroke-linecap="round"/><polyline points="348.0,438.9 348.6,438.9 349.2,438.9 349.8,438.9 350.4,438.9 351.0,438.9 351.6,438.9 352.2,438.9 352.8,438.9 353.4,438.9 354.0,438.9 354.6,438.9 355.2,438.9 355.8,438.9 356.4,438.9 357.0,438.9 357.6,438.9 358.2,438.9 358.8,438.9 359.4,438.9 360.0,438.9 360.6,438.9 361.2,438.9 361.8,438.8 362.4,438.8 363.0,438.8 363.6,438.8 364.2,438.8 364.8,438.8 365.4,438.8 366.0,438.8 366.6,438.8 367.2,438.8 367.8,438.8 368.4,438.8 369.0,438.8 369.6,438.8 370.2,438.8 370.8,438.7 371.4,438.7 372.0,438.7 372.6,438.7 373.2,438.7 373.8,438.7 374.4,438.7 375.0,438.7 375.6,438.7 376.2,438.7 376.8,438.7 377.4,438.6 378.0,438.6 378.6,438.6 379.2,438.6 379.8,438.6 380.4,438.6 381.0,438.6 381.6,438.6 382.2,438.6 382.8,438.6 383.4,438.5 384.0,438.5 384.6,438.5 385.2,438.5 385.8,438.5 386.4,438.5 387.0,438.5 387.6,438.5 388.2,438.4 388.8,438.4 389.4,438.4 390.0,438.4 390.6,438.4 391.2,438.4 391.8,438.4 392.4,438.3 393.0,438.3 393.6,438.3 394.2,438.3 394.8,438.3 395.4,438.3 396.0,438.2 396.6,438.2 397.2,438.2 397.8,438.2 398.4,438.2 399.0,438.2 399.6,438.1 400.2,438.1 400.8,438.1 401.4,438.1 402.0,438.1 402.6,438.0 403.2,438.0 403.8,438.0 404.4,438.0 405.0,438.0 405.6,437.9 406.2,437.9 406.8,437.9 407.4,437.9 408.0,437.8 408.6,437.8 409.2,437.8 409.8,437.8 410.4,437.7 411.0,437.7 411.6,437.7 412.2,437.7 412.8,437.6 413.4,437.6 414.0,437.6 414.6,437.6 415.2,437.5 415.8,437.5 416.4,437.5 417.0,437.4 417.6,437.4 418.2,437.4 418.8,437.3 419.4,437.3 420.0,437.3 420.6,437.2 421.2,437.2 421.8,437.2 422.4,437.1 423.0,437.1 423.6,437.1 424.2,437.0 424.8,437.0 425.4,437.0 426.0,436.9 426.6,436.9 427.2,436.8 427.8,436.8 428.4,436.7 429.0,436.7 429.6,436.6 430.2,436.5 430.8,436.4 431.4,436.3 432.0,436.2 432.6,436.1 433.2,435.9 433.8,435.8 434.4,435.7 435.0,435.6 435.6,435.4 436.2,435.3 436.8,435.2 437.4,435.0 438.0,434.9 438.6,434.8 439.2,434.7 439.8,434.5 440.4,434.4 441.0,434.3 441.6,434.2 442.2,434.1 442.8,434.0 443.4,433.9 444.0,433.7 444.6,433.6 445.2,433.5 445.8,433.4 446.4,433.2 447.0,433.1 447.6,433.0 448.2,432.8 448.8,432.7 449.4,432.6 450.0,432.4 450.6,432.3 451.2,432.1 451.8,432.0 452.4,431.8 453.0,431.7 453.6,431.5 454.2,431.3 454.8,431.1 455.4,431.0 456.0,430.8 456.6,430.6 457.2,430.4 457.8,430.2 458.4,430.0 459.0,429.8 459.6,429.5 460.2,429.3 460.8,429.1 461.4,428.8 462.0,428.6 462.6,428.3 463.2,428.0 463.8,427.8 464.4,427.5 465.0,427.2 465.6,426.9 466.2,426.5 466.8,426.2 467.4,425.9 468.0,425.5 468.6,425.2 469.2,424.8 469.8,424.4 470.4,424.0 471.0,423.6 471.6,423.1 472.2,422.7 472.8,422.2 473.4,421.8 474.0,421.3 474.6,420.8 475.2,420.3 475.8,419.7 476.4,419.2 477.0,418.6 477.6,418.1 478.2,417.5 478.8,416.9 479.4,416.3 480.0,415.7 480.6,415.1 481.2,414.5 481.8,413.8 482.4,413.2 483.0,412.5 483.6,411.9 484.2,411.2 484.8,410.6 485.4,409.9 486.0,409.3 486.6,408.7 487.2,408.1 487.8,407.5 488.4,406.9 489.0,406.4 489.6,405.9 490.2,405.4 490.8,404.9 491.4,404.5 492.0,404.2 492.6,403.9 493.2,403.6 493.8,403.4 494.4,403.2 495.0,403.1 495.6,403.1 496.2,403.1 496.8,403.2 497.4,403.3 498.0,403.5 498.6,403.7 499.2,404.0 499.8,404.4 500.4,404.7 501.0,405.2 501.6,405.6 502.2,406.1 502.8,406.6 503.4,407.2 504.0,407.8 504.6,408.3 505.2,408.9 505.8,409.5 506.4,410.1 507.0,410.7 507.6,411.3 508.2,411.9 508.8,412.5 509.4,413.1 510.0,413.6 510.6,414.2 511.2,414.8 511.8,415.3 512.4,415.8 513.0,416.3 513.6,416.8 514.2,417.3 514.8,417.8 515.4,418.2 516.0,418.7 516.6,419.1 517.2,419.5 517.8,419.9 518.4,420.3 519.0,420.7 519.6,421.0 520.2,421.3 520.8,421.7 521.4,422.0 522.0,422.3 522.6,422.5 523.2,422.8 523.8,423.1 524.4,423.3 525.0,423.5 525.6,423.8 526.2,424.0 526.8,424.2 527.4,424.4 528.0,424.5 528.6,424.7 529.2,424.9 529.8,425.0 530.4,425.2 531.0,425.3 531.6,425.4 532.2,425.6 532.8,425.7 533.4,425.8 534.0,425.9 534.6,426.0 535.2,426.1 535.8,426.2 536.4,426.3 537.0,426.3 537.6,426.4 538.2,426.5 538.8,426.6 539.4,426.6 540.0,426.7 540.6,426.7 541.2,426.8 541.8,426.9 542.4,426.9 543.0,427.0 543.6,427.0 544.2,427.0 544.8,427.1 545.4,427.1 546.0,427.2 546.6,427.2 547.2,427.2 547.8,427.3 548.4,427.3 549.0,427.3 549.6,427.4 550.2,427.4 550.8,427.4 551.4,427.4 552.0,427.5 552.6,427.5 553.2,427.5 553.8,427.5 554.4,427.6 555.0,427.6 555.6,427.6 556.2,427.6 556.8,427.6 557.4,427.7 558.0,427.7 558.6,427.7 559.2,427.7 559.8,427.7 560.4,427.8 561.0,427.8 561.6,427.8 562.2,427.8 562.8,427.8 563.4,427.8 564.0,427.8 564.6,427.9 565.2,427.9 565.8,427.9 566.4,427.9 567.0,427.9 567.6,427.9 568.2,427.9 568.8,427.9 569.4,427.9 570.0,428.0 570.6,428.0 571.2,428.0 571.8,428.0 572.4,428.0 573.0,428.0 573.6,428.0 574.2,428.0 574.8,428.0 575.4,428.0 576.0,428.0 576.6,428.0 577.2,428.0 577.8,428.0 578.4,428.1 579.0,428.1 579.6,428.1 580.2,428.1 580.8,428.1 581.4,428.1 582.0,428.1 582.6,428.1 583.2,428.1 583.8,428.1 584.4,428.1 585.0,428.1 585.6,428.1 586.2,428.1 586.8,428.1 587.4,428.1 588.0,428.1 588.6,428.1 589.2,428.1 589.8,428.1 590.4,428.1 591.0,428.1 591.6,428.1 592.2,428.1 592.8,428.1 593.4,428.1 594.0,428.1 594.6,428.1 595.2,428.1 595.8,428.1 596.4,428.1 597.0,428.1 597.6,428.1 598.2,428.1 598.8,428.1 599.4,428.1 600.0,428.1 600.6,428.1 601.2,428.1 601.8,428.1 602.4,428.1 603.0,428.1 603.6,428.1 604.2,428.1 604.8,428.1 605.4,428.1 606.0,428.2 606.6,428.2 607.2,428.2 607.8,428.2 608.4,428.2 609.0,428.2 609.6,428.2 610.2,428.2 610.8,428.2 611.4,428.2 612.0,428.2 612.6,428.2 613.2,428.2 613.8,428.2 614.4,428.2 615.0,428.2 615.6,428.2 616.2,428.2 616.8,428.2 617.4,428.2 618.0,428.2 618.6,428.2 619.2,428.2 619.8,428.2 620.4,428.2 621.0,428.2 621.6,428.2 622.2,428.2 622.8,428.2 623.4,428.2 624.0,428.2 624.6,428.2 625.2,428.2 625.8,428.2 626.4,428.2 627.0,428.2 627.6,428.2 628.2,428.2 628.8,428.2 629.4,428.2 630.0,428.2 630.6,428.2" fill="none" stroke="#008000" stroke-width="1.6" stroke-linejoin="round" stroke-linecap="round"/><polyline points="348.0,439.2 348.6,439.2 349.2,439.2 349.8,439.2 350.4,439.2 351.0,439.2 351.6,439.2 352.2,439.2 352.8,439.2 353.4,439.2 354.0,439.2 354.6,439.2 355.2,439.2 355.8,439.2 356.4,439.2 357.0,439.2 357.6,439.2 358.2,439.2 358.8,439.2 359.4,439.2 360.0,439.2 360.6,439.2 361.2,439.2 361.8,439.2 362.4,439.2 363.0,439.2 363.6,439.2 364.2,439.2 364.8,439.2 365.4,439.2 366.0,439.2 366.6,439.2 367.2,439.2 367.8,439.2 368.4,439.2 369.0,439.2 369.6,439.2 370.2,439.2 370.8,439.2 371.4,439.1 372.0,439.1 372.6,439.1 373.2,439.1 373.8,439.1 374.4,439.1 375.0,439.1 375.6,439.1 376.2,439.1 376.8,439.1 377.4,439.1 378.0,439.1 378.6,439.1 379.2,439.1 379.8,439.1 380.4,439.1 381.0,439.1 381.6,439.1 382.2,439.1 382.8,439.1 383.4,439.0 384.0,439.0 384.6,439.0 385.2,439.0 385.8,439.0 386.4,439.0 387.0,439.0 387.6,439.0 388.2,439.0 388.8,439.0 389.4,439.0 390.0,439.0 390.6,439.0 391.2,439.0 391.8,438.9 392.4,438.9 393.0,438.9 393.6,438.9 394.2,438.9 394.8,438.9 395.4,438.9 396.0,438.9 396.6,438.9 397.2,438.9 397.8,438.9 398.4,438.8 399.0,438.8 399.6,438.8 400.2,438.8 400.8,438.8 401.4,438.8 402.0,438.8 402.6,438.8 403.2,438.8 403.8,438.8 404.4,438.7 405.0,438.7 405.6,438.7 406.2,438.7 406.8,438.7 407.4,438.7 408.0,438.7 408.6,438.7 409.2,438.6 409.8,438.6 410.4,438.6 411.0,438.6 411.6,438.6 412.2,438.6 412.8,438.6 413.4,438.6 414.0,438.5 414.6,438.5 415.2,438.5 415.8,438.5 416.4,438.5 417.0,438.5 417.6,438.5 418.2,438.4 418.8,438.4 419.4,438.4 420.0,438.4 420.6,438.4 421.2,438.4 421.8,438.4 422.4,438.3 423.0,438.3 423.6,438.3 424.2,438.3 424.8,438.3 425.4,438.3 426.0,438.2 426.6,438.2 427.2,438.2 427.8,438.2 428.4,438.1 429.0,438.1 429.6,438.0 430.2,438.0 430.8,437.9 431.4,437.8 432.0,437.7 432.6,437.7 433.2,437.6 433.8,437.5 434.4,437.4 435.0,437.3 435.6,437.2 436.2,437.1 436.8,437.0 437.4,436.9 438.0,436.8 438.6,436.7 439.2,436.7 439.8,436.6 440.4,436.5 441.0,436.4 441.6,436.4 442.2,436.3 442.8,436.2 443.4,436.2 444.0,436.1 444.6,436.0 445.2,436.0 445.8,435.9 446.4,435.8 447.0,435.8 447.6,435.7 448.2,435.6 448.8,435.6 449.4,435.5 450.0,435.5 450.6,435.4 451.2,435.3 451.8,435.3 452.4,435.2 453.0,435.1 453.6,435.1 454.2,435.0 454.8,434.9 455.4,434.9 456.0,434.8 456.6,434.8 457.2,434.7 457.8,434.6 458.4,434.6 459.0,434.5 459.6,434.4 460.2,434.4 460.8,434.3 461.4,434.3 462.0,434.2 462.6,434.1 463.2,434.1 463.8,434.0 464.4,433.9 465.0,433.9 465.6,433.8 466.2,433.7 466.8,433.7 467.4,433.6 468.0,433.6 468.6,433.5 469.2,433.4 469.8,433.4 470.4,433.3 471.0,433.2 471.6,433.2 472.2,433.1 472.8,433.0 473.4,432.9 474.0,432.9 474.6,432.8 475.2,432.7 475.8,432.6 476.4,432.6 477.0,432.5 477.6,432.4 478.2,432.3 478.8,432.2 479.4,432.2 480.0,432.1 480.6,432.0 481.2,431.9 481.8,431.8 482.4,431.7 483.0,431.6 483.6,431.5 484.2,431.4 484.8,431.3 485.4,431.1 486.0,431.0 486.6,430.9 487.2,430.8 487.8,430.6 488.4,430.5 489.0,430.4 489.6,430.2 490.2,430.1 490.8,429.9 491.4,429.8 492.0,429.6 492.6,429.4 493.2,429.2 493.8,429.1 494.4,428.9 495.0,428.7 495.6,428.5 496.2,428.3 496.8,428.1 497.4,427.8 498.0,427.6 498.6,427.4 499.2,427.2 499.8,426.9 500.4,426.7 501.0,426.4 501.6,426.1 502.2,425.9 502.8,425.6 503.4,425.3 504.0,425.0 504.6,424.8 505.2,424.5 505.8,424.2 506.4,423.8 507.0,423.5 507.6,423.2 508.2,422.9 508.8,422.6 509.4,422.2 510.0,421.9 510.6,421.6 511.2,421.2 511.8,420.9 512.4,420.6 513.0,420.2 513.6,419.9 514.2,419.5 514.8,419.2 515.4,418.8 516.0,418.5 516.6,418.2 517.2,417.8 517.8,417.5 518.4,417.2 519.0,416.9 519.6,416.5 520.2,416.2 520.8,415.9 521.4,415.6 522.0,415.3 522.6,415.1 523.2,414.8 523.8,414.5 524.4,414.3 525.0,414.0 525.6,413.8 526.2,413.6 526.8,413.4 527.4,413.2 528.0,413.1 528.6,412.9 529.2,412.8 529.8,412.7 530.4,412.6 531.0,412.5 531.6,412.5 532.2,412.4 532.8,412.4 533.4,412.4 534.0,412.5 534.6,412.5 535.2,412.6 535.8,412.8 536.4,412.9 537.0,413.1 537.6,413.3 538.2,413.5 538.8,413.7 539.4,414.0 540.0,414.3 540.6,414.6 541.2,414.9 541.8,415.2 542.4,415.6 543.0,415.9 543.6,416.3 544.2,416.6 544.8,417.0 545.4,417.4 546.0,417.7 546.6,418.1 547.2,418.5 547.8,418.9 548.4,419.3 549.0,419.6 549.6,420.0 550.2,420.4 550.8,420.7 551.4,421.1 552.0,421.4 552.6,421.8 553.2,422.1 553.8,422.4 554.4,422.8 555.0,423.1 555.6,423.4 556.2,423.7 556.8,423.9 557.4,424.2 558.0,424.5 558.6,424.7 559.2,424.9 559.8,425.2 560.4,425.4 561.0,425.6 561.6,425.8 562.2,426.0 562.8,426.2 563.4,426.3 564.0,426.5 564.6,426.6 565.2,426.8 565.8,426.9 566.4,427.0 567.0,427.1 567.6,427.3 568.2,427.4 568.8,427.5 569.4,427.5 570.0,427.6 570.6,427.7 571.2,427.8 571.8,427.8 572.4,427.9 573.0,428.0 573.6,428.0 574.2,428.0 574.8,428.1 575.4,428.1 576.0,428.2 576.6,428.2 577.2,428.2 577.8,428.3 578.4,428.3 579.0,428.3 579.6,428.3 580.2,428.3 580.8,428.4 581.4,428.4 582.0,428.4 582.6,428.4 583.2,428.4 583.8,428.4 584.4,428.4 585.0,428.4 585.6,428.4 586.2,428.5 586.8,428.5 587.4,428.5 588.0,428.5 588.6,428.5 589.2,428.5 589.8,428.5 590.4,428.5 591.0,428.5 591.6,428.5 592.2,428.5 592.8,428.5 593.4,428.5 594.0,428.5 594.6,428.5 595.2,428.5 595.8,428.5 596.4,428.5 597.0,428.5 597.6,428.5 598.2,428.5 598.8,428.5 599.4,428.5 600.0,428.5 600.6,428.5 601.2,428.5 601.8,428.5 602.4,428.5 603.0,428.5 603.6,428.5 604.2,428.5 604.8,428.5 605.4,428.5 606.0,428.5 606.6,428.5 607.2,428.5 607.8,428.5 608.4,428.5 609.0,428.5 609.6,428.5 610.2,428.5 610.8,428.5 611.4,428.5 612.0,428.5 612.6,428.5 613.2,428.5 613.8,428.5 614.4,428.5 615.0,428.4 615.6,428.4 616.2,428.4 616.8,428.4 617.4,428.4 618.0,428.4 618.6,428.4 619.2,428.4 619.8,428.4 620.4,428.4 621.0,428.4 621.6,428.4 622.2,428.4 622.8,428.4 623.4,428.4 624.0,428.4 624.6,428.4 625.2,428.4 625.8,428.5 626.4,428.5 627.0,428.5 627.6,428.5 628.2,428.5 628.8,428.5 629.4,428.5 630.0,428.5 630.6,428.5" fill="none" stroke="#000080" stroke-width="1.6" stroke-linejoin="round" stroke-linecap="round"/><polyline points="348.0,434.6 348.6,434.5 349.2,434.5 349.8,434.4 350.4,434.4 351.0,434.3 351.6,434.3 352.2,434.2 352.8,434.1 353.4,434.1 354.0,434.0 354.6,433.9 355.2,433.9 355.8,433.8 356.4,433.7 357.0,433.7 357.6,433.6 358.2,433.5 358.8,433.5 359.4,433.4 360.0,433.3 360.6,433.2 361.2,433.1 361.8,433.1 362.4,433.0 363.0,432.9 363.6,432.8 364.2,432.7 364.8,432.6 365.4,432.5 366.0,432.4 366.6,432.4 367.2,432.3 367.8,432.2 368.4,432.1 369.0,431.9 369.6,431.8 370.2,431.7 370.8,431.6 371.4,431.5 372.0,431.4 372.6,431.3 373.2,431.2 373.8,431.0 374.4,430.9 375.0,430.8 375.6,430.6 376.2,430.5 376.8,430.4 377.4,430.2 378.0,430.1 378.6,429.9 379.2,429.8 379.8,429.6 380.4,429.5 381.0,429.3 381.6,429.1 382.2,429.0 382.8,428.8 383.4,428.6 384.0,428.4 384.6,428.2 385.2,428.0 385.8,427.8 386.4,427.6 387.0,427.4 387.6,427.2 388.2,427.0 388.8,426.7 389.4,426.5 390.0,426.3 390.6,426.0 391.2,425.8 391.8,425.5 392.4,425.2 393.0,425.0 393.6,424.7 394.2,424.4 394.8,424.1 395.4,423.8 396.0,423.4 396.6,423.1 397.2,422.8 397.8,422.4 398.4,422.1 399.0,421.7 399.6,421.3 400.2,420.9 400.8,420.5 401.4,420.0 402.0,419.6 402.6,419.1 403.2,418.6 403.8,418.1 404.4,417.6 405.0,417.1 405.6,416.5 406.2,415.9 406.8,415.3 407.4,414.7 408.0,414.0 408.6,413.3 409.2,412.6 409.8,411.9 410.4,411.1 411.0,410.3 411.6,409.5 412.2,408.6 412.8,407.7 413.4,406.7 414.0,405.7 414.6,404.7 415.2,403.6 415.8,402.5 416.4,401.3 417.0,400.1 417.6,398.8 418.2,397.4 418.8,396.0 419.4,394.6 420.0,393.1 420.6,391.5 421.2,389.8 421.8,388.1 422.4,386.3 423.0,384.4 423.6,382.5 424.2,380.4 424.8,378.3 425.4,376.1 426.0,373.8 426.6,371.5 427.2,369.0 427.8,366.4 428.4,363.8 429.0,361.0 429.6,358.2 430.2,355.2 430.8,352.2 431.4,349.0 432.0,345.8 432.6,342.4 433.2,339.0 433.8,335.5 434.4,331.9 435.0,328.3 435.6,324.6 436.2,320.9 436.8,317.1 437.4,313.4 438.0,309.6 438.6,305.8 439.2,302.1 439.8,298.5 440.4,294.9 441.0,291.4 441.6,288.1 442.2,284.9 442.8,281.9 443.4,279.1 444.0,276.6 444.6,274.3 445.2,272.3 445.8,270.6 446.4,269.3 447.0,268.3 447.6,267.6 448.2,267.3 448.8,267.4 449.4,267.9 450.0,268.7 450.6,270.0 451.2,271.6 451.8,273.5 452.4,275.7 453.0,278.2 453.6,280.9 454.2,283.9 454.8,287.0 455.4,290.3 456.0,293.7 456.6,297.2 457.2,300.7 457.8,304.3 458.4,307.9 459.0,311.5 459.6,315.0 460.2,318.6 460.8,322.0 461.4,325.4 462.0,328.8 462.6,332.0 463.2,335.2 463.8,338.2 464.4,341.2 465.0,344.0 465.6,346.7 466.2,349.3 466.8,351.9 467.4,354.2 468.0,356.5 468.6,358.7 469.2,360.8 469.8,362.7 470.4,364.6 471.0,366.3 471.6,368.0 472.2,369.5 472.8,371.0 473.4,372.3 474.0,373.6 474.6,374.7 475.2,375.8 475.8,376.8 476.4,377.7 477.0,378.5 477.6,379.3 478.2,379.9 478.8,380.5 479.4,381.1 480.0,381.5 480.6,381.9 481.2,382.3 481.8,382.6 482.4,382.8 483.0,383.0 483.6,383.2 484.2,383.3 484.8,383.3 485.4,383.4 486.0,383.4 486.6,383.4 487.2,383.3 487.8,383.3 488.4,383.2 489.0,383.2 489.6,383.1 490.2,383.1 490.8,383.0 491.4,383.0 492.0,383.0 492.6,383.0 493.2,383.0 493.8,383.1 494.4,383.2 495.0,383.4 495.6,383.5 496.2,383.7 496.8,384.0 497.4,384.3 498.0,384.6 498.6,385.0 499.2,385.4 499.8,385.8 500.4,386.3 501.0,386.8 501.6,387.3 502.2,387.8 502.8,388.4 503.4,388.9 504.0,389.5 504.6,390.0 505.2,390.6 505.8,391.1 506.4,391.7 507.0,392.2 507.6,392.7 508.2,393.2 508.8,393.7 509.4,394.2 510.0,394.6 510.6,395.1 511.2,395.5 511.8,395.9 512.4,396.3 513.0,396.6 513.6,397.0 514.2,397.3 514.8,397.6 515.4,397.9 516.0,398.1 516.6,398.4 517.2,398.6 517.8,398.8 518.4,399.1 519.0,399.2 519.6,399.4 520.2,399.6 520.8,399.7 521.4,399.9 522.0,400.0 522.6,400.2 523.2,400.3 523.8,400.4 524.4,400.5 525.0,400.7 525.6,400.8 526.2,400.9 526.8,401.0 527.4,401.2 528.0,401.3 528.6,401.4 529.2,401.6 529.8,401.7 530.4,401.9 531.0,402.0 531.6,402.2 532.2,402.4 532.8,402.6 533.4,402.8 534.0,403.1 534.6,403.3 535.2,403.6 535.8,403.9 536.4,404.2 537.0,404.6 537.6,404.9 538.2,405.3 538.8,405.7 539.4,406.1 540.0,406.5 540.6,407.0 541.2,407.4 541.8,407.9 542.4,408.3 543.0,408.8 543.6,409.3 544.2,409.7 544.8,410.2 545.4,410.7 546.0,411.2 546.6,411.7 547.2,412.1 547.8,412.6 548.4,413.1 549.0,413.6 549.6,414.0 550.2,414.5 550.8,414.9 551.4,415.4 552.0,415.8 552.6,416.2 553.2,416.6 553.8,417.0 554.4,417.4 555.0,417.8 555.6,418.2 556.2,418.5 556.8,418.9 557.4,419.2 558.0,419.5 558.6,419.8 559.2,420.1 559.8,420.4 560.4,420.7 561.0,421.0 561.6,421.2 562.2,421.5 562.8,421.7 563.4,421.9 564.0,422.1 564.6,422.3 565.2,422.5 565.8,422.7 566.4,422.9 567.0,423.1 567.6,423.2 568.2,423.4 568.8,423.5 569.4,423.6 570.0,423.8 570.6,423.9 571.2,424.0 571.8,424.1 572.4,424.2 573.0,424.3 573.6,424.4 574.2,424.5 574.8,424.6 575.4,424.6 576.0,424.7 576.6,424.8 577.2,424.8 577.8,424.9 578.4,425.0 579.0,425.0 579.6,425.1 580.2,425.1 580.8,425.2 581.4,425.2 582.0,425.3 582.6,425.3 583.2,425.4 583.8,425.4 584.4,425.4 585.0,425.5 585.6,425.5 586.2,425.5 586.8,425.6 587.4,425.6 588.0,425.6 588.6,425.7 589.2,425.7 589.8,425.7 590.4,425.8 591.0,425.8 591.6,425.8 592.2,425.8 592.8,425.9 593.4,425.9 594.0,425.9 594.6,425.9 595.2,426.0 595.8,426.0 596.4,426.0 597.0,426.0 597.6,426.0 598.2,426.1 598.8,426.1 599.4,426.1 600.0,426.1 600.6,426.1 601.2,426.2 601.8,426.2 602.4,426.2 603.0,426.2 603.6,426.2 604.2,426.2 604.8,426.3 605.4,426.3 606.0,426.3 606.6,426.3 607.2,426.3 607.8,426.3 608.4,426.4 609.0,426.4 609.6,426.4 610.2,426.4 610.8,426.4 611.4,426.4 612.0,426.5 612.6,426.5 613.2,426.5 613.8,426.5 614.4,426.5 615.0,426.5 615.6,426.5 616.2,426.6 616.8,426.6 617.4,426.6 618.0,426.6 618.6,426.6 619.2,426.6 619.8,426.6 620.4,426.7 621.0,426.7 621.6,426.7 622.2,426.7 622.8,426.7 623.4,426.7 624.0,426.7 624.6,426.7 625.2,426.8 625.8,426.8 626.4,426.8 627.0,426.8 627.6,426.8 628.2,426.8 628.8,426.8 629.4,426.9 630.0,426.9 630.6,426.9" fill="none" stroke="#ff0000" stroke-width="1.6" stroke-linejoin="round" stroke-linecap="round"/><polyline points="578.0,92.5 578.6,91.8 579.2,90.8 579.8,89.9 580.4,88.4 581.0,87.0 581.6,85.9 582.2,83.8 582.8,81.4 583.4,79.3 584.0,76.3 584.6,73.0 585.2,69.5 585.8,65.9 586.4,62.6 587.0,58.5 587.6,53.2 588.2,48.2 588.8,43.5 589.4,38.8 590.0,34.8 590.6,30.6 591.2,27.2 591.8,25.2 592.4,23.8 593.0,23.4 593.6,23.5 594.2,25.0 594.8,27.6 595.4,30.5 596.0,33.9 596.6,37.6 597.2,40.9 597.8,45.4 598.4,50.1 599.0,53.9 599.6,57.4 600.2,61.1 600.8,64.2 601.4,66.7 602.0,69.3 602.6,72.1 603.2,73.7 603.8,75.4 604.4,77.0 605.0,77.6 605.6,79.0 606.2,80.0 606.8,80.0 607.4,80.4 608.0,81.3 608.6,81.9 609.2,81.8 609.8,81.7 610.4,82.0" fill="none" stroke="#8b0000" stroke-width="0.9" stroke-linejoin="round" stroke-linecap="round"/>
<rect x="33.0" y="2.0" width="283.5" height="197.0" fill="none" stroke="#000" stroke-width="1.7"/><path d="M80.10,199.0 v-3.6 M134.80,199.0 v-3.6 M189.50,199.0 v-3.6 M244.20,199.0 v-3.6 M298.90,199.0 v-3.6 M52.75,199.0 v-2.0 M107.45,199.0 v-2.0 M162.15,199.0 v-2.0 M216.85,199.0 v-2.0 M271.55,199.0 v-2.0" stroke="#000" stroke-width="1.6" fill="none"/><rect x="347.5" y="1.5" width="287.29999999999995" height="198.3" fill="none" stroke="#000" stroke-width="1.7"/><path d="M376.80,199.8 v-3.6 M435.43,199.8 v-3.6 M494.05,199.8 v-3.6 M552.67,199.8 v-3.6 M611.30,199.8 v-3.6 M406.11,199.8 v-2.0 M464.74,199.8 v-2.0 M523.36,199.8 v-2.0 M581.99,199.8 v-2.0" stroke="#000" stroke-width="1.6" fill="none"/><rect x="32.4" y="241.2" width="280.1" height="199.5" fill="none" stroke="#000" stroke-width="1.7"/><path d="M86.30,440.7 v-3.6 M144.00,440.7 v-3.6 M201.70,440.7 v-3.6 M259.40,440.7 v-3.6 M57.45,440.7 v-2.0 M115.15,440.7 v-2.0 M172.85,440.7 v-2.0 M230.55,440.7 v-2.0 M288.25,440.7 v-2.0" stroke="#000" stroke-width="1.6" fill="none"/><rect x="347.3" y="241.3" width="284.3" height="198.7" fill="none" stroke="#000" stroke-width="1.7"/><path d="M402.90,440.0 v-3.6 M461.20,440.0 v-3.6 M519.50,440.0 v-3.6 M577.80,440.0 v-3.6 M373.75,440.0 v-2.0 M432.05,440.0 v-2.0 M490.35,440.0 v-2.0 M548.65,440.0 v-2.0 M606.95,440.0 v-2.0" stroke="#000" stroke-width="1.6" fill="none"/>
</svg></body></html>
